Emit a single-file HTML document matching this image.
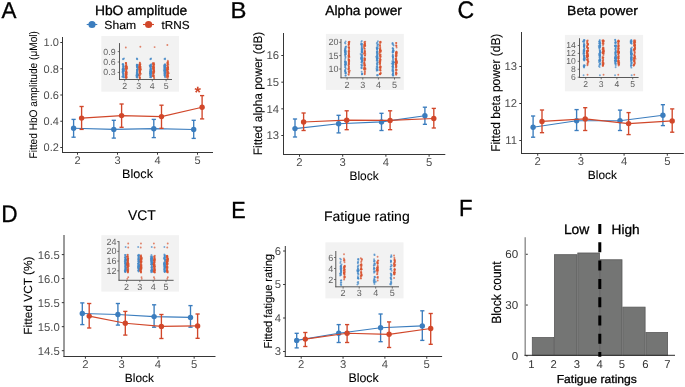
<!DOCTYPE html>
<html><head><meta charset="utf-8"><style>
html,body{margin:0;padding:0;background:#fff;}
svg{display:block;will-change:transform;text-rendering:geometricPrecision;font-family:"Liberation Sans", sans-serif;}
</style></head><body>
<svg width="685" height="387" viewBox="0 0 685 387">
<rect width="685" height="387" fill="#fff"/>
<line x1="86.70" y1="24.50" x2="97.30" y2="24.50" stroke="#3B7DBE" stroke-width="1.1"/>
<circle cx="92.00" cy="24.50" r="3.6" fill="#3B7DBE"/>
<line x1="143.00" y1="24.50" x2="154.00" y2="24.50" stroke="#D1472A" stroke-width="1.1"/>
<circle cx="148.60" cy="24.50" r="3.6" fill="#D1472A"/>
<line x1="62.50" y1="37.00" x2="62.50" y2="153.00" stroke="#363636" stroke-width="1.0"/>
<line x1="62.00" y1="152.50" x2="213.00" y2="152.50" stroke="#363636" stroke-width="1.0"/>
<line x1="60.30" y1="147.50" x2="62.50" y2="147.50" stroke="#363636" stroke-width="1.0"/>
<text x="58.90" y="151.29" font-size="11.00" text-anchor="end" fill="#4D4D4D">0.2</text>
<line x1="60.30" y1="121.25" x2="62.50" y2="121.25" stroke="#363636" stroke-width="1.0"/>
<text x="58.90" y="125.05" font-size="11.00" text-anchor="end" fill="#4D4D4D">0.4</text>
<line x1="60.30" y1="95.00" x2="62.50" y2="95.00" stroke="#363636" stroke-width="1.0"/>
<text x="58.90" y="98.80" font-size="11.00" text-anchor="end" fill="#4D4D4D">0.6</text>
<line x1="60.30" y1="68.75" x2="62.50" y2="68.75" stroke="#363636" stroke-width="1.0"/>
<text x="58.90" y="72.55" font-size="11.00" text-anchor="end" fill="#4D4D4D">0.8</text>
<line x1="60.30" y1="42.50" x2="62.50" y2="42.50" stroke="#363636" stroke-width="1.0"/>
<text x="58.90" y="46.30" font-size="11.00" text-anchor="end" fill="#4D4D4D">1.0</text>
<line x1="77.50" y1="152.50" x2="77.50" y2="154.70" stroke="#363636" stroke-width="1.0"/>
<text x="77.50" y="164.09" font-size="11.00" text-anchor="middle" fill="#4D4D4D">2</text>
<line x1="117.50" y1="152.50" x2="117.50" y2="154.70" stroke="#363636" stroke-width="1.0"/>
<text x="117.50" y="164.09" font-size="11.00" text-anchor="middle" fill="#4D4D4D">3</text>
<line x1="157.50" y1="152.50" x2="157.50" y2="154.70" stroke="#363636" stroke-width="1.0"/>
<text x="157.50" y="164.09" font-size="11.00" text-anchor="middle" fill="#4D4D4D">4</text>
<line x1="197.50" y1="152.50" x2="197.50" y2="154.70" stroke="#363636" stroke-width="1.0"/>
<text x="197.50" y="164.09" font-size="11.00" text-anchor="middle" fill="#4D4D4D">5</text>
<path d="M73.60,128.20 L113.80,129.40 L153.80,128.70 L193.70,129.50" fill="none" stroke="#3B7DBE" stroke-width="1.15"/>
<line x1="73.60" y1="119.40" x2="73.60" y2="137.20" stroke="#3B7DBE" stroke-width="1.35"/>
<line x1="71.50" y1="119.40" x2="75.70" y2="119.40" stroke="#3B7DBE" stroke-width="1.35"/>
<line x1="71.50" y1="137.20" x2="75.70" y2="137.20" stroke="#3B7DBE" stroke-width="1.35"/>
<circle cx="73.60" cy="128.20" r="2.7" fill="#3B7DBE"/>
<line x1="113.80" y1="120.30" x2="113.80" y2="138.10" stroke="#3B7DBE" stroke-width="1.35"/>
<line x1="111.70" y1="120.30" x2="115.90" y2="120.30" stroke="#3B7DBE" stroke-width="1.35"/>
<line x1="111.70" y1="138.10" x2="115.90" y2="138.10" stroke="#3B7DBE" stroke-width="1.35"/>
<circle cx="113.80" cy="129.40" r="2.7" fill="#3B7DBE"/>
<line x1="153.80" y1="119.40" x2="153.80" y2="137.60" stroke="#3B7DBE" stroke-width="1.35"/>
<line x1="151.70" y1="119.40" x2="155.90" y2="119.40" stroke="#3B7DBE" stroke-width="1.35"/>
<line x1="151.70" y1="137.60" x2="155.90" y2="137.60" stroke="#3B7DBE" stroke-width="1.35"/>
<circle cx="153.80" cy="128.70" r="2.7" fill="#3B7DBE"/>
<line x1="193.70" y1="120.30" x2="193.70" y2="138.40" stroke="#3B7DBE" stroke-width="1.35"/>
<line x1="191.60" y1="120.30" x2="195.80" y2="120.30" stroke="#3B7DBE" stroke-width="1.35"/>
<line x1="191.60" y1="138.40" x2="195.80" y2="138.40" stroke="#3B7DBE" stroke-width="1.35"/>
<circle cx="193.70" cy="129.50" r="2.7" fill="#3B7DBE"/>
<path d="M81.60,118.10 L121.60,115.60 L161.50,116.60 L202.10,107.30" fill="none" stroke="#D1472A" stroke-width="1.15"/>
<line x1="81.60" y1="106.50" x2="81.60" y2="129.40" stroke="#D1472A" stroke-width="1.35"/>
<line x1="79.50" y1="106.50" x2="83.70" y2="106.50" stroke="#D1472A" stroke-width="1.35"/>
<line x1="79.50" y1="129.40" x2="83.70" y2="129.40" stroke="#D1472A" stroke-width="1.35"/>
<circle cx="81.60" cy="118.10" r="2.7" fill="#D1472A"/>
<line x1="121.60" y1="104.00" x2="121.60" y2="127.30" stroke="#D1472A" stroke-width="1.35"/>
<line x1="119.50" y1="104.00" x2="123.70" y2="104.00" stroke="#D1472A" stroke-width="1.35"/>
<line x1="119.50" y1="127.30" x2="123.70" y2="127.30" stroke="#D1472A" stroke-width="1.35"/>
<circle cx="121.60" cy="115.60" r="2.7" fill="#D1472A"/>
<line x1="161.50" y1="105.20" x2="161.50" y2="128.30" stroke="#D1472A" stroke-width="1.35"/>
<line x1="159.40" y1="105.20" x2="163.60" y2="105.20" stroke="#D1472A" stroke-width="1.35"/>
<line x1="159.40" y1="128.30" x2="163.60" y2="128.30" stroke="#D1472A" stroke-width="1.35"/>
<circle cx="161.50" cy="116.60" r="2.7" fill="#D1472A"/>
<line x1="202.10" y1="95.60" x2="202.10" y2="118.90" stroke="#D1472A" stroke-width="1.35"/>
<line x1="200.00" y1="95.60" x2="204.20" y2="95.60" stroke="#D1472A" stroke-width="1.35"/>
<line x1="200.00" y1="118.90" x2="204.20" y2="118.90" stroke="#D1472A" stroke-width="1.35"/>
<circle cx="202.10" cy="107.30" r="2.7" fill="#D1472A"/>
<text x="197.60" y="97.60" font-size="16.50" text-anchor="middle" fill="#D1472A" font-weight="bold">*</text>
<rect x="101.30" y="36.00" width="77.70" height="55.70" fill="#F2F2F2"/>
<circle cx="122.80" cy="71.48" r="0.95" fill="#4589C8" fill-opacity="0.7"/>
<circle cx="123.65" cy="70.03" r="0.95" fill="#4589C8" fill-opacity="0.7"/>
<circle cx="123.57" cy="65.10" r="0.95" fill="#4589C8" fill-opacity="0.7"/>
<circle cx="123.33" cy="71.30" r="0.95" fill="#4589C8" fill-opacity="0.7"/>
<circle cx="122.94" cy="70.73" r="0.95" fill="#4589C8" fill-opacity="0.7"/>
<circle cx="122.50" cy="69.66" r="0.95" fill="#4589C8" fill-opacity="0.7"/>
<circle cx="123.49" cy="75.10" r="0.95" fill="#4589C8" fill-opacity="0.7"/>
<circle cx="123.26" cy="70.68" r="0.95" fill="#4589C8" fill-opacity="0.7"/>
<circle cx="122.63" cy="69.08" r="0.95" fill="#4589C8" fill-opacity="0.7"/>
<circle cx="123.28" cy="66.88" r="0.95" fill="#4589C8" fill-opacity="0.7"/>
<circle cx="122.69" cy="76.33" r="0.95" fill="#4589C8" fill-opacity="0.7"/>
<circle cx="123.29" cy="73.50" r="0.95" fill="#4589C8" fill-opacity="0.7"/>
<circle cx="123.36" cy="76.37" r="0.95" fill="#4589C8" fill-opacity="0.7"/>
<circle cx="123.44" cy="66.65" r="0.95" fill="#4589C8" fill-opacity="0.7"/>
<circle cx="123.39" cy="68.22" r="0.95" fill="#4589C8" fill-opacity="0.7"/>
<circle cx="123.37" cy="77.03" r="0.95" fill="#4589C8" fill-opacity="0.7"/>
<circle cx="122.84" cy="64.32" r="0.95" fill="#4589C8" fill-opacity="0.7"/>
<circle cx="123.15" cy="64.56" r="0.95" fill="#4589C8" fill-opacity="0.7"/>
<circle cx="123.10" cy="68.76" r="0.95" fill="#4589C8" fill-opacity="0.7"/>
<circle cx="123.21" cy="69.28" r="0.95" fill="#4589C8" fill-opacity="0.7"/>
<circle cx="123.41" cy="75.47" r="0.95" fill="#4589C8" fill-opacity="0.7"/>
<circle cx="123.55" cy="77.40" r="0.95" fill="#4589C8" fill-opacity="0.7"/>
<circle cx="123.95" cy="70.46" r="0.95" fill="#4589C8" fill-opacity="0.7"/>
<circle cx="122.27" cy="76.79" r="0.95" fill="#4589C8" fill-opacity="0.7"/>
<circle cx="123.46" cy="75.03" r="0.95" fill="#4589C8" fill-opacity="0.7"/>
<circle cx="123.22" cy="74.33" r="0.95" fill="#4589C8" fill-opacity="0.7"/>
<circle cx="124.21" cy="77.19" r="0.95" fill="#4589C8" fill-opacity="0.7"/>
<circle cx="123.67" cy="71.33" r="0.95" fill="#4589C8" fill-opacity="0.7"/>
<circle cx="122.64" cy="71.64" r="0.95" fill="#4589C8" fill-opacity="0.7"/>
<circle cx="123.46" cy="66.21" r="0.95" fill="#4589C8" fill-opacity="0.7"/>
<circle cx="123.09" cy="70.58" r="0.95" fill="#4589C8" fill-opacity="0.7"/>
<circle cx="123.70" cy="68.94" r="0.95" fill="#4589C8" fill-opacity="0.7"/>
<circle cx="122.88" cy="70.84" r="0.95" fill="#4589C8" fill-opacity="0.7"/>
<circle cx="123.26" cy="68.64" r="0.95" fill="#4589C8" fill-opacity="0.7"/>
<circle cx="123.25" cy="71.42" r="0.95" fill="#4589C8" fill-opacity="0.7"/>
<circle cx="123.26" cy="73.84" r="0.95" fill="#4589C8" fill-opacity="0.7"/>
<circle cx="123.07" cy="64.11" r="0.95" fill="#4589C8" fill-opacity="0.7"/>
<circle cx="122.56" cy="64.14" r="0.95" fill="#4589C8" fill-opacity="0.7"/>
<circle cx="123.48" cy="66.24" r="0.95" fill="#4589C8" fill-opacity="0.7"/>
<circle cx="123.70" cy="68.03" r="0.95" fill="#4589C8" fill-opacity="0.7"/>
<circle cx="123.27" cy="71.62" r="0.95" fill="#4589C8" fill-opacity="0.7"/>
<circle cx="122.89" cy="69.05" r="0.95" fill="#4589C8" fill-opacity="0.7"/>
<circle cx="123.38" cy="71.09" r="0.95" fill="#4589C8" fill-opacity="0.7"/>
<circle cx="123.53" cy="69.84" r="0.95" fill="#4589C8" fill-opacity="0.7"/>
<circle cx="123.23" cy="70.56" r="0.95" fill="#4589C8" fill-opacity="0.7"/>
<circle cx="123.29" cy="73.56" r="0.95" fill="#4589C8" fill-opacity="0.7"/>
<circle cx="123.86" cy="69.32" r="0.95" fill="#4589C8" fill-opacity="0.7"/>
<circle cx="122.85" cy="73.04" r="0.95" fill="#4589C8" fill-opacity="0.7"/>
<circle cx="123.08" cy="65.78" r="0.95" fill="#4589C8" fill-opacity="0.7"/>
<circle cx="122.54" cy="72.21" r="0.95" fill="#4589C8" fill-opacity="0.7"/>
<circle cx="123.02" cy="68.98" r="0.95" fill="#4589C8" fill-opacity="0.7"/>
<circle cx="123.00" cy="70.83" r="0.95" fill="#4589C8" fill-opacity="0.7"/>
<circle cx="122.92" cy="68.26" r="0.95" fill="#4589C8" fill-opacity="0.7"/>
<circle cx="123.02" cy="59.23" r="0.95" fill="#4589C8" fill-opacity="0.7"/>
<circle cx="124.02" cy="58.53" r="0.95" fill="#4589C8" fill-opacity="0.7"/>
<circle cx="123.22" cy="58.88" r="0.95" fill="#4589C8" fill-opacity="0.7"/>
<circle cx="126.15" cy="63.01" r="0.95" fill="#D9532F" fill-opacity="0.7"/>
<circle cx="127.08" cy="72.51" r="0.95" fill="#D9532F" fill-opacity="0.7"/>
<circle cx="126.18" cy="77.80" r="0.95" fill="#D9532F" fill-opacity="0.7"/>
<circle cx="125.51" cy="68.73" r="0.95" fill="#D9532F" fill-opacity="0.7"/>
<circle cx="126.36" cy="66.30" r="0.95" fill="#D9532F" fill-opacity="0.7"/>
<circle cx="125.83" cy="74.59" r="0.95" fill="#D9532F" fill-opacity="0.7"/>
<circle cx="126.86" cy="77.57" r="0.95" fill="#D9532F" fill-opacity="0.7"/>
<circle cx="125.70" cy="73.57" r="0.95" fill="#D9532F" fill-opacity="0.7"/>
<circle cx="125.97" cy="63.28" r="0.95" fill="#D9532F" fill-opacity="0.7"/>
<circle cx="125.56" cy="66.64" r="0.95" fill="#D9532F" fill-opacity="0.7"/>
<circle cx="126.24" cy="77.06" r="0.95" fill="#D9532F" fill-opacity="0.7"/>
<circle cx="125.79" cy="74.97" r="0.95" fill="#D9532F" fill-opacity="0.7"/>
<circle cx="126.17" cy="77.34" r="0.95" fill="#D9532F" fill-opacity="0.7"/>
<circle cx="126.05" cy="78.01" r="0.95" fill="#D9532F" fill-opacity="0.7"/>
<circle cx="125.95" cy="66.00" r="0.95" fill="#D9532F" fill-opacity="0.7"/>
<circle cx="126.58" cy="76.09" r="0.95" fill="#D9532F" fill-opacity="0.7"/>
<circle cx="126.57" cy="69.87" r="0.95" fill="#D9532F" fill-opacity="0.7"/>
<circle cx="126.22" cy="71.70" r="0.95" fill="#D9532F" fill-opacity="0.7"/>
<circle cx="125.84" cy="75.88" r="0.95" fill="#D9532F" fill-opacity="0.7"/>
<circle cx="125.77" cy="67.06" r="0.95" fill="#D9532F" fill-opacity="0.7"/>
<circle cx="126.31" cy="76.85" r="0.95" fill="#D9532F" fill-opacity="0.7"/>
<circle cx="127.16" cy="68.50" r="0.95" fill="#D9532F" fill-opacity="0.7"/>
<circle cx="126.02" cy="77.09" r="0.95" fill="#D9532F" fill-opacity="0.7"/>
<circle cx="125.89" cy="72.13" r="0.95" fill="#D9532F" fill-opacity="0.7"/>
<circle cx="125.92" cy="75.52" r="0.95" fill="#D9532F" fill-opacity="0.7"/>
<circle cx="125.76" cy="74.59" r="0.95" fill="#D9532F" fill-opacity="0.7"/>
<circle cx="125.81" cy="63.17" r="0.95" fill="#D9532F" fill-opacity="0.7"/>
<circle cx="126.12" cy="65.90" r="0.95" fill="#D9532F" fill-opacity="0.7"/>
<circle cx="126.77" cy="74.03" r="0.95" fill="#D9532F" fill-opacity="0.7"/>
<circle cx="126.20" cy="64.57" r="0.95" fill="#D9532F" fill-opacity="0.7"/>
<circle cx="126.00" cy="75.55" r="0.95" fill="#D9532F" fill-opacity="0.7"/>
<circle cx="125.55" cy="72.56" r="0.95" fill="#D9532F" fill-opacity="0.7"/>
<circle cx="126.29" cy="65.07" r="0.95" fill="#D9532F" fill-opacity="0.7"/>
<circle cx="126.19" cy="68.53" r="0.95" fill="#D9532F" fill-opacity="0.7"/>
<circle cx="125.71" cy="77.35" r="0.95" fill="#D9532F" fill-opacity="0.7"/>
<circle cx="125.77" cy="62.87" r="0.95" fill="#D9532F" fill-opacity="0.7"/>
<circle cx="126.18" cy="75.51" r="0.95" fill="#D9532F" fill-opacity="0.7"/>
<circle cx="126.60" cy="74.78" r="0.95" fill="#D9532F" fill-opacity="0.7"/>
<circle cx="126.45" cy="66.40" r="0.95" fill="#D9532F" fill-opacity="0.7"/>
<circle cx="126.28" cy="73.63" r="0.95" fill="#D9532F" fill-opacity="0.7"/>
<circle cx="126.07" cy="72.80" r="0.95" fill="#D9532F" fill-opacity="0.7"/>
<circle cx="126.33" cy="71.21" r="0.95" fill="#D9532F" fill-opacity="0.7"/>
<circle cx="126.20" cy="69.62" r="0.95" fill="#D9532F" fill-opacity="0.7"/>
<circle cx="127.07" cy="67.20" r="0.95" fill="#D9532F" fill-opacity="0.7"/>
<circle cx="125.75" cy="68.53" r="0.95" fill="#D9532F" fill-opacity="0.7"/>
<circle cx="126.05" cy="70.65" r="0.95" fill="#D9532F" fill-opacity="0.7"/>
<circle cx="126.71" cy="66.43" r="0.95" fill="#D9532F" fill-opacity="0.7"/>
<circle cx="126.09" cy="73.32" r="0.95" fill="#D9532F" fill-opacity="0.7"/>
<circle cx="126.77" cy="68.26" r="0.95" fill="#D9532F" fill-opacity="0.7"/>
<circle cx="126.18" cy="67.22" r="0.95" fill="#D9532F" fill-opacity="0.7"/>
<circle cx="126.26" cy="71.79" r="0.95" fill="#D9532F" fill-opacity="0.7"/>
<circle cx="126.05" cy="76.68" r="0.95" fill="#D9532F" fill-opacity="0.7"/>
<circle cx="125.65" cy="73.79" r="0.95" fill="#D9532F" fill-opacity="0.7"/>
<circle cx="125.81" cy="47.44" r="0.95" fill="#D9532F" fill-opacity="0.7"/>
<circle cx="138.09" cy="75.13" r="0.95" fill="#4589C8" fill-opacity="0.7"/>
<circle cx="137.46" cy="75.52" r="0.95" fill="#4589C8" fill-opacity="0.7"/>
<circle cx="137.44" cy="65.32" r="0.95" fill="#4589C8" fill-opacity="0.7"/>
<circle cx="137.58" cy="66.54" r="0.95" fill="#4589C8" fill-opacity="0.7"/>
<circle cx="137.43" cy="74.23" r="0.95" fill="#4589C8" fill-opacity="0.7"/>
<circle cx="137.61" cy="75.03" r="0.95" fill="#4589C8" fill-opacity="0.7"/>
<circle cx="137.09" cy="67.60" r="0.95" fill="#4589C8" fill-opacity="0.7"/>
<circle cx="137.11" cy="64.89" r="0.95" fill="#4589C8" fill-opacity="0.7"/>
<circle cx="137.59" cy="74.94" r="0.95" fill="#4589C8" fill-opacity="0.7"/>
<circle cx="137.06" cy="64.75" r="0.95" fill="#4589C8" fill-opacity="0.7"/>
<circle cx="136.67" cy="65.67" r="0.95" fill="#4589C8" fill-opacity="0.7"/>
<circle cx="137.11" cy="69.44" r="0.95" fill="#4589C8" fill-opacity="0.7"/>
<circle cx="136.98" cy="71.90" r="0.95" fill="#4589C8" fill-opacity="0.7"/>
<circle cx="137.45" cy="76.20" r="0.95" fill="#4589C8" fill-opacity="0.7"/>
<circle cx="136.91" cy="77.08" r="0.95" fill="#4589C8" fill-opacity="0.7"/>
<circle cx="136.78" cy="64.58" r="0.95" fill="#4589C8" fill-opacity="0.7"/>
<circle cx="137.07" cy="74.38" r="0.95" fill="#4589C8" fill-opacity="0.7"/>
<circle cx="137.82" cy="68.07" r="0.95" fill="#4589C8" fill-opacity="0.7"/>
<circle cx="137.18" cy="74.13" r="0.95" fill="#4589C8" fill-opacity="0.7"/>
<circle cx="137.26" cy="66.46" r="0.95" fill="#4589C8" fill-opacity="0.7"/>
<circle cx="137.20" cy="69.54" r="0.95" fill="#4589C8" fill-opacity="0.7"/>
<circle cx="137.32" cy="73.63" r="0.95" fill="#4589C8" fill-opacity="0.7"/>
<circle cx="137.57" cy="75.23" r="0.95" fill="#4589C8" fill-opacity="0.7"/>
<circle cx="137.76" cy="67.86" r="0.95" fill="#4589C8" fill-opacity="0.7"/>
<circle cx="136.54" cy="76.67" r="0.95" fill="#4589C8" fill-opacity="0.7"/>
<circle cx="137.74" cy="74.51" r="0.95" fill="#4589C8" fill-opacity="0.7"/>
<circle cx="137.20" cy="70.04" r="0.95" fill="#4589C8" fill-opacity="0.7"/>
<circle cx="137.07" cy="66.08" r="0.95" fill="#4589C8" fill-opacity="0.7"/>
<circle cx="138.16" cy="69.29" r="0.95" fill="#4589C8" fill-opacity="0.7"/>
<circle cx="137.13" cy="73.81" r="0.95" fill="#4589C8" fill-opacity="0.7"/>
<circle cx="137.98" cy="65.20" r="0.95" fill="#4589C8" fill-opacity="0.7"/>
<circle cx="137.59" cy="74.84" r="0.95" fill="#4589C8" fill-opacity="0.7"/>
<circle cx="136.79" cy="77.38" r="0.95" fill="#4589C8" fill-opacity="0.7"/>
<circle cx="137.40" cy="73.96" r="0.95" fill="#4589C8" fill-opacity="0.7"/>
<circle cx="137.49" cy="71.57" r="0.95" fill="#4589C8" fill-opacity="0.7"/>
<circle cx="137.15" cy="76.78" r="0.95" fill="#4589C8" fill-opacity="0.7"/>
<circle cx="136.27" cy="75.22" r="0.95" fill="#4589C8" fill-opacity="0.7"/>
<circle cx="137.06" cy="72.61" r="0.95" fill="#4589C8" fill-opacity="0.7"/>
<circle cx="137.12" cy="69.86" r="0.95" fill="#4589C8" fill-opacity="0.7"/>
<circle cx="136.76" cy="75.82" r="0.95" fill="#4589C8" fill-opacity="0.7"/>
<circle cx="137.93" cy="74.53" r="0.95" fill="#4589C8" fill-opacity="0.7"/>
<circle cx="137.10" cy="66.50" r="0.95" fill="#4589C8" fill-opacity="0.7"/>
<circle cx="137.04" cy="66.91" r="0.95" fill="#4589C8" fill-opacity="0.7"/>
<circle cx="137.08" cy="71.32" r="0.95" fill="#4589C8" fill-opacity="0.7"/>
<circle cx="136.89" cy="72.13" r="0.95" fill="#4589C8" fill-opacity="0.7"/>
<circle cx="136.89" cy="74.18" r="0.95" fill="#4589C8" fill-opacity="0.7"/>
<circle cx="137.24" cy="70.38" r="0.95" fill="#4589C8" fill-opacity="0.7"/>
<circle cx="137.33" cy="70.28" r="0.95" fill="#4589C8" fill-opacity="0.7"/>
<circle cx="137.00" cy="64.94" r="0.95" fill="#4589C8" fill-opacity="0.7"/>
<circle cx="137.16" cy="70.17" r="0.95" fill="#4589C8" fill-opacity="0.7"/>
<circle cx="136.64" cy="72.94" r="0.95" fill="#4589C8" fill-opacity="0.7"/>
<circle cx="137.41" cy="77.45" r="0.95" fill="#4589C8" fill-opacity="0.7"/>
<circle cx="136.90" cy="67.03" r="0.95" fill="#4589C8" fill-opacity="0.7"/>
<circle cx="137.29" cy="59.23" r="0.95" fill="#4589C8" fill-opacity="0.7"/>
<circle cx="136.84" cy="58.53" r="0.95" fill="#4589C8" fill-opacity="0.7"/>
<circle cx="136.99" cy="58.88" r="0.95" fill="#4589C8" fill-opacity="0.7"/>
<circle cx="139.99" cy="71.13" r="0.95" fill="#D9532F" fill-opacity="0.7"/>
<circle cx="139.42" cy="67.08" r="0.95" fill="#D9532F" fill-opacity="0.7"/>
<circle cx="140.89" cy="73.79" r="0.95" fill="#D9532F" fill-opacity="0.7"/>
<circle cx="139.89" cy="62.70" r="0.95" fill="#D9532F" fill-opacity="0.7"/>
<circle cx="139.87" cy="77.76" r="0.95" fill="#D9532F" fill-opacity="0.7"/>
<circle cx="139.61" cy="70.09" r="0.95" fill="#D9532F" fill-opacity="0.7"/>
<circle cx="140.54" cy="66.98" r="0.95" fill="#D9532F" fill-opacity="0.7"/>
<circle cx="140.45" cy="64.32" r="0.95" fill="#D9532F" fill-opacity="0.7"/>
<circle cx="140.02" cy="66.98" r="0.95" fill="#D9532F" fill-opacity="0.7"/>
<circle cx="139.35" cy="67.52" r="0.95" fill="#D9532F" fill-opacity="0.7"/>
<circle cx="139.70" cy="66.06" r="0.95" fill="#D9532F" fill-opacity="0.7"/>
<circle cx="140.15" cy="64.08" r="0.95" fill="#D9532F" fill-opacity="0.7"/>
<circle cx="139.70" cy="73.25" r="0.95" fill="#D9532F" fill-opacity="0.7"/>
<circle cx="139.43" cy="67.82" r="0.95" fill="#D9532F" fill-opacity="0.7"/>
<circle cx="139.42" cy="64.31" r="0.95" fill="#D9532F" fill-opacity="0.7"/>
<circle cx="139.59" cy="64.79" r="0.95" fill="#D9532F" fill-opacity="0.7"/>
<circle cx="139.91" cy="72.19" r="0.95" fill="#D9532F" fill-opacity="0.7"/>
<circle cx="139.64" cy="66.11" r="0.95" fill="#D9532F" fill-opacity="0.7"/>
<circle cx="139.91" cy="64.92" r="0.95" fill="#D9532F" fill-opacity="0.7"/>
<circle cx="141.02" cy="69.65" r="0.95" fill="#D9532F" fill-opacity="0.7"/>
<circle cx="140.61" cy="68.80" r="0.95" fill="#D9532F" fill-opacity="0.7"/>
<circle cx="139.48" cy="72.76" r="0.95" fill="#D9532F" fill-opacity="0.7"/>
<circle cx="140.04" cy="69.49" r="0.95" fill="#D9532F" fill-opacity="0.7"/>
<circle cx="139.93" cy="69.07" r="0.95" fill="#D9532F" fill-opacity="0.7"/>
<circle cx="139.84" cy="77.68" r="0.95" fill="#D9532F" fill-opacity="0.7"/>
<circle cx="140.32" cy="68.57" r="0.95" fill="#D9532F" fill-opacity="0.7"/>
<circle cx="139.77" cy="62.80" r="0.95" fill="#D9532F" fill-opacity="0.7"/>
<circle cx="139.77" cy="64.65" r="0.95" fill="#D9532F" fill-opacity="0.7"/>
<circle cx="139.75" cy="67.12" r="0.95" fill="#D9532F" fill-opacity="0.7"/>
<circle cx="139.86" cy="72.66" r="0.95" fill="#D9532F" fill-opacity="0.7"/>
<circle cx="140.41" cy="67.01" r="0.95" fill="#D9532F" fill-opacity="0.7"/>
<circle cx="140.21" cy="69.52" r="0.95" fill="#D9532F" fill-opacity="0.7"/>
<circle cx="139.36" cy="71.81" r="0.95" fill="#D9532F" fill-opacity="0.7"/>
<circle cx="139.72" cy="65.33" r="0.95" fill="#D9532F" fill-opacity="0.7"/>
<circle cx="139.58" cy="77.62" r="0.95" fill="#D9532F" fill-opacity="0.7"/>
<circle cx="140.23" cy="66.76" r="0.95" fill="#D9532F" fill-opacity="0.7"/>
<circle cx="139.99" cy="78.50" r="0.95" fill="#D9532F" fill-opacity="0.7"/>
<circle cx="140.26" cy="69.19" r="0.95" fill="#D9532F" fill-opacity="0.7"/>
<circle cx="139.88" cy="71.15" r="0.95" fill="#D9532F" fill-opacity="0.7"/>
<circle cx="139.14" cy="75.24" r="0.95" fill="#D9532F" fill-opacity="0.7"/>
<circle cx="140.08" cy="70.22" r="0.95" fill="#D9532F" fill-opacity="0.7"/>
<circle cx="139.99" cy="72.06" r="0.95" fill="#D9532F" fill-opacity="0.7"/>
<circle cx="140.10" cy="74.46" r="0.95" fill="#D9532F" fill-opacity="0.7"/>
<circle cx="139.38" cy="76.36" r="0.95" fill="#D9532F" fill-opacity="0.7"/>
<circle cx="139.93" cy="75.67" r="0.95" fill="#D9532F" fill-opacity="0.7"/>
<circle cx="139.62" cy="70.86" r="0.95" fill="#D9532F" fill-opacity="0.7"/>
<circle cx="139.63" cy="70.35" r="0.95" fill="#D9532F" fill-opacity="0.7"/>
<circle cx="140.04" cy="72.39" r="0.95" fill="#D9532F" fill-opacity="0.7"/>
<circle cx="140.04" cy="66.18" r="0.95" fill="#D9532F" fill-opacity="0.7"/>
<circle cx="139.54" cy="70.26" r="0.95" fill="#D9532F" fill-opacity="0.7"/>
<circle cx="139.22" cy="68.94" r="0.95" fill="#D9532F" fill-opacity="0.7"/>
<circle cx="138.91" cy="66.87" r="0.95" fill="#D9532F" fill-opacity="0.7"/>
<circle cx="139.67" cy="73.51" r="0.95" fill="#D9532F" fill-opacity="0.7"/>
<circle cx="140.35" cy="46.75" r="0.95" fill="#D9532F" fill-opacity="0.7"/>
<circle cx="150.58" cy="71.63" r="0.95" fill="#4589C8" fill-opacity="0.7"/>
<circle cx="149.70" cy="65.54" r="0.95" fill="#4589C8" fill-opacity="0.7"/>
<circle cx="150.25" cy="73.18" r="0.95" fill="#4589C8" fill-opacity="0.7"/>
<circle cx="150.77" cy="68.60" r="0.95" fill="#4589C8" fill-opacity="0.7"/>
<circle cx="151.27" cy="74.92" r="0.95" fill="#4589C8" fill-opacity="0.7"/>
<circle cx="151.07" cy="71.77" r="0.95" fill="#4589C8" fill-opacity="0.7"/>
<circle cx="150.75" cy="66.70" r="0.95" fill="#4589C8" fill-opacity="0.7"/>
<circle cx="150.68" cy="65.24" r="0.95" fill="#4589C8" fill-opacity="0.7"/>
<circle cx="150.18" cy="65.70" r="0.95" fill="#4589C8" fill-opacity="0.7"/>
<circle cx="150.42" cy="72.40" r="0.95" fill="#4589C8" fill-opacity="0.7"/>
<circle cx="150.47" cy="69.72" r="0.95" fill="#4589C8" fill-opacity="0.7"/>
<circle cx="150.29" cy="73.32" r="0.95" fill="#4589C8" fill-opacity="0.7"/>
<circle cx="150.63" cy="75.76" r="0.95" fill="#4589C8" fill-opacity="0.7"/>
<circle cx="150.44" cy="70.89" r="0.95" fill="#4589C8" fill-opacity="0.7"/>
<circle cx="150.73" cy="66.28" r="0.95" fill="#4589C8" fill-opacity="0.7"/>
<circle cx="151.17" cy="66.13" r="0.95" fill="#4589C8" fill-opacity="0.7"/>
<circle cx="150.90" cy="67.98" r="0.95" fill="#4589C8" fill-opacity="0.7"/>
<circle cx="150.77" cy="64.76" r="0.95" fill="#4589C8" fill-opacity="0.7"/>
<circle cx="150.50" cy="73.86" r="0.95" fill="#4589C8" fill-opacity="0.7"/>
<circle cx="149.99" cy="75.31" r="0.95" fill="#4589C8" fill-opacity="0.7"/>
<circle cx="150.55" cy="71.51" r="0.95" fill="#4589C8" fill-opacity="0.7"/>
<circle cx="150.82" cy="73.88" r="0.95" fill="#4589C8" fill-opacity="0.7"/>
<circle cx="150.20" cy="74.71" r="0.95" fill="#4589C8" fill-opacity="0.7"/>
<circle cx="151.10" cy="72.00" r="0.95" fill="#4589C8" fill-opacity="0.7"/>
<circle cx="150.47" cy="69.14" r="0.95" fill="#4589C8" fill-opacity="0.7"/>
<circle cx="150.75" cy="70.92" r="0.95" fill="#4589C8" fill-opacity="0.7"/>
<circle cx="150.47" cy="73.34" r="0.95" fill="#4589C8" fill-opacity="0.7"/>
<circle cx="150.10" cy="66.26" r="0.95" fill="#4589C8" fill-opacity="0.7"/>
<circle cx="151.43" cy="64.32" r="0.95" fill="#4589C8" fill-opacity="0.7"/>
<circle cx="150.14" cy="71.48" r="0.95" fill="#4589C8" fill-opacity="0.7"/>
<circle cx="150.97" cy="76.59" r="0.95" fill="#4589C8" fill-opacity="0.7"/>
<circle cx="150.38" cy="77.17" r="0.95" fill="#4589C8" fill-opacity="0.7"/>
<circle cx="150.71" cy="65.80" r="0.95" fill="#4589C8" fill-opacity="0.7"/>
<circle cx="150.28" cy="77.04" r="0.95" fill="#4589C8" fill-opacity="0.7"/>
<circle cx="150.43" cy="68.02" r="0.95" fill="#4589C8" fill-opacity="0.7"/>
<circle cx="150.97" cy="69.89" r="0.95" fill="#4589C8" fill-opacity="0.7"/>
<circle cx="151.38" cy="73.42" r="0.95" fill="#4589C8" fill-opacity="0.7"/>
<circle cx="150.26" cy="66.90" r="0.95" fill="#4589C8" fill-opacity="0.7"/>
<circle cx="150.60" cy="77.34" r="0.95" fill="#4589C8" fill-opacity="0.7"/>
<circle cx="150.98" cy="75.76" r="0.95" fill="#4589C8" fill-opacity="0.7"/>
<circle cx="150.35" cy="71.42" r="0.95" fill="#4589C8" fill-opacity="0.7"/>
<circle cx="150.88" cy="70.67" r="0.95" fill="#4589C8" fill-opacity="0.7"/>
<circle cx="150.29" cy="69.88" r="0.95" fill="#4589C8" fill-opacity="0.7"/>
<circle cx="150.84" cy="72.59" r="0.95" fill="#4589C8" fill-opacity="0.7"/>
<circle cx="150.77" cy="70.31" r="0.95" fill="#4589C8" fill-opacity="0.7"/>
<circle cx="151.08" cy="70.19" r="0.95" fill="#4589C8" fill-opacity="0.7"/>
<circle cx="150.75" cy="72.86" r="0.95" fill="#4589C8" fill-opacity="0.7"/>
<circle cx="150.12" cy="72.97" r="0.95" fill="#4589C8" fill-opacity="0.7"/>
<circle cx="150.87" cy="73.54" r="0.95" fill="#4589C8" fill-opacity="0.7"/>
<circle cx="150.16" cy="73.72" r="0.95" fill="#4589C8" fill-opacity="0.7"/>
<circle cx="150.90" cy="68.43" r="0.95" fill="#4589C8" fill-opacity="0.7"/>
<circle cx="151.20" cy="77.22" r="0.95" fill="#4589C8" fill-opacity="0.7"/>
<circle cx="150.84" cy="71.56" r="0.95" fill="#4589C8" fill-opacity="0.7"/>
<circle cx="150.38" cy="59.23" r="0.95" fill="#4589C8" fill-opacity="0.7"/>
<circle cx="151.08" cy="58.53" r="0.95" fill="#4589C8" fill-opacity="0.7"/>
<circle cx="150.67" cy="58.88" r="0.95" fill="#4589C8" fill-opacity="0.7"/>
<circle cx="153.10" cy="71.25" r="0.95" fill="#D9532F" fill-opacity="0.7"/>
<circle cx="153.46" cy="76.08" r="0.95" fill="#D9532F" fill-opacity="0.7"/>
<circle cx="154.17" cy="78.81" r="0.95" fill="#D9532F" fill-opacity="0.7"/>
<circle cx="153.48" cy="71.29" r="0.95" fill="#D9532F" fill-opacity="0.7"/>
<circle cx="153.65" cy="67.35" r="0.95" fill="#D9532F" fill-opacity="0.7"/>
<circle cx="153.46" cy="76.07" r="0.95" fill="#D9532F" fill-opacity="0.7"/>
<circle cx="152.93" cy="74.55" r="0.95" fill="#D9532F" fill-opacity="0.7"/>
<circle cx="153.40" cy="73.35" r="0.95" fill="#D9532F" fill-opacity="0.7"/>
<circle cx="153.74" cy="67.63" r="0.95" fill="#D9532F" fill-opacity="0.7"/>
<circle cx="153.68" cy="70.51" r="0.95" fill="#D9532F" fill-opacity="0.7"/>
<circle cx="153.53" cy="68.98" r="0.95" fill="#D9532F" fill-opacity="0.7"/>
<circle cx="152.75" cy="66.67" r="0.95" fill="#D9532F" fill-opacity="0.7"/>
<circle cx="154.09" cy="72.57" r="0.95" fill="#D9532F" fill-opacity="0.7"/>
<circle cx="153.89" cy="66.08" r="0.95" fill="#D9532F" fill-opacity="0.7"/>
<circle cx="154.01" cy="64.22" r="0.95" fill="#D9532F" fill-opacity="0.7"/>
<circle cx="154.12" cy="77.57" r="0.95" fill="#D9532F" fill-opacity="0.7"/>
<circle cx="153.42" cy="63.79" r="0.95" fill="#D9532F" fill-opacity="0.7"/>
<circle cx="153.36" cy="67.22" r="0.95" fill="#D9532F" fill-opacity="0.7"/>
<circle cx="153.73" cy="76.87" r="0.95" fill="#D9532F" fill-opacity="0.7"/>
<circle cx="154.27" cy="71.60" r="0.95" fill="#D9532F" fill-opacity="0.7"/>
<circle cx="152.93" cy="68.79" r="0.95" fill="#D9532F" fill-opacity="0.7"/>
<circle cx="153.51" cy="64.16" r="0.95" fill="#D9532F" fill-opacity="0.7"/>
<circle cx="153.31" cy="72.85" r="0.95" fill="#D9532F" fill-opacity="0.7"/>
<circle cx="153.82" cy="69.72" r="0.95" fill="#D9532F" fill-opacity="0.7"/>
<circle cx="154.19" cy="64.66" r="0.95" fill="#D9532F" fill-opacity="0.7"/>
<circle cx="153.48" cy="66.00" r="0.95" fill="#D9532F" fill-opacity="0.7"/>
<circle cx="153.10" cy="63.60" r="0.95" fill="#D9532F" fill-opacity="0.7"/>
<circle cx="153.62" cy="71.43" r="0.95" fill="#D9532F" fill-opacity="0.7"/>
<circle cx="153.49" cy="68.37" r="0.95" fill="#D9532F" fill-opacity="0.7"/>
<circle cx="152.98" cy="75.65" r="0.95" fill="#D9532F" fill-opacity="0.7"/>
<circle cx="153.95" cy="67.22" r="0.95" fill="#D9532F" fill-opacity="0.7"/>
<circle cx="153.39" cy="65.65" r="0.95" fill="#D9532F" fill-opacity="0.7"/>
<circle cx="153.87" cy="68.53" r="0.95" fill="#D9532F" fill-opacity="0.7"/>
<circle cx="153.07" cy="67.29" r="0.95" fill="#D9532F" fill-opacity="0.7"/>
<circle cx="154.04" cy="75.51" r="0.95" fill="#D9532F" fill-opacity="0.7"/>
<circle cx="153.02" cy="64.32" r="0.95" fill="#D9532F" fill-opacity="0.7"/>
<circle cx="154.02" cy="63.01" r="0.95" fill="#D9532F" fill-opacity="0.7"/>
<circle cx="152.88" cy="63.06" r="0.95" fill="#D9532F" fill-opacity="0.7"/>
<circle cx="154.15" cy="70.24" r="0.95" fill="#D9532F" fill-opacity="0.7"/>
<circle cx="153.45" cy="66.10" r="0.95" fill="#D9532F" fill-opacity="0.7"/>
<circle cx="152.98" cy="72.83" r="0.95" fill="#D9532F" fill-opacity="0.7"/>
<circle cx="153.51" cy="73.90" r="0.95" fill="#D9532F" fill-opacity="0.7"/>
<circle cx="153.73" cy="64.38" r="0.95" fill="#D9532F" fill-opacity="0.7"/>
<circle cx="153.20" cy="68.98" r="0.95" fill="#D9532F" fill-opacity="0.7"/>
<circle cx="153.40" cy="73.21" r="0.95" fill="#D9532F" fill-opacity="0.7"/>
<circle cx="153.71" cy="67.79" r="0.95" fill="#D9532F" fill-opacity="0.7"/>
<circle cx="153.53" cy="69.09" r="0.95" fill="#D9532F" fill-opacity="0.7"/>
<circle cx="152.37" cy="76.14" r="0.95" fill="#D9532F" fill-opacity="0.7"/>
<circle cx="153.43" cy="72.57" r="0.95" fill="#D9532F" fill-opacity="0.7"/>
<circle cx="153.77" cy="71.62" r="0.95" fill="#D9532F" fill-opacity="0.7"/>
<circle cx="153.72" cy="70.78" r="0.95" fill="#D9532F" fill-opacity="0.7"/>
<circle cx="154.00" cy="70.41" r="0.95" fill="#D9532F" fill-opacity="0.7"/>
<circle cx="153.32" cy="71.94" r="0.95" fill="#D9532F" fill-opacity="0.7"/>
<circle cx="154.62" cy="47.09" r="0.95" fill="#D9532F" fill-opacity="0.7"/>
<circle cx="165.12" cy="66.79" r="0.95" fill="#4589C8" fill-opacity="0.7"/>
<circle cx="164.92" cy="75.26" r="0.95" fill="#4589C8" fill-opacity="0.7"/>
<circle cx="165.23" cy="73.07" r="0.95" fill="#4589C8" fill-opacity="0.7"/>
<circle cx="165.18" cy="66.95" r="0.95" fill="#4589C8" fill-opacity="0.7"/>
<circle cx="164.84" cy="75.70" r="0.95" fill="#4589C8" fill-opacity="0.7"/>
<circle cx="164.55" cy="75.59" r="0.95" fill="#4589C8" fill-opacity="0.7"/>
<circle cx="165.21" cy="70.62" r="0.95" fill="#4589C8" fill-opacity="0.7"/>
<circle cx="164.97" cy="67.82" r="0.95" fill="#4589C8" fill-opacity="0.7"/>
<circle cx="164.04" cy="66.24" r="0.95" fill="#4589C8" fill-opacity="0.7"/>
<circle cx="164.36" cy="68.28" r="0.95" fill="#4589C8" fill-opacity="0.7"/>
<circle cx="164.99" cy="64.81" r="0.95" fill="#4589C8" fill-opacity="0.7"/>
<circle cx="164.84" cy="70.94" r="0.95" fill="#4589C8" fill-opacity="0.7"/>
<circle cx="164.91" cy="64.77" r="0.95" fill="#4589C8" fill-opacity="0.7"/>
<circle cx="165.06" cy="76.44" r="0.95" fill="#4589C8" fill-opacity="0.7"/>
<circle cx="164.86" cy="74.61" r="0.95" fill="#4589C8" fill-opacity="0.7"/>
<circle cx="165.43" cy="70.48" r="0.95" fill="#4589C8" fill-opacity="0.7"/>
<circle cx="164.56" cy="73.68" r="0.95" fill="#4589C8" fill-opacity="0.7"/>
<circle cx="164.64" cy="67.75" r="0.95" fill="#4589C8" fill-opacity="0.7"/>
<circle cx="164.93" cy="68.96" r="0.95" fill="#4589C8" fill-opacity="0.7"/>
<circle cx="165.10" cy="70.53" r="0.95" fill="#4589C8" fill-opacity="0.7"/>
<circle cx="165.12" cy="66.19" r="0.95" fill="#4589C8" fill-opacity="0.7"/>
<circle cx="165.40" cy="70.03" r="0.95" fill="#4589C8" fill-opacity="0.7"/>
<circle cx="164.61" cy="73.39" r="0.95" fill="#4589C8" fill-opacity="0.7"/>
<circle cx="165.27" cy="72.45" r="0.95" fill="#4589C8" fill-opacity="0.7"/>
<circle cx="164.99" cy="66.17" r="0.95" fill="#4589C8" fill-opacity="0.7"/>
<circle cx="164.38" cy="65.42" r="0.95" fill="#4589C8" fill-opacity="0.7"/>
<circle cx="164.75" cy="74.78" r="0.95" fill="#4589C8" fill-opacity="0.7"/>
<circle cx="165.63" cy="66.10" r="0.95" fill="#4589C8" fill-opacity="0.7"/>
<circle cx="165.11" cy="64.51" r="0.95" fill="#4589C8" fill-opacity="0.7"/>
<circle cx="164.61" cy="70.51" r="0.95" fill="#4589C8" fill-opacity="0.7"/>
<circle cx="163.84" cy="69.85" r="0.95" fill="#4589C8" fill-opacity="0.7"/>
<circle cx="164.51" cy="74.88" r="0.95" fill="#4589C8" fill-opacity="0.7"/>
<circle cx="164.52" cy="70.35" r="0.95" fill="#4589C8" fill-opacity="0.7"/>
<circle cx="164.83" cy="70.80" r="0.95" fill="#4589C8" fill-opacity="0.7"/>
<circle cx="165.72" cy="69.42" r="0.95" fill="#4589C8" fill-opacity="0.7"/>
<circle cx="165.10" cy="77.22" r="0.95" fill="#4589C8" fill-opacity="0.7"/>
<circle cx="164.93" cy="64.49" r="0.95" fill="#4589C8" fill-opacity="0.7"/>
<circle cx="164.43" cy="70.62" r="0.95" fill="#4589C8" fill-opacity="0.7"/>
<circle cx="164.33" cy="72.18" r="0.95" fill="#4589C8" fill-opacity="0.7"/>
<circle cx="164.72" cy="66.77" r="0.95" fill="#4589C8" fill-opacity="0.7"/>
<circle cx="164.61" cy="73.74" r="0.95" fill="#4589C8" fill-opacity="0.7"/>
<circle cx="166.00" cy="72.05" r="0.95" fill="#4589C8" fill-opacity="0.7"/>
<circle cx="164.64" cy="71.20" r="0.95" fill="#4589C8" fill-opacity="0.7"/>
<circle cx="164.55" cy="71.77" r="0.95" fill="#4589C8" fill-opacity="0.7"/>
<circle cx="165.25" cy="73.55" r="0.95" fill="#4589C8" fill-opacity="0.7"/>
<circle cx="164.83" cy="71.51" r="0.95" fill="#4589C8" fill-opacity="0.7"/>
<circle cx="164.31" cy="64.93" r="0.95" fill="#4589C8" fill-opacity="0.7"/>
<circle cx="165.32" cy="72.48" r="0.95" fill="#4589C8" fill-opacity="0.7"/>
<circle cx="164.68" cy="71.21" r="0.95" fill="#4589C8" fill-opacity="0.7"/>
<circle cx="164.27" cy="67.80" r="0.95" fill="#4589C8" fill-opacity="0.7"/>
<circle cx="164.93" cy="68.83" r="0.95" fill="#4589C8" fill-opacity="0.7"/>
<circle cx="165.00" cy="68.78" r="0.95" fill="#4589C8" fill-opacity="0.7"/>
<circle cx="164.66" cy="68.51" r="0.95" fill="#4589C8" fill-opacity="0.7"/>
<circle cx="165.08" cy="59.23" r="0.95" fill="#4589C8" fill-opacity="0.7"/>
<circle cx="165.13" cy="58.53" r="0.95" fill="#4589C8" fill-opacity="0.7"/>
<circle cx="164.45" cy="58.88" r="0.95" fill="#4589C8" fill-opacity="0.7"/>
<circle cx="166.78" cy="70.23" r="0.95" fill="#D9532F" fill-opacity="0.7"/>
<circle cx="166.64" cy="73.16" r="0.95" fill="#D9532F" fill-opacity="0.7"/>
<circle cx="167.55" cy="75.47" r="0.95" fill="#D9532F" fill-opacity="0.7"/>
<circle cx="168.09" cy="67.63" r="0.95" fill="#D9532F" fill-opacity="0.7"/>
<circle cx="168.00" cy="61.99" r="0.95" fill="#D9532F" fill-opacity="0.7"/>
<circle cx="168.16" cy="76.61" r="0.95" fill="#D9532F" fill-opacity="0.7"/>
<circle cx="168.34" cy="64.67" r="0.95" fill="#D9532F" fill-opacity="0.7"/>
<circle cx="167.61" cy="78.57" r="0.95" fill="#D9532F" fill-opacity="0.7"/>
<circle cx="168.02" cy="75.42" r="0.95" fill="#D9532F" fill-opacity="0.7"/>
<circle cx="166.99" cy="74.81" r="0.95" fill="#D9532F" fill-opacity="0.7"/>
<circle cx="167.88" cy="66.36" r="0.95" fill="#D9532F" fill-opacity="0.7"/>
<circle cx="167.76" cy="73.07" r="0.95" fill="#D9532F" fill-opacity="0.7"/>
<circle cx="167.56" cy="72.46" r="0.95" fill="#D9532F" fill-opacity="0.7"/>
<circle cx="167.42" cy="67.60" r="0.95" fill="#D9532F" fill-opacity="0.7"/>
<circle cx="167.15" cy="77.06" r="0.95" fill="#D9532F" fill-opacity="0.7"/>
<circle cx="167.66" cy="65.56" r="0.95" fill="#D9532F" fill-opacity="0.7"/>
<circle cx="168.11" cy="76.73" r="0.95" fill="#D9532F" fill-opacity="0.7"/>
<circle cx="167.45" cy="69.61" r="0.95" fill="#D9532F" fill-opacity="0.7"/>
<circle cx="167.81" cy="74.38" r="0.95" fill="#D9532F" fill-opacity="0.7"/>
<circle cx="167.33" cy="75.35" r="0.95" fill="#D9532F" fill-opacity="0.7"/>
<circle cx="167.70" cy="69.24" r="0.95" fill="#D9532F" fill-opacity="0.7"/>
<circle cx="167.20" cy="70.96" r="0.95" fill="#D9532F" fill-opacity="0.7"/>
<circle cx="167.75" cy="72.08" r="0.95" fill="#D9532F" fill-opacity="0.7"/>
<circle cx="167.51" cy="71.39" r="0.95" fill="#D9532F" fill-opacity="0.7"/>
<circle cx="167.73" cy="69.26" r="0.95" fill="#D9532F" fill-opacity="0.7"/>
<circle cx="167.36" cy="76.05" r="0.95" fill="#D9532F" fill-opacity="0.7"/>
<circle cx="167.13" cy="75.23" r="0.95" fill="#D9532F" fill-opacity="0.7"/>
<circle cx="167.47" cy="67.39" r="0.95" fill="#D9532F" fill-opacity="0.7"/>
<circle cx="168.01" cy="67.26" r="0.95" fill="#D9532F" fill-opacity="0.7"/>
<circle cx="168.23" cy="69.26" r="0.95" fill="#D9532F" fill-opacity="0.7"/>
<circle cx="167.47" cy="63.35" r="0.95" fill="#D9532F" fill-opacity="0.7"/>
<circle cx="167.92" cy="67.75" r="0.95" fill="#D9532F" fill-opacity="0.7"/>
<circle cx="167.90" cy="63.25" r="0.95" fill="#D9532F" fill-opacity="0.7"/>
<circle cx="167.76" cy="74.71" r="0.95" fill="#D9532F" fill-opacity="0.7"/>
<circle cx="166.98" cy="65.38" r="0.95" fill="#D9532F" fill-opacity="0.7"/>
<circle cx="167.73" cy="64.09" r="0.95" fill="#D9532F" fill-opacity="0.7"/>
<circle cx="167.21" cy="62.40" r="0.95" fill="#D9532F" fill-opacity="0.7"/>
<circle cx="168.07" cy="73.18" r="0.95" fill="#D9532F" fill-opacity="0.7"/>
<circle cx="167.92" cy="73.20" r="0.95" fill="#D9532F" fill-opacity="0.7"/>
<circle cx="167.85" cy="62.03" r="0.95" fill="#D9532F" fill-opacity="0.7"/>
<circle cx="166.59" cy="77.03" r="0.95" fill="#D9532F" fill-opacity="0.7"/>
<circle cx="167.85" cy="67.18" r="0.95" fill="#D9532F" fill-opacity="0.7"/>
<circle cx="167.88" cy="60.61" r="0.95" fill="#D9532F" fill-opacity="0.7"/>
<circle cx="167.09" cy="68.30" r="0.95" fill="#D9532F" fill-opacity="0.7"/>
<circle cx="167.99" cy="71.08" r="0.95" fill="#D9532F" fill-opacity="0.7"/>
<circle cx="167.63" cy="69.40" r="0.95" fill="#D9532F" fill-opacity="0.7"/>
<circle cx="167.53" cy="63.90" r="0.95" fill="#D9532F" fill-opacity="0.7"/>
<circle cx="167.31" cy="69.90" r="0.95" fill="#D9532F" fill-opacity="0.7"/>
<circle cx="167.19" cy="68.14" r="0.95" fill="#D9532F" fill-opacity="0.7"/>
<circle cx="167.43" cy="67.90" r="0.95" fill="#D9532F" fill-opacity="0.7"/>
<circle cx="168.83" cy="73.14" r="0.95" fill="#D9532F" fill-opacity="0.7"/>
<circle cx="167.68" cy="69.33" r="0.95" fill="#D9532F" fill-opacity="0.7"/>
<circle cx="167.68" cy="71.65" r="0.95" fill="#D9532F" fill-opacity="0.7"/>
<circle cx="167.34" cy="45.01" r="0.95" fill="#D9532F" fill-opacity="0.7"/>
<line x1="119.50" y1="43.10" x2="119.50" y2="79.90" stroke="#505050" stroke-width="0.95"/>
<line x1="119.10" y1="79.50" x2="172.00" y2="79.50" stroke="#505050" stroke-width="0.95"/>
<line x1="117.70" y1="72.40" x2="119.50" y2="72.40" stroke="#505050" stroke-width="0.8"/>
<text x="115.60" y="75.44" font-size="8.80" text-anchor="end" fill="#606060">0.3</text>
<line x1="117.70" y1="62.00" x2="119.50" y2="62.00" stroke="#505050" stroke-width="0.8"/>
<text x="115.60" y="65.04" font-size="8.80" text-anchor="end" fill="#606060">0.6</text>
<line x1="117.70" y1="51.60" x2="119.50" y2="51.60" stroke="#505050" stroke-width="0.8"/>
<text x="115.60" y="54.64" font-size="8.80" text-anchor="end" fill="#606060">0.9</text>
<line x1="124.70" y1="79.50" x2="124.70" y2="81.30" stroke="#505050" stroke-width="0.8"/>
<text x="124.70" y="89.07" font-size="8.80" text-anchor="middle" fill="#606060">2</text>
<line x1="138.60" y1="79.50" x2="138.60" y2="81.30" stroke="#505050" stroke-width="0.8"/>
<text x="138.60" y="89.07" font-size="8.80" text-anchor="middle" fill="#606060">3</text>
<line x1="152.30" y1="79.50" x2="152.30" y2="81.30" stroke="#505050" stroke-width="0.8"/>
<text x="152.30" y="89.07" font-size="8.80" text-anchor="middle" fill="#606060">4</text>
<line x1="166.10" y1="79.50" x2="166.10" y2="81.30" stroke="#505050" stroke-width="0.8"/>
<text x="166.10" y="89.07" font-size="8.80" text-anchor="middle" fill="#606060">5</text>
<line x1="283.50" y1="33.00" x2="283.50" y2="155.00" stroke="#363636" stroke-width="1.0"/>
<line x1="283.00" y1="154.50" x2="445.30" y2="154.50" stroke="#363636" stroke-width="1.0"/>
<line x1="281.30" y1="135.50" x2="283.50" y2="135.50" stroke="#363636" stroke-width="1.0"/>
<text x="279.00" y="139.40" font-size="11.30" text-anchor="end" fill="#4D4D4D">13</text>
<line x1="281.30" y1="108.83" x2="283.50" y2="108.83" stroke="#363636" stroke-width="1.0"/>
<text x="279.00" y="112.73" font-size="11.30" text-anchor="end" fill="#4D4D4D">14</text>
<line x1="281.30" y1="82.17" x2="283.50" y2="82.17" stroke="#363636" stroke-width="1.0"/>
<text x="279.00" y="86.07" font-size="11.30" text-anchor="end" fill="#4D4D4D">15</text>
<line x1="281.30" y1="55.50" x2="283.50" y2="55.50" stroke="#363636" stroke-width="1.0"/>
<text x="279.00" y="59.40" font-size="11.30" text-anchor="end" fill="#4D4D4D">16</text>
<line x1="299.50" y1="154.50" x2="299.50" y2="156.70" stroke="#363636" stroke-width="1.0"/>
<text x="299.50" y="165.80" font-size="11.30" text-anchor="middle" fill="#4D4D4D">2</text>
<line x1="342.70" y1="154.50" x2="342.70" y2="156.70" stroke="#363636" stroke-width="1.0"/>
<text x="342.70" y="165.80" font-size="11.30" text-anchor="middle" fill="#4D4D4D">3</text>
<line x1="385.90" y1="154.50" x2="385.90" y2="156.70" stroke="#363636" stroke-width="1.0"/>
<text x="385.90" y="165.80" font-size="11.30" text-anchor="middle" fill="#4D4D4D">4</text>
<line x1="429.10" y1="154.50" x2="429.10" y2="156.70" stroke="#363636" stroke-width="1.0"/>
<text x="429.10" y="165.80" font-size="11.30" text-anchor="middle" fill="#4D4D4D">5</text>
<path d="M295.00,128.60 L338.60,123.80 L381.50,121.90 L424.90,115.80" fill="none" stroke="#3B7DBE" stroke-width="1.15"/>
<line x1="295.00" y1="119.00" x2="295.00" y2="137.00" stroke="#3B7DBE" stroke-width="1.35"/>
<line x1="292.90" y1="119.00" x2="297.10" y2="119.00" stroke="#3B7DBE" stroke-width="1.35"/>
<line x1="292.90" y1="137.00" x2="297.10" y2="137.00" stroke="#3B7DBE" stroke-width="1.35"/>
<circle cx="295.00" cy="128.60" r="2.7" fill="#3B7DBE"/>
<line x1="338.60" y1="115.30" x2="338.60" y2="132.90" stroke="#3B7DBE" stroke-width="1.35"/>
<line x1="336.50" y1="115.30" x2="340.70" y2="115.30" stroke="#3B7DBE" stroke-width="1.35"/>
<line x1="336.50" y1="132.90" x2="340.70" y2="132.90" stroke="#3B7DBE" stroke-width="1.35"/>
<circle cx="338.60" cy="123.80" r="2.7" fill="#3B7DBE"/>
<line x1="381.50" y1="113.30" x2="381.50" y2="130.50" stroke="#3B7DBE" stroke-width="1.35"/>
<line x1="379.40" y1="113.30" x2="383.60" y2="113.30" stroke="#3B7DBE" stroke-width="1.35"/>
<line x1="379.40" y1="130.50" x2="383.60" y2="130.50" stroke="#3B7DBE" stroke-width="1.35"/>
<circle cx="381.50" cy="121.90" r="2.7" fill="#3B7DBE"/>
<line x1="424.90" y1="107.20" x2="424.90" y2="124.30" stroke="#3B7DBE" stroke-width="1.35"/>
<line x1="422.80" y1="107.20" x2="427.00" y2="107.20" stroke="#3B7DBE" stroke-width="1.35"/>
<line x1="422.80" y1="124.30" x2="427.00" y2="124.30" stroke="#3B7DBE" stroke-width="1.35"/>
<circle cx="424.90" cy="115.80" r="2.7" fill="#3B7DBE"/>
<path d="M303.60,122.00 L346.70,120.20 L390.10,120.40 L433.80,118.50" fill="none" stroke="#D1472A" stroke-width="1.15"/>
<line x1="303.60" y1="113.00" x2="303.60" y2="130.50" stroke="#D1472A" stroke-width="1.35"/>
<line x1="301.50" y1="113.00" x2="305.70" y2="113.00" stroke="#D1472A" stroke-width="1.35"/>
<line x1="301.50" y1="130.50" x2="305.70" y2="130.50" stroke="#D1472A" stroke-width="1.35"/>
<circle cx="303.60" cy="122.00" r="2.7" fill="#D1472A"/>
<line x1="346.70" y1="110.80" x2="346.70" y2="129.70" stroke="#D1472A" stroke-width="1.35"/>
<line x1="344.60" y1="110.80" x2="348.80" y2="110.80" stroke="#D1472A" stroke-width="1.35"/>
<line x1="344.60" y1="129.70" x2="348.80" y2="129.70" stroke="#D1472A" stroke-width="1.35"/>
<circle cx="346.70" cy="120.20" r="2.7" fill="#D1472A"/>
<line x1="390.10" y1="110.80" x2="390.10" y2="129.70" stroke="#D1472A" stroke-width="1.35"/>
<line x1="388.00" y1="110.80" x2="392.20" y2="110.80" stroke="#D1472A" stroke-width="1.35"/>
<line x1="388.00" y1="129.70" x2="392.20" y2="129.70" stroke="#D1472A" stroke-width="1.35"/>
<circle cx="390.10" cy="120.40" r="2.7" fill="#D1472A"/>
<line x1="433.80" y1="108.40" x2="433.80" y2="128.00" stroke="#D1472A" stroke-width="1.35"/>
<line x1="431.70" y1="108.40" x2="435.90" y2="108.40" stroke="#D1472A" stroke-width="1.35"/>
<line x1="431.70" y1="128.00" x2="435.90" y2="128.00" stroke="#D1472A" stroke-width="1.35"/>
<circle cx="433.80" cy="118.50" r="2.7" fill="#D1472A"/>
<rect x="325.90" y="33.90" width="77.90" height="56.00" fill="#F2F2F2"/>
<circle cx="345.60" cy="54.33" r="0.95" fill="#4589C8" fill-opacity="0.7"/>
<circle cx="345.37" cy="65.90" r="0.95" fill="#4589C8" fill-opacity="0.7"/>
<circle cx="345.49" cy="62.86" r="0.95" fill="#4589C8" fill-opacity="0.7"/>
<circle cx="345.64" cy="57.04" r="0.95" fill="#4589C8" fill-opacity="0.7"/>
<circle cx="345.29" cy="65.62" r="0.95" fill="#4589C8" fill-opacity="0.7"/>
<circle cx="345.17" cy="64.23" r="0.95" fill="#4589C8" fill-opacity="0.7"/>
<circle cx="345.84" cy="62.28" r="0.95" fill="#4589C8" fill-opacity="0.7"/>
<circle cx="345.40" cy="52.53" r="0.95" fill="#4589C8" fill-opacity="0.7"/>
<circle cx="345.20" cy="67.10" r="0.95" fill="#4589C8" fill-opacity="0.7"/>
<circle cx="345.56" cy="69.11" r="0.95" fill="#4589C8" fill-opacity="0.7"/>
<circle cx="344.89" cy="50.23" r="0.95" fill="#4589C8" fill-opacity="0.7"/>
<circle cx="345.42" cy="64.51" r="0.95" fill="#4589C8" fill-opacity="0.7"/>
<circle cx="344.93" cy="42.65" r="0.95" fill="#4589C8" fill-opacity="0.7"/>
<circle cx="345.25" cy="56.22" r="0.95" fill="#4589C8" fill-opacity="0.7"/>
<circle cx="344.79" cy="50.51" r="0.95" fill="#4589C8" fill-opacity="0.7"/>
<circle cx="345.15" cy="64.43" r="0.95" fill="#4589C8" fill-opacity="0.7"/>
<circle cx="345.71" cy="46.85" r="0.95" fill="#4589C8" fill-opacity="0.7"/>
<circle cx="345.34" cy="72.93" r="0.95" fill="#4589C8" fill-opacity="0.7"/>
<circle cx="344.98" cy="71.21" r="0.95" fill="#4589C8" fill-opacity="0.7"/>
<circle cx="346.00" cy="72.86" r="0.95" fill="#4589C8" fill-opacity="0.7"/>
<circle cx="345.18" cy="52.14" r="0.95" fill="#4589C8" fill-opacity="0.7"/>
<circle cx="345.91" cy="51.06" r="0.95" fill="#4589C8" fill-opacity="0.7"/>
<circle cx="345.22" cy="69.82" r="0.95" fill="#4589C8" fill-opacity="0.7"/>
<circle cx="344.90" cy="61.92" r="0.95" fill="#4589C8" fill-opacity="0.7"/>
<circle cx="346.04" cy="46.49" r="0.95" fill="#4589C8" fill-opacity="0.7"/>
<circle cx="345.25" cy="55.16" r="0.95" fill="#4589C8" fill-opacity="0.7"/>
<circle cx="345.66" cy="73.01" r="0.95" fill="#4589C8" fill-opacity="0.7"/>
<circle cx="345.81" cy="68.16" r="0.95" fill="#4589C8" fill-opacity="0.7"/>
<circle cx="344.95" cy="70.63" r="0.95" fill="#4589C8" fill-opacity="0.7"/>
<circle cx="345.43" cy="71.80" r="0.95" fill="#4589C8" fill-opacity="0.7"/>
<circle cx="345.20" cy="61.76" r="0.95" fill="#4589C8" fill-opacity="0.7"/>
<circle cx="345.61" cy="73.63" r="0.95" fill="#4589C8" fill-opacity="0.7"/>
<circle cx="345.40" cy="43.52" r="0.95" fill="#4589C8" fill-opacity="0.7"/>
<circle cx="344.97" cy="61.05" r="0.95" fill="#4589C8" fill-opacity="0.7"/>
<circle cx="345.42" cy="58.04" r="0.95" fill="#4589C8" fill-opacity="0.7"/>
<circle cx="345.66" cy="53.22" r="0.95" fill="#4589C8" fill-opacity="0.7"/>
<circle cx="345.30" cy="48.98" r="0.95" fill="#4589C8" fill-opacity="0.7"/>
<circle cx="345.60" cy="47.05" r="0.95" fill="#4589C8" fill-opacity="0.7"/>
<circle cx="345.22" cy="62.50" r="0.95" fill="#4589C8" fill-opacity="0.7"/>
<circle cx="345.38" cy="64.44" r="0.95" fill="#4589C8" fill-opacity="0.7"/>
<circle cx="345.52" cy="61.57" r="0.95" fill="#4589C8" fill-opacity="0.7"/>
<circle cx="345.45" cy="75.66" r="0.95" fill="#4589C8" fill-opacity="0.7"/>
<circle cx="345.84" cy="61.98" r="0.95" fill="#4589C8" fill-opacity="0.7"/>
<circle cx="345.73" cy="51.36" r="0.95" fill="#4589C8" fill-opacity="0.7"/>
<circle cx="345.69" cy="41.34" r="0.95" fill="#4589C8" fill-opacity="0.7"/>
<circle cx="345.65" cy="48.17" r="0.95" fill="#4589C8" fill-opacity="0.7"/>
<circle cx="345.46" cy="52.76" r="0.95" fill="#4589C8" fill-opacity="0.7"/>
<circle cx="345.00" cy="54.60" r="0.95" fill="#4589C8" fill-opacity="0.7"/>
<circle cx="345.77" cy="75.55" r="0.95" fill="#4589C8" fill-opacity="0.7"/>
<circle cx="346.00" cy="64.45" r="0.95" fill="#4589C8" fill-opacity="0.7"/>
<circle cx="345.48" cy="64.09" r="0.95" fill="#4589C8" fill-opacity="0.7"/>
<circle cx="345.32" cy="49.83" r="0.95" fill="#4589C8" fill-opacity="0.7"/>
<circle cx="345.39" cy="53.02" r="0.95" fill="#4589C8" fill-opacity="0.7"/>
<circle cx="345.82" cy="54.17" r="0.95" fill="#4589C8" fill-opacity="0.7"/>
<circle cx="345.50" cy="70.95" r="0.95" fill="#4589C8" fill-opacity="0.7"/>
<circle cx="345.07" cy="59.19" r="0.95" fill="#4589C8" fill-opacity="0.7"/>
<circle cx="345.34" cy="54.01" r="0.95" fill="#4589C8" fill-opacity="0.7"/>
<circle cx="345.14" cy="67.15" r="0.95" fill="#4589C8" fill-opacity="0.7"/>
<circle cx="345.33" cy="51.86" r="0.95" fill="#4589C8" fill-opacity="0.7"/>
<circle cx="345.10" cy="48.29" r="0.95" fill="#4589C8" fill-opacity="0.7"/>
<circle cx="345.10" cy="51.11" r="0.95" fill="#4589C8" fill-opacity="0.7"/>
<circle cx="345.91" cy="63.58" r="0.95" fill="#4589C8" fill-opacity="0.7"/>
<circle cx="345.76" cy="63.48" r="0.95" fill="#4589C8" fill-opacity="0.7"/>
<circle cx="344.85" cy="51.76" r="0.95" fill="#4589C8" fill-opacity="0.7"/>
<circle cx="345.07" cy="51.39" r="0.95" fill="#4589C8" fill-opacity="0.7"/>
<circle cx="345.25" cy="49.72" r="0.95" fill="#4589C8" fill-opacity="0.7"/>
<circle cx="348.77" cy="41.95" r="0.95" fill="#D9532F" fill-opacity="0.7"/>
<circle cx="348.43" cy="57.91" r="0.95" fill="#D9532F" fill-opacity="0.7"/>
<circle cx="349.21" cy="51.15" r="0.95" fill="#D9532F" fill-opacity="0.7"/>
<circle cx="348.35" cy="47.08" r="0.95" fill="#D9532F" fill-opacity="0.7"/>
<circle cx="349.14" cy="68.72" r="0.95" fill="#D9532F" fill-opacity="0.7"/>
<circle cx="349.14" cy="43.37" r="0.95" fill="#D9532F" fill-opacity="0.7"/>
<circle cx="348.78" cy="54.14" r="0.95" fill="#D9532F" fill-opacity="0.7"/>
<circle cx="348.68" cy="68.70" r="0.95" fill="#D9532F" fill-opacity="0.7"/>
<circle cx="348.92" cy="72.59" r="0.95" fill="#D9532F" fill-opacity="0.7"/>
<circle cx="348.95" cy="67.11" r="0.95" fill="#D9532F" fill-opacity="0.7"/>
<circle cx="348.18" cy="55.86" r="0.95" fill="#D9532F" fill-opacity="0.7"/>
<circle cx="348.47" cy="51.77" r="0.95" fill="#D9532F" fill-opacity="0.7"/>
<circle cx="349.08" cy="64.25" r="0.95" fill="#D9532F" fill-opacity="0.7"/>
<circle cx="348.87" cy="43.90" r="0.95" fill="#D9532F" fill-opacity="0.7"/>
<circle cx="348.76" cy="63.16" r="0.95" fill="#D9532F" fill-opacity="0.7"/>
<circle cx="348.56" cy="59.71" r="0.95" fill="#D9532F" fill-opacity="0.7"/>
<circle cx="348.66" cy="71.20" r="0.95" fill="#D9532F" fill-opacity="0.7"/>
<circle cx="348.64" cy="42.39" r="0.95" fill="#D9532F" fill-opacity="0.7"/>
<circle cx="349.86" cy="70.81" r="0.95" fill="#D9532F" fill-opacity="0.7"/>
<circle cx="348.47" cy="44.75" r="0.95" fill="#D9532F" fill-opacity="0.7"/>
<circle cx="349.43" cy="56.98" r="0.95" fill="#D9532F" fill-opacity="0.7"/>
<circle cx="349.07" cy="56.39" r="0.95" fill="#D9532F" fill-opacity="0.7"/>
<circle cx="348.98" cy="56.41" r="0.95" fill="#D9532F" fill-opacity="0.7"/>
<circle cx="348.97" cy="66.44" r="0.95" fill="#D9532F" fill-opacity="0.7"/>
<circle cx="348.77" cy="44.57" r="0.95" fill="#D9532F" fill-opacity="0.7"/>
<circle cx="349.45" cy="41.77" r="0.95" fill="#D9532F" fill-opacity="0.7"/>
<circle cx="349.08" cy="47.69" r="0.95" fill="#D9532F" fill-opacity="0.7"/>
<circle cx="348.89" cy="55.01" r="0.95" fill="#D9532F" fill-opacity="0.7"/>
<circle cx="348.86" cy="71.25" r="0.95" fill="#D9532F" fill-opacity="0.7"/>
<circle cx="348.97" cy="47.44" r="0.95" fill="#D9532F" fill-opacity="0.7"/>
<circle cx="348.51" cy="65.62" r="0.95" fill="#D9532F" fill-opacity="0.7"/>
<circle cx="348.79" cy="44.99" r="0.95" fill="#D9532F" fill-opacity="0.7"/>
<circle cx="348.69" cy="67.24" r="0.95" fill="#D9532F" fill-opacity="0.7"/>
<circle cx="349.11" cy="55.96" r="0.95" fill="#D9532F" fill-opacity="0.7"/>
<circle cx="349.11" cy="47.24" r="0.95" fill="#D9532F" fill-opacity="0.7"/>
<circle cx="348.26" cy="69.12" r="0.95" fill="#D9532F" fill-opacity="0.7"/>
<circle cx="348.83" cy="56.83" r="0.95" fill="#D9532F" fill-opacity="0.7"/>
<circle cx="349.24" cy="72.82" r="0.95" fill="#D9532F" fill-opacity="0.7"/>
<circle cx="348.46" cy="74.32" r="0.95" fill="#D9532F" fill-opacity="0.7"/>
<circle cx="348.50" cy="69.30" r="0.95" fill="#D9532F" fill-opacity="0.7"/>
<circle cx="349.25" cy="41.94" r="0.95" fill="#D9532F" fill-opacity="0.7"/>
<circle cx="348.86" cy="43.55" r="0.95" fill="#D9532F" fill-opacity="0.7"/>
<circle cx="348.75" cy="53.08" r="0.95" fill="#D9532F" fill-opacity="0.7"/>
<circle cx="348.49" cy="64.98" r="0.95" fill="#D9532F" fill-opacity="0.7"/>
<circle cx="348.96" cy="52.65" r="0.95" fill="#D9532F" fill-opacity="0.7"/>
<circle cx="348.71" cy="50.39" r="0.95" fill="#D9532F" fill-opacity="0.7"/>
<circle cx="348.98" cy="62.47" r="0.95" fill="#D9532F" fill-opacity="0.7"/>
<circle cx="349.05" cy="55.34" r="0.95" fill="#D9532F" fill-opacity="0.7"/>
<circle cx="349.14" cy="48.15" r="0.95" fill="#D9532F" fill-opacity="0.7"/>
<circle cx="348.79" cy="74.85" r="0.95" fill="#D9532F" fill-opacity="0.7"/>
<circle cx="348.72" cy="56.08" r="0.95" fill="#D9532F" fill-opacity="0.7"/>
<circle cx="348.91" cy="51.21" r="0.95" fill="#D9532F" fill-opacity="0.7"/>
<circle cx="348.87" cy="54.28" r="0.95" fill="#D9532F" fill-opacity="0.7"/>
<circle cx="348.96" cy="53.21" r="0.95" fill="#D9532F" fill-opacity="0.7"/>
<circle cx="348.72" cy="62.25" r="0.95" fill="#D9532F" fill-opacity="0.7"/>
<circle cx="348.82" cy="60.23" r="0.95" fill="#D9532F" fill-opacity="0.7"/>
<circle cx="348.70" cy="63.72" r="0.95" fill="#D9532F" fill-opacity="0.7"/>
<circle cx="348.70" cy="59.11" r="0.95" fill="#D9532F" fill-opacity="0.7"/>
<circle cx="348.96" cy="64.00" r="0.95" fill="#D9532F" fill-opacity="0.7"/>
<circle cx="349.30" cy="60.98" r="0.95" fill="#D9532F" fill-opacity="0.7"/>
<circle cx="348.72" cy="59.64" r="0.95" fill="#D9532F" fill-opacity="0.7"/>
<circle cx="349.10" cy="59.92" r="0.95" fill="#D9532F" fill-opacity="0.7"/>
<circle cx="349.02" cy="60.26" r="0.95" fill="#D9532F" fill-opacity="0.7"/>
<circle cx="348.94" cy="61.79" r="0.95" fill="#D9532F" fill-opacity="0.7"/>
<circle cx="349.14" cy="49.57" r="0.95" fill="#D9532F" fill-opacity="0.7"/>
<circle cx="348.71" cy="60.77" r="0.95" fill="#D9532F" fill-opacity="0.7"/>
<circle cx="362.00" cy="59.52" r="0.95" fill="#4589C8" fill-opacity="0.7"/>
<circle cx="361.91" cy="61.60" r="0.95" fill="#4589C8" fill-opacity="0.7"/>
<circle cx="360.61" cy="54.06" r="0.95" fill="#4589C8" fill-opacity="0.7"/>
<circle cx="361.92" cy="51.73" r="0.95" fill="#4589C8" fill-opacity="0.7"/>
<circle cx="362.01" cy="49.29" r="0.95" fill="#4589C8" fill-opacity="0.7"/>
<circle cx="362.47" cy="49.51" r="0.95" fill="#4589C8" fill-opacity="0.7"/>
<circle cx="361.44" cy="58.96" r="0.95" fill="#4589C8" fill-opacity="0.7"/>
<circle cx="361.84" cy="40.89" r="0.95" fill="#4589C8" fill-opacity="0.7"/>
<circle cx="361.92" cy="46.44" r="0.95" fill="#4589C8" fill-opacity="0.7"/>
<circle cx="361.47" cy="45.85" r="0.95" fill="#4589C8" fill-opacity="0.7"/>
<circle cx="362.21" cy="61.68" r="0.95" fill="#4589C8" fill-opacity="0.7"/>
<circle cx="361.96" cy="60.80" r="0.95" fill="#4589C8" fill-opacity="0.7"/>
<circle cx="361.53" cy="56.11" r="0.95" fill="#4589C8" fill-opacity="0.7"/>
<circle cx="361.39" cy="44.06" r="0.95" fill="#4589C8" fill-opacity="0.7"/>
<circle cx="361.66" cy="57.53" r="0.95" fill="#4589C8" fill-opacity="0.7"/>
<circle cx="362.62" cy="57.57" r="0.95" fill="#4589C8" fill-opacity="0.7"/>
<circle cx="362.54" cy="60.86" r="0.95" fill="#4589C8" fill-opacity="0.7"/>
<circle cx="360.95" cy="44.10" r="0.95" fill="#4589C8" fill-opacity="0.7"/>
<circle cx="361.18" cy="64.82" r="0.95" fill="#4589C8" fill-opacity="0.7"/>
<circle cx="362.03" cy="74.27" r="0.95" fill="#4589C8" fill-opacity="0.7"/>
<circle cx="361.77" cy="50.44" r="0.95" fill="#4589C8" fill-opacity="0.7"/>
<circle cx="361.59" cy="44.24" r="0.95" fill="#4589C8" fill-opacity="0.7"/>
<circle cx="362.01" cy="50.21" r="0.95" fill="#4589C8" fill-opacity="0.7"/>
<circle cx="361.84" cy="54.99" r="0.95" fill="#4589C8" fill-opacity="0.7"/>
<circle cx="361.90" cy="49.51" r="0.95" fill="#4589C8" fill-opacity="0.7"/>
<circle cx="361.89" cy="65.39" r="0.95" fill="#4589C8" fill-opacity="0.7"/>
<circle cx="361.43" cy="55.14" r="0.95" fill="#4589C8" fill-opacity="0.7"/>
<circle cx="362.25" cy="73.73" r="0.95" fill="#4589C8" fill-opacity="0.7"/>
<circle cx="361.65" cy="71.79" r="0.95" fill="#4589C8" fill-opacity="0.7"/>
<circle cx="362.19" cy="60.34" r="0.95" fill="#4589C8" fill-opacity="0.7"/>
<circle cx="362.04" cy="58.36" r="0.95" fill="#4589C8" fill-opacity="0.7"/>
<circle cx="361.82" cy="62.12" r="0.95" fill="#4589C8" fill-opacity="0.7"/>
<circle cx="361.85" cy="74.36" r="0.95" fill="#4589C8" fill-opacity="0.7"/>
<circle cx="361.79" cy="51.53" r="0.95" fill="#4589C8" fill-opacity="0.7"/>
<circle cx="361.17" cy="57.52" r="0.95" fill="#4589C8" fill-opacity="0.7"/>
<circle cx="361.69" cy="67.72" r="0.95" fill="#4589C8" fill-opacity="0.7"/>
<circle cx="361.95" cy="65.33" r="0.95" fill="#4589C8" fill-opacity="0.7"/>
<circle cx="361.25" cy="62.16" r="0.95" fill="#4589C8" fill-opacity="0.7"/>
<circle cx="361.29" cy="67.83" r="0.95" fill="#4589C8" fill-opacity="0.7"/>
<circle cx="362.17" cy="73.78" r="0.95" fill="#4589C8" fill-opacity="0.7"/>
<circle cx="362.08" cy="43.85" r="0.95" fill="#4589C8" fill-opacity="0.7"/>
<circle cx="361.27" cy="41.89" r="0.95" fill="#4589C8" fill-opacity="0.7"/>
<circle cx="361.96" cy="52.57" r="0.95" fill="#4589C8" fill-opacity="0.7"/>
<circle cx="361.79" cy="45.44" r="0.95" fill="#4589C8" fill-opacity="0.7"/>
<circle cx="362.14" cy="61.24" r="0.95" fill="#4589C8" fill-opacity="0.7"/>
<circle cx="361.69" cy="47.61" r="0.95" fill="#4589C8" fill-opacity="0.7"/>
<circle cx="361.73" cy="68.33" r="0.95" fill="#4589C8" fill-opacity="0.7"/>
<circle cx="361.54" cy="49.70" r="0.95" fill="#4589C8" fill-opacity="0.7"/>
<circle cx="361.86" cy="56.08" r="0.95" fill="#4589C8" fill-opacity="0.7"/>
<circle cx="361.76" cy="44.13" r="0.95" fill="#4589C8" fill-opacity="0.7"/>
<circle cx="361.58" cy="48.20" r="0.95" fill="#4589C8" fill-opacity="0.7"/>
<circle cx="361.68" cy="51.14" r="0.95" fill="#4589C8" fill-opacity="0.7"/>
<circle cx="361.54" cy="52.17" r="0.95" fill="#4589C8" fill-opacity="0.7"/>
<circle cx="362.02" cy="52.26" r="0.95" fill="#4589C8" fill-opacity="0.7"/>
<circle cx="361.45" cy="58.22" r="0.95" fill="#4589C8" fill-opacity="0.7"/>
<circle cx="361.27" cy="58.53" r="0.95" fill="#4589C8" fill-opacity="0.7"/>
<circle cx="361.47" cy="58.23" r="0.95" fill="#4589C8" fill-opacity="0.7"/>
<circle cx="362.17" cy="52.47" r="0.95" fill="#4589C8" fill-opacity="0.7"/>
<circle cx="361.63" cy="59.61" r="0.95" fill="#4589C8" fill-opacity="0.7"/>
<circle cx="362.02" cy="56.18" r="0.95" fill="#4589C8" fill-opacity="0.7"/>
<circle cx="362.06" cy="48.13" r="0.95" fill="#4589C8" fill-opacity="0.7"/>
<circle cx="361.63" cy="66.45" r="0.95" fill="#4589C8" fill-opacity="0.7"/>
<circle cx="362.06" cy="63.78" r="0.95" fill="#4589C8" fill-opacity="0.7"/>
<circle cx="361.98" cy="54.44" r="0.95" fill="#4589C8" fill-opacity="0.7"/>
<circle cx="361.79" cy="60.32" r="0.95" fill="#4589C8" fill-opacity="0.7"/>
<circle cx="361.56" cy="59.57" r="0.95" fill="#4589C8" fill-opacity="0.7"/>
<circle cx="364.68" cy="74.35" r="0.95" fill="#D9532F" fill-opacity="0.7"/>
<circle cx="364.26" cy="44.94" r="0.95" fill="#D9532F" fill-opacity="0.7"/>
<circle cx="364.61" cy="64.97" r="0.95" fill="#D9532F" fill-opacity="0.7"/>
<circle cx="364.50" cy="58.51" r="0.95" fill="#D9532F" fill-opacity="0.7"/>
<circle cx="364.85" cy="43.74" r="0.95" fill="#D9532F" fill-opacity="0.7"/>
<circle cx="364.82" cy="42.27" r="0.95" fill="#D9532F" fill-opacity="0.7"/>
<circle cx="364.48" cy="59.38" r="0.95" fill="#D9532F" fill-opacity="0.7"/>
<circle cx="365.00" cy="68.41" r="0.95" fill="#D9532F" fill-opacity="0.7"/>
<circle cx="365.11" cy="65.39" r="0.95" fill="#D9532F" fill-opacity="0.7"/>
<circle cx="364.72" cy="44.12" r="0.95" fill="#D9532F" fill-opacity="0.7"/>
<circle cx="364.45" cy="45.00" r="0.95" fill="#D9532F" fill-opacity="0.7"/>
<circle cx="364.88" cy="68.78" r="0.95" fill="#D9532F" fill-opacity="0.7"/>
<circle cx="363.86" cy="47.00" r="0.95" fill="#D9532F" fill-opacity="0.7"/>
<circle cx="364.50" cy="63.40" r="0.95" fill="#D9532F" fill-opacity="0.7"/>
<circle cx="364.90" cy="59.39" r="0.95" fill="#D9532F" fill-opacity="0.7"/>
<circle cx="365.39" cy="69.58" r="0.95" fill="#D9532F" fill-opacity="0.7"/>
<circle cx="364.45" cy="45.58" r="0.95" fill="#D9532F" fill-opacity="0.7"/>
<circle cx="365.23" cy="41.65" r="0.95" fill="#D9532F" fill-opacity="0.7"/>
<circle cx="365.51" cy="68.56" r="0.95" fill="#D9532F" fill-opacity="0.7"/>
<circle cx="365.35" cy="53.96" r="0.95" fill="#D9532F" fill-opacity="0.7"/>
<circle cx="363.89" cy="68.91" r="0.95" fill="#D9532F" fill-opacity="0.7"/>
<circle cx="365.08" cy="45.56" r="0.95" fill="#D9532F" fill-opacity="0.7"/>
<circle cx="364.77" cy="73.71" r="0.95" fill="#D9532F" fill-opacity="0.7"/>
<circle cx="365.05" cy="71.81" r="0.95" fill="#D9532F" fill-opacity="0.7"/>
<circle cx="364.64" cy="50.80" r="0.95" fill="#D9532F" fill-opacity="0.7"/>
<circle cx="364.49" cy="64.79" r="0.95" fill="#D9532F" fill-opacity="0.7"/>
<circle cx="364.62" cy="44.88" r="0.95" fill="#D9532F" fill-opacity="0.7"/>
<circle cx="365.22" cy="45.92" r="0.95" fill="#D9532F" fill-opacity="0.7"/>
<circle cx="364.99" cy="51.23" r="0.95" fill="#D9532F" fill-opacity="0.7"/>
<circle cx="364.60" cy="70.83" r="0.95" fill="#D9532F" fill-opacity="0.7"/>
<circle cx="364.83" cy="51.81" r="0.95" fill="#D9532F" fill-opacity="0.7"/>
<circle cx="365.00" cy="43.61" r="0.95" fill="#D9532F" fill-opacity="0.7"/>
<circle cx="364.90" cy="60.31" r="0.95" fill="#D9532F" fill-opacity="0.7"/>
<circle cx="364.69" cy="72.73" r="0.95" fill="#D9532F" fill-opacity="0.7"/>
<circle cx="364.47" cy="67.84" r="0.95" fill="#D9532F" fill-opacity="0.7"/>
<circle cx="364.44" cy="64.99" r="0.95" fill="#D9532F" fill-opacity="0.7"/>
<circle cx="364.55" cy="51.31" r="0.95" fill="#D9532F" fill-opacity="0.7"/>
<circle cx="364.51" cy="68.75" r="0.95" fill="#D9532F" fill-opacity="0.7"/>
<circle cx="364.15" cy="69.27" r="0.95" fill="#D9532F" fill-opacity="0.7"/>
<circle cx="364.21" cy="67.42" r="0.95" fill="#D9532F" fill-opacity="0.7"/>
<circle cx="365.01" cy="52.87" r="0.95" fill="#D9532F" fill-opacity="0.7"/>
<circle cx="364.31" cy="48.60" r="0.95" fill="#D9532F" fill-opacity="0.7"/>
<circle cx="364.25" cy="62.78" r="0.95" fill="#D9532F" fill-opacity="0.7"/>
<circle cx="364.69" cy="52.96" r="0.95" fill="#D9532F" fill-opacity="0.7"/>
<circle cx="365.20" cy="45.42" r="0.95" fill="#D9532F" fill-opacity="0.7"/>
<circle cx="365.14" cy="55.41" r="0.95" fill="#D9532F" fill-opacity="0.7"/>
<circle cx="364.56" cy="67.64" r="0.95" fill="#D9532F" fill-opacity="0.7"/>
<circle cx="364.34" cy="65.20" r="0.95" fill="#D9532F" fill-opacity="0.7"/>
<circle cx="364.52" cy="43.98" r="0.95" fill="#D9532F" fill-opacity="0.7"/>
<circle cx="364.39" cy="52.79" r="0.95" fill="#D9532F" fill-opacity="0.7"/>
<circle cx="364.51" cy="60.08" r="0.95" fill="#D9532F" fill-opacity="0.7"/>
<circle cx="364.87" cy="48.90" r="0.95" fill="#D9532F" fill-opacity="0.7"/>
<circle cx="364.33" cy="42.10" r="0.95" fill="#D9532F" fill-opacity="0.7"/>
<circle cx="364.43" cy="48.08" r="0.95" fill="#D9532F" fill-opacity="0.7"/>
<circle cx="364.61" cy="66.19" r="0.95" fill="#D9532F" fill-opacity="0.7"/>
<circle cx="364.69" cy="55.41" r="0.95" fill="#D9532F" fill-opacity="0.7"/>
<circle cx="364.43" cy="60.48" r="0.95" fill="#D9532F" fill-opacity="0.7"/>
<circle cx="364.43" cy="58.85" r="0.95" fill="#D9532F" fill-opacity="0.7"/>
<circle cx="364.31" cy="62.95" r="0.95" fill="#D9532F" fill-opacity="0.7"/>
<circle cx="364.44" cy="61.71" r="0.95" fill="#D9532F" fill-opacity="0.7"/>
<circle cx="364.88" cy="58.52" r="0.95" fill="#D9532F" fill-opacity="0.7"/>
<circle cx="364.62" cy="46.23" r="0.95" fill="#D9532F" fill-opacity="0.7"/>
<circle cx="363.62" cy="53.71" r="0.95" fill="#D9532F" fill-opacity="0.7"/>
<circle cx="364.92" cy="55.56" r="0.95" fill="#D9532F" fill-opacity="0.7"/>
<circle cx="364.68" cy="58.27" r="0.95" fill="#D9532F" fill-opacity="0.7"/>
<circle cx="364.40" cy="63.55" r="0.95" fill="#D9532F" fill-opacity="0.7"/>
<circle cx="377.11" cy="66.30" r="0.95" fill="#4589C8" fill-opacity="0.7"/>
<circle cx="376.15" cy="56.75" r="0.95" fill="#4589C8" fill-opacity="0.7"/>
<circle cx="376.63" cy="69.59" r="0.95" fill="#4589C8" fill-opacity="0.7"/>
<circle cx="377.61" cy="44.35" r="0.95" fill="#4589C8" fill-opacity="0.7"/>
<circle cx="377.94" cy="41.13" r="0.95" fill="#4589C8" fill-opacity="0.7"/>
<circle cx="377.96" cy="75.02" r="0.95" fill="#4589C8" fill-opacity="0.7"/>
<circle cx="376.94" cy="59.82" r="0.95" fill="#4589C8" fill-opacity="0.7"/>
<circle cx="377.21" cy="49.55" r="0.95" fill="#4589C8" fill-opacity="0.7"/>
<circle cx="377.47" cy="62.55" r="0.95" fill="#4589C8" fill-opacity="0.7"/>
<circle cx="376.77" cy="43.21" r="0.95" fill="#4589C8" fill-opacity="0.7"/>
<circle cx="377.81" cy="58.46" r="0.95" fill="#4589C8" fill-opacity="0.7"/>
<circle cx="376.95" cy="69.82" r="0.95" fill="#4589C8" fill-opacity="0.7"/>
<circle cx="377.32" cy="56.46" r="0.95" fill="#4589C8" fill-opacity="0.7"/>
<circle cx="376.80" cy="53.31" r="0.95" fill="#4589C8" fill-opacity="0.7"/>
<circle cx="377.33" cy="63.44" r="0.95" fill="#4589C8" fill-opacity="0.7"/>
<circle cx="377.19" cy="52.83" r="0.95" fill="#4589C8" fill-opacity="0.7"/>
<circle cx="377.58" cy="48.40" r="0.95" fill="#4589C8" fill-opacity="0.7"/>
<circle cx="376.80" cy="57.86" r="0.95" fill="#4589C8" fill-opacity="0.7"/>
<circle cx="377.20" cy="58.25" r="0.95" fill="#4589C8" fill-opacity="0.7"/>
<circle cx="377.84" cy="46.19" r="0.95" fill="#4589C8" fill-opacity="0.7"/>
<circle cx="376.78" cy="51.91" r="0.95" fill="#4589C8" fill-opacity="0.7"/>
<circle cx="377.32" cy="57.72" r="0.95" fill="#4589C8" fill-opacity="0.7"/>
<circle cx="377.35" cy="42.42" r="0.95" fill="#4589C8" fill-opacity="0.7"/>
<circle cx="377.03" cy="70.03" r="0.95" fill="#4589C8" fill-opacity="0.7"/>
<circle cx="377.11" cy="48.52" r="0.95" fill="#4589C8" fill-opacity="0.7"/>
<circle cx="377.69" cy="70.34" r="0.95" fill="#4589C8" fill-opacity="0.7"/>
<circle cx="377.60" cy="54.62" r="0.95" fill="#4589C8" fill-opacity="0.7"/>
<circle cx="377.40" cy="67.85" r="0.95" fill="#4589C8" fill-opacity="0.7"/>
<circle cx="377.29" cy="60.57" r="0.95" fill="#4589C8" fill-opacity="0.7"/>
<circle cx="376.80" cy="48.76" r="0.95" fill="#4589C8" fill-opacity="0.7"/>
<circle cx="377.23" cy="48.28" r="0.95" fill="#4589C8" fill-opacity="0.7"/>
<circle cx="377.83" cy="48.12" r="0.95" fill="#4589C8" fill-opacity="0.7"/>
<circle cx="377.57" cy="67.83" r="0.95" fill="#4589C8" fill-opacity="0.7"/>
<circle cx="376.73" cy="58.84" r="0.95" fill="#4589C8" fill-opacity="0.7"/>
<circle cx="376.48" cy="68.35" r="0.95" fill="#4589C8" fill-opacity="0.7"/>
<circle cx="376.97" cy="55.61" r="0.95" fill="#4589C8" fill-opacity="0.7"/>
<circle cx="377.26" cy="58.49" r="0.95" fill="#4589C8" fill-opacity="0.7"/>
<circle cx="377.01" cy="74.95" r="0.95" fill="#4589C8" fill-opacity="0.7"/>
<circle cx="377.09" cy="55.02" r="0.95" fill="#4589C8" fill-opacity="0.7"/>
<circle cx="377.32" cy="50.83" r="0.95" fill="#4589C8" fill-opacity="0.7"/>
<circle cx="377.51" cy="55.87" r="0.95" fill="#4589C8" fill-opacity="0.7"/>
<circle cx="377.27" cy="45.21" r="0.95" fill="#4589C8" fill-opacity="0.7"/>
<circle cx="377.64" cy="69.82" r="0.95" fill="#4589C8" fill-opacity="0.7"/>
<circle cx="376.70" cy="70.82" r="0.95" fill="#4589C8" fill-opacity="0.7"/>
<circle cx="377.36" cy="75.58" r="0.95" fill="#4589C8" fill-opacity="0.7"/>
<circle cx="377.35" cy="58.59" r="0.95" fill="#4589C8" fill-opacity="0.7"/>
<circle cx="376.68" cy="60.77" r="0.95" fill="#4589C8" fill-opacity="0.7"/>
<circle cx="377.64" cy="60.52" r="0.95" fill="#4589C8" fill-opacity="0.7"/>
<circle cx="376.64" cy="66.87" r="0.95" fill="#4589C8" fill-opacity="0.7"/>
<circle cx="376.69" cy="47.85" r="0.95" fill="#4589C8" fill-opacity="0.7"/>
<circle cx="378.14" cy="44.54" r="0.95" fill="#4589C8" fill-opacity="0.7"/>
<circle cx="377.65" cy="51.64" r="0.95" fill="#4589C8" fill-opacity="0.7"/>
<circle cx="377.33" cy="66.52" r="0.95" fill="#4589C8" fill-opacity="0.7"/>
<circle cx="377.67" cy="62.18" r="0.95" fill="#4589C8" fill-opacity="0.7"/>
<circle cx="377.60" cy="57.10" r="0.95" fill="#4589C8" fill-opacity="0.7"/>
<circle cx="376.80" cy="63.51" r="0.95" fill="#4589C8" fill-opacity="0.7"/>
<circle cx="377.37" cy="54.73" r="0.95" fill="#4589C8" fill-opacity="0.7"/>
<circle cx="377.69" cy="53.58" r="0.95" fill="#4589C8" fill-opacity="0.7"/>
<circle cx="377.14" cy="52.50" r="0.95" fill="#4589C8" fill-opacity="0.7"/>
<circle cx="377.23" cy="56.83" r="0.95" fill="#4589C8" fill-opacity="0.7"/>
<circle cx="377.04" cy="64.73" r="0.95" fill="#4589C8" fill-opacity="0.7"/>
<circle cx="377.46" cy="64.44" r="0.95" fill="#4589C8" fill-opacity="0.7"/>
<circle cx="377.01" cy="59.33" r="0.95" fill="#4589C8" fill-opacity="0.7"/>
<circle cx="376.99" cy="49.03" r="0.95" fill="#4589C8" fill-opacity="0.7"/>
<circle cx="376.77" cy="47.27" r="0.95" fill="#4589C8" fill-opacity="0.7"/>
<circle cx="376.87" cy="51.51" r="0.95" fill="#4589C8" fill-opacity="0.7"/>
<circle cx="380.28" cy="69.59" r="0.95" fill="#D9532F" fill-opacity="0.7"/>
<circle cx="380.37" cy="66.77" r="0.95" fill="#D9532F" fill-opacity="0.7"/>
<circle cx="380.06" cy="69.99" r="0.95" fill="#D9532F" fill-opacity="0.7"/>
<circle cx="379.83" cy="51.99" r="0.95" fill="#D9532F" fill-opacity="0.7"/>
<circle cx="380.32" cy="47.23" r="0.95" fill="#D9532F" fill-opacity="0.7"/>
<circle cx="380.33" cy="48.73" r="0.95" fill="#D9532F" fill-opacity="0.7"/>
<circle cx="380.65" cy="73.33" r="0.95" fill="#D9532F" fill-opacity="0.7"/>
<circle cx="380.03" cy="61.48" r="0.95" fill="#D9532F" fill-opacity="0.7"/>
<circle cx="380.06" cy="63.05" r="0.95" fill="#D9532F" fill-opacity="0.7"/>
<circle cx="380.38" cy="68.07" r="0.95" fill="#D9532F" fill-opacity="0.7"/>
<circle cx="380.74" cy="42.50" r="0.95" fill="#D9532F" fill-opacity="0.7"/>
<circle cx="380.18" cy="73.98" r="0.95" fill="#D9532F" fill-opacity="0.7"/>
<circle cx="380.17" cy="58.81" r="0.95" fill="#D9532F" fill-opacity="0.7"/>
<circle cx="379.87" cy="49.59" r="0.95" fill="#D9532F" fill-opacity="0.7"/>
<circle cx="380.07" cy="41.97" r="0.95" fill="#D9532F" fill-opacity="0.7"/>
<circle cx="380.53" cy="70.51" r="0.95" fill="#D9532F" fill-opacity="0.7"/>
<circle cx="380.50" cy="59.97" r="0.95" fill="#D9532F" fill-opacity="0.7"/>
<circle cx="380.59" cy="50.15" r="0.95" fill="#D9532F" fill-opacity="0.7"/>
<circle cx="379.62" cy="74.08" r="0.95" fill="#D9532F" fill-opacity="0.7"/>
<circle cx="380.50" cy="67.25" r="0.95" fill="#D9532F" fill-opacity="0.7"/>
<circle cx="379.87" cy="45.23" r="0.95" fill="#D9532F" fill-opacity="0.7"/>
<circle cx="380.41" cy="70.61" r="0.95" fill="#D9532F" fill-opacity="0.7"/>
<circle cx="379.37" cy="62.08" r="0.95" fill="#D9532F" fill-opacity="0.7"/>
<circle cx="380.17" cy="65.30" r="0.95" fill="#D9532F" fill-opacity="0.7"/>
<circle cx="379.89" cy="61.02" r="0.95" fill="#D9532F" fill-opacity="0.7"/>
<circle cx="380.65" cy="72.81" r="0.95" fill="#D9532F" fill-opacity="0.7"/>
<circle cx="380.24" cy="74.25" r="0.95" fill="#D9532F" fill-opacity="0.7"/>
<circle cx="380.66" cy="41.63" r="0.95" fill="#D9532F" fill-opacity="0.7"/>
<circle cx="380.05" cy="49.53" r="0.95" fill="#D9532F" fill-opacity="0.7"/>
<circle cx="380.89" cy="50.52" r="0.95" fill="#D9532F" fill-opacity="0.7"/>
<circle cx="380.04" cy="67.61" r="0.95" fill="#D9532F" fill-opacity="0.7"/>
<circle cx="380.87" cy="66.82" r="0.95" fill="#D9532F" fill-opacity="0.7"/>
<circle cx="380.03" cy="56.69" r="0.95" fill="#D9532F" fill-opacity="0.7"/>
<circle cx="379.85" cy="67.21" r="0.95" fill="#D9532F" fill-opacity="0.7"/>
<circle cx="380.52" cy="59.76" r="0.95" fill="#D9532F" fill-opacity="0.7"/>
<circle cx="380.06" cy="43.79" r="0.95" fill="#D9532F" fill-opacity="0.7"/>
<circle cx="380.18" cy="63.07" r="0.95" fill="#D9532F" fill-opacity="0.7"/>
<circle cx="379.73" cy="63.98" r="0.95" fill="#D9532F" fill-opacity="0.7"/>
<circle cx="380.08" cy="42.13" r="0.95" fill="#D9532F" fill-opacity="0.7"/>
<circle cx="380.24" cy="54.69" r="0.95" fill="#D9532F" fill-opacity="0.7"/>
<circle cx="379.95" cy="74.06" r="0.95" fill="#D9532F" fill-opacity="0.7"/>
<circle cx="380.34" cy="61.74" r="0.95" fill="#D9532F" fill-opacity="0.7"/>
<circle cx="379.39" cy="53.37" r="0.95" fill="#D9532F" fill-opacity="0.7"/>
<circle cx="380.52" cy="73.42" r="0.95" fill="#D9532F" fill-opacity="0.7"/>
<circle cx="380.06" cy="63.77" r="0.95" fill="#D9532F" fill-opacity="0.7"/>
<circle cx="380.72" cy="51.85" r="0.95" fill="#D9532F" fill-opacity="0.7"/>
<circle cx="380.08" cy="46.10" r="0.95" fill="#D9532F" fill-opacity="0.7"/>
<circle cx="379.97" cy="55.38" r="0.95" fill="#D9532F" fill-opacity="0.7"/>
<circle cx="380.04" cy="45.35" r="0.95" fill="#D9532F" fill-opacity="0.7"/>
<circle cx="380.30" cy="59.72" r="0.95" fill="#D9532F" fill-opacity="0.7"/>
<circle cx="380.41" cy="68.66" r="0.95" fill="#D9532F" fill-opacity="0.7"/>
<circle cx="380.04" cy="50.32" r="0.95" fill="#D9532F" fill-opacity="0.7"/>
<circle cx="379.92" cy="67.13" r="0.95" fill="#D9532F" fill-opacity="0.7"/>
<circle cx="380.35" cy="50.42" r="0.95" fill="#D9532F" fill-opacity="0.7"/>
<circle cx="380.49" cy="57.10" r="0.95" fill="#D9532F" fill-opacity="0.7"/>
<circle cx="379.58" cy="52.34" r="0.95" fill="#D9532F" fill-opacity="0.7"/>
<circle cx="379.83" cy="54.98" r="0.95" fill="#D9532F" fill-opacity="0.7"/>
<circle cx="379.96" cy="50.62" r="0.95" fill="#D9532F" fill-opacity="0.7"/>
<circle cx="380.80" cy="56.10" r="0.95" fill="#D9532F" fill-opacity="0.7"/>
<circle cx="380.64" cy="54.53" r="0.95" fill="#D9532F" fill-opacity="0.7"/>
<circle cx="380.48" cy="56.77" r="0.95" fill="#D9532F" fill-opacity="0.7"/>
<circle cx="380.38" cy="51.03" r="0.95" fill="#D9532F" fill-opacity="0.7"/>
<circle cx="379.80" cy="61.11" r="0.95" fill="#D9532F" fill-opacity="0.7"/>
<circle cx="380.60" cy="51.56" r="0.95" fill="#D9532F" fill-opacity="0.7"/>
<circle cx="380.04" cy="48.24" r="0.95" fill="#D9532F" fill-opacity="0.7"/>
<circle cx="379.92" cy="58.88" r="0.95" fill="#D9532F" fill-opacity="0.7"/>
<circle cx="393.59" cy="45.57" r="0.95" fill="#4589C8" fill-opacity="0.7"/>
<circle cx="392.39" cy="68.94" r="0.95" fill="#4589C8" fill-opacity="0.7"/>
<circle cx="393.39" cy="62.61" r="0.95" fill="#4589C8" fill-opacity="0.7"/>
<circle cx="392.97" cy="73.62" r="0.95" fill="#4589C8" fill-opacity="0.7"/>
<circle cx="392.57" cy="51.66" r="0.95" fill="#4589C8" fill-opacity="0.7"/>
<circle cx="392.96" cy="63.32" r="0.95" fill="#4589C8" fill-opacity="0.7"/>
<circle cx="392.60" cy="66.46" r="0.95" fill="#4589C8" fill-opacity="0.7"/>
<circle cx="392.97" cy="75.55" r="0.95" fill="#4589C8" fill-opacity="0.7"/>
<circle cx="392.67" cy="69.74" r="0.95" fill="#4589C8" fill-opacity="0.7"/>
<circle cx="392.48" cy="66.89" r="0.95" fill="#4589C8" fill-opacity="0.7"/>
<circle cx="393.84" cy="62.25" r="0.95" fill="#4589C8" fill-opacity="0.7"/>
<circle cx="392.72" cy="43.41" r="0.95" fill="#4589C8" fill-opacity="0.7"/>
<circle cx="393.25" cy="50.81" r="0.95" fill="#4589C8" fill-opacity="0.7"/>
<circle cx="392.88" cy="66.67" r="0.95" fill="#4589C8" fill-opacity="0.7"/>
<circle cx="393.14" cy="63.39" r="0.95" fill="#4589C8" fill-opacity="0.7"/>
<circle cx="392.45" cy="70.76" r="0.95" fill="#4589C8" fill-opacity="0.7"/>
<circle cx="392.53" cy="42.95" r="0.95" fill="#4589C8" fill-opacity="0.7"/>
<circle cx="391.74" cy="63.43" r="0.95" fill="#4589C8" fill-opacity="0.7"/>
<circle cx="393.26" cy="49.02" r="0.95" fill="#4589C8" fill-opacity="0.7"/>
<circle cx="393.06" cy="50.52" r="0.95" fill="#4589C8" fill-opacity="0.7"/>
<circle cx="392.48" cy="44.00" r="0.95" fill="#4589C8" fill-opacity="0.7"/>
<circle cx="393.20" cy="75.48" r="0.95" fill="#4589C8" fill-opacity="0.7"/>
<circle cx="393.11" cy="64.77" r="0.95" fill="#4589C8" fill-opacity="0.7"/>
<circle cx="393.94" cy="62.56" r="0.95" fill="#4589C8" fill-opacity="0.7"/>
<circle cx="392.98" cy="73.26" r="0.95" fill="#4589C8" fill-opacity="0.7"/>
<circle cx="393.23" cy="44.87" r="0.95" fill="#4589C8" fill-opacity="0.7"/>
<circle cx="393.12" cy="64.66" r="0.95" fill="#4589C8" fill-opacity="0.7"/>
<circle cx="393.17" cy="48.84" r="0.95" fill="#4589C8" fill-opacity="0.7"/>
<circle cx="392.89" cy="57.77" r="0.95" fill="#4589C8" fill-opacity="0.7"/>
<circle cx="392.75" cy="74.26" r="0.95" fill="#4589C8" fill-opacity="0.7"/>
<circle cx="393.15" cy="62.22" r="0.95" fill="#4589C8" fill-opacity="0.7"/>
<circle cx="393.34" cy="67.75" r="0.95" fill="#4589C8" fill-opacity="0.7"/>
<circle cx="392.49" cy="74.76" r="0.95" fill="#4589C8" fill-opacity="0.7"/>
<circle cx="392.50" cy="70.85" r="0.95" fill="#4589C8" fill-opacity="0.7"/>
<circle cx="392.89" cy="55.07" r="0.95" fill="#4589C8" fill-opacity="0.7"/>
<circle cx="393.54" cy="75.08" r="0.95" fill="#4589C8" fill-opacity="0.7"/>
<circle cx="392.83" cy="65.12" r="0.95" fill="#4589C8" fill-opacity="0.7"/>
<circle cx="392.30" cy="61.15" r="0.95" fill="#4589C8" fill-opacity="0.7"/>
<circle cx="393.19" cy="56.89" r="0.95" fill="#4589C8" fill-opacity="0.7"/>
<circle cx="393.17" cy="71.38" r="0.95" fill="#4589C8" fill-opacity="0.7"/>
<circle cx="393.59" cy="51.12" r="0.95" fill="#4589C8" fill-opacity="0.7"/>
<circle cx="392.97" cy="66.96" r="0.95" fill="#4589C8" fill-opacity="0.7"/>
<circle cx="393.60" cy="50.45" r="0.95" fill="#4589C8" fill-opacity="0.7"/>
<circle cx="392.65" cy="52.55" r="0.95" fill="#4589C8" fill-opacity="0.7"/>
<circle cx="393.22" cy="70.98" r="0.95" fill="#4589C8" fill-opacity="0.7"/>
<circle cx="392.95" cy="68.94" r="0.95" fill="#4589C8" fill-opacity="0.7"/>
<circle cx="392.48" cy="66.25" r="0.95" fill="#4589C8" fill-opacity="0.7"/>
<circle cx="392.80" cy="50.90" r="0.95" fill="#4589C8" fill-opacity="0.7"/>
<circle cx="393.37" cy="61.82" r="0.95" fill="#4589C8" fill-opacity="0.7"/>
<circle cx="393.30" cy="62.48" r="0.95" fill="#4589C8" fill-opacity="0.7"/>
<circle cx="392.77" cy="55.07" r="0.95" fill="#4589C8" fill-opacity="0.7"/>
<circle cx="393.29" cy="62.25" r="0.95" fill="#4589C8" fill-opacity="0.7"/>
<circle cx="393.22" cy="60.16" r="0.95" fill="#4589C8" fill-opacity="0.7"/>
<circle cx="393.22" cy="52.15" r="0.95" fill="#4589C8" fill-opacity="0.7"/>
<circle cx="393.00" cy="58.02" r="0.95" fill="#4589C8" fill-opacity="0.7"/>
<circle cx="393.01" cy="56.45" r="0.95" fill="#4589C8" fill-opacity="0.7"/>
<circle cx="392.61" cy="48.55" r="0.95" fill="#4589C8" fill-opacity="0.7"/>
<circle cx="392.88" cy="56.92" r="0.95" fill="#4589C8" fill-opacity="0.7"/>
<circle cx="392.95" cy="70.28" r="0.95" fill="#4589C8" fill-opacity="0.7"/>
<circle cx="392.64" cy="63.65" r="0.95" fill="#4589C8" fill-opacity="0.7"/>
<circle cx="392.80" cy="52.55" r="0.95" fill="#4589C8" fill-opacity="0.7"/>
<circle cx="392.96" cy="59.37" r="0.95" fill="#4589C8" fill-opacity="0.7"/>
<circle cx="392.98" cy="66.08" r="0.95" fill="#4589C8" fill-opacity="0.7"/>
<circle cx="393.28" cy="72.43" r="0.95" fill="#4589C8" fill-opacity="0.7"/>
<circle cx="392.54" cy="56.17" r="0.95" fill="#4589C8" fill-opacity="0.7"/>
<circle cx="392.76" cy="47.84" r="0.95" fill="#4589C8" fill-opacity="0.7"/>
<circle cx="396.30" cy="52.80" r="0.95" fill="#D9532F" fill-opacity="0.7"/>
<circle cx="396.07" cy="43.02" r="0.95" fill="#D9532F" fill-opacity="0.7"/>
<circle cx="396.32" cy="45.96" r="0.95" fill="#D9532F" fill-opacity="0.7"/>
<circle cx="396.04" cy="67.45" r="0.95" fill="#D9532F" fill-opacity="0.7"/>
<circle cx="396.62" cy="53.96" r="0.95" fill="#D9532F" fill-opacity="0.7"/>
<circle cx="396.12" cy="72.36" r="0.95" fill="#D9532F" fill-opacity="0.7"/>
<circle cx="395.80" cy="60.90" r="0.95" fill="#D9532F" fill-opacity="0.7"/>
<circle cx="396.47" cy="62.10" r="0.95" fill="#D9532F" fill-opacity="0.7"/>
<circle cx="396.79" cy="73.37" r="0.95" fill="#D9532F" fill-opacity="0.7"/>
<circle cx="395.52" cy="62.41" r="0.95" fill="#D9532F" fill-opacity="0.7"/>
<circle cx="396.16" cy="64.28" r="0.95" fill="#D9532F" fill-opacity="0.7"/>
<circle cx="396.23" cy="58.55" r="0.95" fill="#D9532F" fill-opacity="0.7"/>
<circle cx="396.57" cy="65.92" r="0.95" fill="#D9532F" fill-opacity="0.7"/>
<circle cx="396.73" cy="70.03" r="0.95" fill="#D9532F" fill-opacity="0.7"/>
<circle cx="396.15" cy="61.76" r="0.95" fill="#D9532F" fill-opacity="0.7"/>
<circle cx="395.65" cy="59.29" r="0.95" fill="#D9532F" fill-opacity="0.7"/>
<circle cx="396.44" cy="69.75" r="0.95" fill="#D9532F" fill-opacity="0.7"/>
<circle cx="396.56" cy="52.85" r="0.95" fill="#D9532F" fill-opacity="0.7"/>
<circle cx="396.37" cy="67.28" r="0.95" fill="#D9532F" fill-opacity="0.7"/>
<circle cx="396.23" cy="72.25" r="0.95" fill="#D9532F" fill-opacity="0.7"/>
<circle cx="395.91" cy="63.82" r="0.95" fill="#D9532F" fill-opacity="0.7"/>
<circle cx="397.07" cy="61.09" r="0.95" fill="#D9532F" fill-opacity="0.7"/>
<circle cx="395.78" cy="70.29" r="0.95" fill="#D9532F" fill-opacity="0.7"/>
<circle cx="395.67" cy="55.65" r="0.95" fill="#D9532F" fill-opacity="0.7"/>
<circle cx="396.55" cy="51.63" r="0.95" fill="#D9532F" fill-opacity="0.7"/>
<circle cx="396.30" cy="56.65" r="0.95" fill="#D9532F" fill-opacity="0.7"/>
<circle cx="396.44" cy="51.67" r="0.95" fill="#D9532F" fill-opacity="0.7"/>
<circle cx="396.33" cy="74.63" r="0.95" fill="#D9532F" fill-opacity="0.7"/>
<circle cx="396.80" cy="62.14" r="0.95" fill="#D9532F" fill-opacity="0.7"/>
<circle cx="396.71" cy="63.06" r="0.95" fill="#D9532F" fill-opacity="0.7"/>
<circle cx="396.01" cy="73.27" r="0.95" fill="#D9532F" fill-opacity="0.7"/>
<circle cx="396.56" cy="61.70" r="0.95" fill="#D9532F" fill-opacity="0.7"/>
<circle cx="395.79" cy="73.56" r="0.95" fill="#D9532F" fill-opacity="0.7"/>
<circle cx="395.60" cy="58.60" r="0.95" fill="#D9532F" fill-opacity="0.7"/>
<circle cx="396.63" cy="55.54" r="0.95" fill="#D9532F" fill-opacity="0.7"/>
<circle cx="396.05" cy="59.51" r="0.95" fill="#D9532F" fill-opacity="0.7"/>
<circle cx="395.44" cy="64.37" r="0.95" fill="#D9532F" fill-opacity="0.7"/>
<circle cx="396.20" cy="66.82" r="0.95" fill="#D9532F" fill-opacity="0.7"/>
<circle cx="395.97" cy="74.61" r="0.95" fill="#D9532F" fill-opacity="0.7"/>
<circle cx="396.38" cy="63.64" r="0.95" fill="#D9532F" fill-opacity="0.7"/>
<circle cx="396.18" cy="45.17" r="0.95" fill="#D9532F" fill-opacity="0.7"/>
<circle cx="395.93" cy="56.23" r="0.95" fill="#D9532F" fill-opacity="0.7"/>
<circle cx="395.95" cy="66.53" r="0.95" fill="#D9532F" fill-opacity="0.7"/>
<circle cx="396.47" cy="52.75" r="0.95" fill="#D9532F" fill-opacity="0.7"/>
<circle cx="395.87" cy="69.10" r="0.95" fill="#D9532F" fill-opacity="0.7"/>
<circle cx="396.25" cy="59.50" r="0.95" fill="#D9532F" fill-opacity="0.7"/>
<circle cx="395.85" cy="54.55" r="0.95" fill="#D9532F" fill-opacity="0.7"/>
<circle cx="396.36" cy="43.04" r="0.95" fill="#D9532F" fill-opacity="0.7"/>
<circle cx="396.83" cy="63.11" r="0.95" fill="#D9532F" fill-opacity="0.7"/>
<circle cx="396.40" cy="55.87" r="0.95" fill="#D9532F" fill-opacity="0.7"/>
<circle cx="396.60" cy="47.56" r="0.95" fill="#D9532F" fill-opacity="0.7"/>
<circle cx="396.36" cy="62.58" r="0.95" fill="#D9532F" fill-opacity="0.7"/>
<circle cx="395.86" cy="65.03" r="0.95" fill="#D9532F" fill-opacity="0.7"/>
<circle cx="396.10" cy="65.23" r="0.95" fill="#D9532F" fill-opacity="0.7"/>
<circle cx="396.23" cy="64.41" r="0.95" fill="#D9532F" fill-opacity="0.7"/>
<circle cx="396.36" cy="54.72" r="0.95" fill="#D9532F" fill-opacity="0.7"/>
<circle cx="395.99" cy="60.54" r="0.95" fill="#D9532F" fill-opacity="0.7"/>
<circle cx="396.42" cy="45.87" r="0.95" fill="#D9532F" fill-opacity="0.7"/>
<circle cx="395.95" cy="53.61" r="0.95" fill="#D9532F" fill-opacity="0.7"/>
<circle cx="396.23" cy="63.02" r="0.95" fill="#D9532F" fill-opacity="0.7"/>
<circle cx="396.20" cy="56.86" r="0.95" fill="#D9532F" fill-opacity="0.7"/>
<circle cx="395.80" cy="59.47" r="0.95" fill="#D9532F" fill-opacity="0.7"/>
<circle cx="396.56" cy="53.15" r="0.95" fill="#D9532F" fill-opacity="0.7"/>
<circle cx="396.22" cy="52.37" r="0.95" fill="#D9532F" fill-opacity="0.7"/>
<circle cx="396.24" cy="60.76" r="0.95" fill="#D9532F" fill-opacity="0.7"/>
<circle cx="396.19" cy="52.47" r="0.95" fill="#D9532F" fill-opacity="0.7"/>
<line x1="341.00" y1="39.00" x2="341.00" y2="78.20" stroke="#505050" stroke-width="0.95"/>
<line x1="340.60" y1="77.80" x2="400.40" y2="77.80" stroke="#505050" stroke-width="0.95"/>
<line x1="339.20" y1="69.00" x2="341.00" y2="69.00" stroke="#505050" stroke-width="0.8"/>
<text x="338.40" y="72.11" font-size="9.00" text-anchor="end" fill="#606060">10</text>
<line x1="339.20" y1="55.65" x2="341.00" y2="55.65" stroke="#505050" stroke-width="0.8"/>
<text x="338.40" y="58.75" font-size="9.00" text-anchor="end" fill="#606060">15</text>
<line x1="339.20" y1="42.30" x2="341.00" y2="42.30" stroke="#505050" stroke-width="0.8"/>
<text x="338.40" y="45.40" font-size="9.00" text-anchor="end" fill="#606060">20</text>
<line x1="347.10" y1="77.80" x2="347.10" y2="79.60" stroke="#505050" stroke-width="0.8"/>
<text x="347.10" y="87.51" font-size="9.00" text-anchor="middle" fill="#606060">2</text>
<line x1="362.80" y1="77.80" x2="362.80" y2="79.60" stroke="#505050" stroke-width="0.8"/>
<text x="362.80" y="87.51" font-size="9.00" text-anchor="middle" fill="#606060">3</text>
<line x1="378.40" y1="77.80" x2="378.40" y2="79.60" stroke="#505050" stroke-width="0.8"/>
<text x="378.40" y="87.51" font-size="9.00" text-anchor="middle" fill="#606060">4</text>
<line x1="394.50" y1="77.80" x2="394.50" y2="79.60" stroke="#505050" stroke-width="0.8"/>
<text x="394.50" y="87.51" font-size="9.00" text-anchor="middle" fill="#606060">5</text>
<line x1="521.50" y1="32.00" x2="521.50" y2="154.00" stroke="#363636" stroke-width="1.0"/>
<line x1="521.00" y1="153.50" x2="683.80" y2="153.50" stroke="#363636" stroke-width="1.0"/>
<line x1="519.30" y1="140.50" x2="521.50" y2="140.50" stroke="#363636" stroke-width="1.0"/>
<text x="517.00" y="144.40" font-size="11.30" text-anchor="end" fill="#4D4D4D">11</text>
<line x1="519.30" y1="103.50" x2="521.50" y2="103.50" stroke="#363636" stroke-width="1.0"/>
<text x="517.00" y="107.40" font-size="11.30" text-anchor="end" fill="#4D4D4D">12</text>
<line x1="519.30" y1="66.50" x2="521.50" y2="66.50" stroke="#363636" stroke-width="1.0"/>
<text x="517.00" y="70.40" font-size="11.30" text-anchor="end" fill="#4D4D4D">13</text>
<line x1="537.70" y1="153.50" x2="537.70" y2="155.70" stroke="#363636" stroke-width="1.0"/>
<text x="537.70" y="164.80" font-size="11.30" text-anchor="middle" fill="#4D4D4D">2</text>
<line x1="580.90" y1="153.50" x2="580.90" y2="155.70" stroke="#363636" stroke-width="1.0"/>
<text x="580.90" y="164.80" font-size="11.30" text-anchor="middle" fill="#4D4D4D">3</text>
<line x1="624.10" y1="153.50" x2="624.10" y2="155.70" stroke="#363636" stroke-width="1.0"/>
<text x="624.10" y="164.80" font-size="11.30" text-anchor="middle" fill="#4D4D4D">4</text>
<line x1="667.30" y1="153.50" x2="667.30" y2="155.70" stroke="#363636" stroke-width="1.0"/>
<text x="667.30" y="164.80" font-size="11.30" text-anchor="middle" fill="#4D4D4D">5</text>
<path d="M533.10,127.30 L576.60,120.70 L620.00,120.70 L662.90,115.30" fill="none" stroke="#3B7DBE" stroke-width="1.15"/>
<line x1="533.10" y1="116.00" x2="533.10" y2="137.20" stroke="#3B7DBE" stroke-width="1.35"/>
<line x1="531.00" y1="116.00" x2="535.20" y2="116.00" stroke="#3B7DBE" stroke-width="1.35"/>
<line x1="531.00" y1="137.20" x2="535.20" y2="137.20" stroke="#3B7DBE" stroke-width="1.35"/>
<circle cx="533.10" cy="127.30" r="2.7" fill="#3B7DBE"/>
<line x1="576.60" y1="109.60" x2="576.60" y2="130.50" stroke="#3B7DBE" stroke-width="1.35"/>
<line x1="574.50" y1="109.60" x2="578.70" y2="109.60" stroke="#3B7DBE" stroke-width="1.35"/>
<line x1="574.50" y1="130.50" x2="578.70" y2="130.50" stroke="#3B7DBE" stroke-width="1.35"/>
<circle cx="576.60" cy="120.70" r="2.7" fill="#3B7DBE"/>
<line x1="620.00" y1="110.10" x2="620.00" y2="130.50" stroke="#3B7DBE" stroke-width="1.35"/>
<line x1="617.90" y1="110.10" x2="622.10" y2="110.10" stroke="#3B7DBE" stroke-width="1.35"/>
<line x1="617.90" y1="130.50" x2="622.10" y2="130.50" stroke="#3B7DBE" stroke-width="1.35"/>
<circle cx="620.00" cy="120.70" r="2.7" fill="#3B7DBE"/>
<line x1="662.90" y1="104.70" x2="662.90" y2="125.60" stroke="#3B7DBE" stroke-width="1.35"/>
<line x1="660.80" y1="104.70" x2="665.00" y2="104.70" stroke="#3B7DBE" stroke-width="1.35"/>
<line x1="660.80" y1="125.60" x2="665.00" y2="125.60" stroke="#3B7DBE" stroke-width="1.35"/>
<circle cx="662.90" cy="115.30" r="2.7" fill="#3B7DBE"/>
<path d="M542.00,121.40 L585.20,118.90 L628.60,123.60 L672.20,120.90" fill="none" stroke="#D1472A" stroke-width="1.15"/>
<line x1="542.00" y1="110.00" x2="542.00" y2="132.70" stroke="#D1472A" stroke-width="1.35"/>
<line x1="539.90" y1="110.00" x2="544.10" y2="110.00" stroke="#D1472A" stroke-width="1.35"/>
<line x1="539.90" y1="132.70" x2="544.10" y2="132.70" stroke="#D1472A" stroke-width="1.35"/>
<circle cx="542.00" cy="121.40" r="2.7" fill="#D1472A"/>
<line x1="585.20" y1="107.70" x2="585.20" y2="130.50" stroke="#D1472A" stroke-width="1.35"/>
<line x1="583.10" y1="107.70" x2="587.30" y2="107.70" stroke="#D1472A" stroke-width="1.35"/>
<line x1="583.10" y1="130.50" x2="587.30" y2="130.50" stroke="#D1472A" stroke-width="1.35"/>
<circle cx="585.20" cy="118.90" r="2.7" fill="#D1472A"/>
<line x1="628.60" y1="112.60" x2="628.60" y2="134.60" stroke="#D1472A" stroke-width="1.35"/>
<line x1="626.50" y1="112.60" x2="630.70" y2="112.60" stroke="#D1472A" stroke-width="1.35"/>
<line x1="626.50" y1="134.60" x2="630.70" y2="134.60" stroke="#D1472A" stroke-width="1.35"/>
<circle cx="628.60" cy="123.60" r="2.7" fill="#D1472A"/>
<line x1="672.20" y1="108.90" x2="672.20" y2="132.20" stroke="#D1472A" stroke-width="1.35"/>
<line x1="670.10" y1="108.90" x2="674.30" y2="108.90" stroke="#D1472A" stroke-width="1.35"/>
<line x1="670.10" y1="132.20" x2="674.30" y2="132.20" stroke="#D1472A" stroke-width="1.35"/>
<circle cx="672.20" cy="120.90" r="2.7" fill="#D1472A"/>
<rect x="564.90" y="34.90" width="78.20" height="56.40" fill="#F2F2F2"/>
<circle cx="584.56" cy="51.00" r="0.95" fill="#4589C8" fill-opacity="0.7"/>
<circle cx="583.96" cy="40.66" r="0.95" fill="#4589C8" fill-opacity="0.7"/>
<circle cx="584.69" cy="57.40" r="0.95" fill="#4589C8" fill-opacity="0.7"/>
<circle cx="583.96" cy="50.86" r="0.95" fill="#4589C8" fill-opacity="0.7"/>
<circle cx="583.96" cy="57.31" r="0.95" fill="#4589C8" fill-opacity="0.7"/>
<circle cx="584.35" cy="59.22" r="0.95" fill="#4589C8" fill-opacity="0.7"/>
<circle cx="583.70" cy="50.55" r="0.95" fill="#4589C8" fill-opacity="0.7"/>
<circle cx="584.04" cy="51.11" r="0.95" fill="#4589C8" fill-opacity="0.7"/>
<circle cx="584.78" cy="58.82" r="0.95" fill="#4589C8" fill-opacity="0.7"/>
<circle cx="584.25" cy="53.69" r="0.95" fill="#4589C8" fill-opacity="0.7"/>
<circle cx="583.71" cy="53.17" r="0.95" fill="#4589C8" fill-opacity="0.7"/>
<circle cx="584.01" cy="46.48" r="0.95" fill="#4589C8" fill-opacity="0.7"/>
<circle cx="584.09" cy="66.20" r="0.95" fill="#4589C8" fill-opacity="0.7"/>
<circle cx="583.83" cy="65.08" r="0.95" fill="#4589C8" fill-opacity="0.7"/>
<circle cx="584.24" cy="60.60" r="0.95" fill="#4589C8" fill-opacity="0.7"/>
<circle cx="584.54" cy="60.09" r="0.95" fill="#4589C8" fill-opacity="0.7"/>
<circle cx="584.12" cy="45.31" r="0.95" fill="#4589C8" fill-opacity="0.7"/>
<circle cx="584.41" cy="55.72" r="0.95" fill="#4589C8" fill-opacity="0.7"/>
<circle cx="584.20" cy="43.49" r="0.95" fill="#4589C8" fill-opacity="0.7"/>
<circle cx="584.15" cy="56.37" r="0.95" fill="#4589C8" fill-opacity="0.7"/>
<circle cx="583.84" cy="59.65" r="0.95" fill="#4589C8" fill-opacity="0.7"/>
<circle cx="584.44" cy="48.56" r="0.95" fill="#4589C8" fill-opacity="0.7"/>
<circle cx="584.57" cy="65.29" r="0.95" fill="#4589C8" fill-opacity="0.7"/>
<circle cx="583.94" cy="40.00" r="0.95" fill="#4589C8" fill-opacity="0.7"/>
<circle cx="583.79" cy="44.30" r="0.95" fill="#4589C8" fill-opacity="0.7"/>
<circle cx="584.28" cy="58.46" r="0.95" fill="#4589C8" fill-opacity="0.7"/>
<circle cx="584.14" cy="58.76" r="0.95" fill="#4589C8" fill-opacity="0.7"/>
<circle cx="584.50" cy="44.64" r="0.95" fill="#4589C8" fill-opacity="0.7"/>
<circle cx="584.27" cy="45.51" r="0.95" fill="#4589C8" fill-opacity="0.7"/>
<circle cx="584.05" cy="49.62" r="0.95" fill="#4589C8" fill-opacity="0.7"/>
<circle cx="583.61" cy="66.09" r="0.95" fill="#4589C8" fill-opacity="0.7"/>
<circle cx="584.32" cy="46.21" r="0.95" fill="#4589C8" fill-opacity="0.7"/>
<circle cx="584.13" cy="66.34" r="0.95" fill="#4589C8" fill-opacity="0.7"/>
<circle cx="583.66" cy="50.11" r="0.95" fill="#4589C8" fill-opacity="0.7"/>
<circle cx="583.58" cy="52.16" r="0.95" fill="#4589C8" fill-opacity="0.7"/>
<circle cx="583.46" cy="41.60" r="0.95" fill="#4589C8" fill-opacity="0.7"/>
<circle cx="584.32" cy="49.72" r="0.95" fill="#4589C8" fill-opacity="0.7"/>
<circle cx="583.95" cy="67.06" r="0.95" fill="#4589C8" fill-opacity="0.7"/>
<circle cx="582.94" cy="41.40" r="0.95" fill="#4589C8" fill-opacity="0.7"/>
<circle cx="583.79" cy="46.51" r="0.95" fill="#4589C8" fill-opacity="0.7"/>
<circle cx="583.88" cy="51.38" r="0.95" fill="#4589C8" fill-opacity="0.7"/>
<circle cx="584.06" cy="67.53" r="0.95" fill="#4589C8" fill-opacity="0.7"/>
<circle cx="584.11" cy="46.96" r="0.95" fill="#4589C8" fill-opacity="0.7"/>
<circle cx="583.98" cy="55.92" r="0.95" fill="#4589C8" fill-opacity="0.7"/>
<circle cx="584.36" cy="48.57" r="0.95" fill="#4589C8" fill-opacity="0.7"/>
<circle cx="584.46" cy="40.02" r="0.95" fill="#4589C8" fill-opacity="0.7"/>
<circle cx="584.02" cy="41.90" r="0.95" fill="#4589C8" fill-opacity="0.7"/>
<circle cx="584.65" cy="65.58" r="0.95" fill="#4589C8" fill-opacity="0.7"/>
<circle cx="584.06" cy="45.71" r="0.95" fill="#4589C8" fill-opacity="0.7"/>
<circle cx="583.80" cy="55.30" r="0.95" fill="#4589C8" fill-opacity="0.7"/>
<circle cx="584.15" cy="53.57" r="0.95" fill="#4589C8" fill-opacity="0.7"/>
<circle cx="583.60" cy="59.10" r="0.95" fill="#4589C8" fill-opacity="0.7"/>
<circle cx="583.99" cy="59.33" r="0.95" fill="#4589C8" fill-opacity="0.7"/>
<circle cx="583.73" cy="51.68" r="0.95" fill="#4589C8" fill-opacity="0.7"/>
<circle cx="583.95" cy="49.98" r="0.95" fill="#4589C8" fill-opacity="0.7"/>
<circle cx="584.17" cy="50.29" r="0.95" fill="#4589C8" fill-opacity="0.7"/>
<circle cx="583.24" cy="53.83" r="0.95" fill="#4589C8" fill-opacity="0.7"/>
<circle cx="584.24" cy="55.78" r="0.95" fill="#4589C8" fill-opacity="0.7"/>
<circle cx="584.19" cy="45.66" r="0.95" fill="#4589C8" fill-opacity="0.7"/>
<circle cx="584.02" cy="46.53" r="0.95" fill="#4589C8" fill-opacity="0.7"/>
<circle cx="584.35" cy="57.19" r="0.95" fill="#4589C8" fill-opacity="0.7"/>
<circle cx="584.22" cy="59.76" r="0.95" fill="#4589C8" fill-opacity="0.7"/>
<circle cx="583.97" cy="51.48" r="0.95" fill="#4589C8" fill-opacity="0.7"/>
<circle cx="583.75" cy="51.78" r="0.95" fill="#4589C8" fill-opacity="0.7"/>
<circle cx="584.36" cy="58.77" r="0.95" fill="#4589C8" fill-opacity="0.7"/>
<circle cx="584.37" cy="40.65" r="0.95" fill="#4589C8" fill-opacity="0.7"/>
<circle cx="583.58" cy="75.22" r="0.95" fill="#4589C8" fill-opacity="0.7"/>
<circle cx="587.24" cy="51.45" r="0.95" fill="#D9532F" fill-opacity="0.7"/>
<circle cx="587.08" cy="41.99" r="0.95" fill="#D9532F" fill-opacity="0.7"/>
<circle cx="587.79" cy="60.58" r="0.95" fill="#D9532F" fill-opacity="0.7"/>
<circle cx="587.30" cy="55.26" r="0.95" fill="#D9532F" fill-opacity="0.7"/>
<circle cx="587.06" cy="52.08" r="0.95" fill="#D9532F" fill-opacity="0.7"/>
<circle cx="588.03" cy="44.16" r="0.95" fill="#D9532F" fill-opacity="0.7"/>
<circle cx="587.66" cy="62.88" r="0.95" fill="#D9532F" fill-opacity="0.7"/>
<circle cx="587.58" cy="43.26" r="0.95" fill="#D9532F" fill-opacity="0.7"/>
<circle cx="587.58" cy="53.75" r="0.95" fill="#D9532F" fill-opacity="0.7"/>
<circle cx="587.44" cy="65.28" r="0.95" fill="#D9532F" fill-opacity="0.7"/>
<circle cx="587.51" cy="54.81" r="0.95" fill="#D9532F" fill-opacity="0.7"/>
<circle cx="587.81" cy="56.23" r="0.95" fill="#D9532F" fill-opacity="0.7"/>
<circle cx="587.65" cy="48.47" r="0.95" fill="#D9532F" fill-opacity="0.7"/>
<circle cx="587.34" cy="41.83" r="0.95" fill="#D9532F" fill-opacity="0.7"/>
<circle cx="587.53" cy="53.20" r="0.95" fill="#D9532F" fill-opacity="0.7"/>
<circle cx="588.16" cy="48.07" r="0.95" fill="#D9532F" fill-opacity="0.7"/>
<circle cx="587.30" cy="55.96" r="0.95" fill="#D9532F" fill-opacity="0.7"/>
<circle cx="587.04" cy="45.74" r="0.95" fill="#D9532F" fill-opacity="0.7"/>
<circle cx="587.54" cy="63.35" r="0.95" fill="#D9532F" fill-opacity="0.7"/>
<circle cx="587.10" cy="46.69" r="0.95" fill="#D9532F" fill-opacity="0.7"/>
<circle cx="588.42" cy="61.75" r="0.95" fill="#D9532F" fill-opacity="0.7"/>
<circle cx="587.72" cy="50.78" r="0.95" fill="#D9532F" fill-opacity="0.7"/>
<circle cx="587.70" cy="60.82" r="0.95" fill="#D9532F" fill-opacity="0.7"/>
<circle cx="587.63" cy="57.05" r="0.95" fill="#D9532F" fill-opacity="0.7"/>
<circle cx="588.19" cy="61.82" r="0.95" fill="#D9532F" fill-opacity="0.7"/>
<circle cx="587.14" cy="56.96" r="0.95" fill="#D9532F" fill-opacity="0.7"/>
<circle cx="587.48" cy="50.64" r="0.95" fill="#D9532F" fill-opacity="0.7"/>
<circle cx="586.91" cy="52.51" r="0.95" fill="#D9532F" fill-opacity="0.7"/>
<circle cx="587.93" cy="55.94" r="0.95" fill="#D9532F" fill-opacity="0.7"/>
<circle cx="587.47" cy="51.09" r="0.95" fill="#D9532F" fill-opacity="0.7"/>
<circle cx="588.12" cy="44.08" r="0.95" fill="#D9532F" fill-opacity="0.7"/>
<circle cx="587.40" cy="56.74" r="0.95" fill="#D9532F" fill-opacity="0.7"/>
<circle cx="587.13" cy="50.84" r="0.95" fill="#D9532F" fill-opacity="0.7"/>
<circle cx="587.25" cy="53.54" r="0.95" fill="#D9532F" fill-opacity="0.7"/>
<circle cx="587.78" cy="40.46" r="0.95" fill="#D9532F" fill-opacity="0.7"/>
<circle cx="587.21" cy="57.53" r="0.95" fill="#D9532F" fill-opacity="0.7"/>
<circle cx="587.59" cy="47.87" r="0.95" fill="#D9532F" fill-opacity="0.7"/>
<circle cx="587.24" cy="60.00" r="0.95" fill="#D9532F" fill-opacity="0.7"/>
<circle cx="587.25" cy="59.27" r="0.95" fill="#D9532F" fill-opacity="0.7"/>
<circle cx="587.30" cy="47.00" r="0.95" fill="#D9532F" fill-opacity="0.7"/>
<circle cx="588.07" cy="51.07" r="0.95" fill="#D9532F" fill-opacity="0.7"/>
<circle cx="587.12" cy="59.38" r="0.95" fill="#D9532F" fill-opacity="0.7"/>
<circle cx="587.61" cy="64.43" r="0.95" fill="#D9532F" fill-opacity="0.7"/>
<circle cx="587.78" cy="44.53" r="0.95" fill="#D9532F" fill-opacity="0.7"/>
<circle cx="587.24" cy="56.23" r="0.95" fill="#D9532F" fill-opacity="0.7"/>
<circle cx="586.97" cy="47.37" r="0.95" fill="#D9532F" fill-opacity="0.7"/>
<circle cx="588.03" cy="54.79" r="0.95" fill="#D9532F" fill-opacity="0.7"/>
<circle cx="588.11" cy="49.95" r="0.95" fill="#D9532F" fill-opacity="0.7"/>
<circle cx="587.41" cy="51.47" r="0.95" fill="#D9532F" fill-opacity="0.7"/>
<circle cx="587.07" cy="40.59" r="0.95" fill="#D9532F" fill-opacity="0.7"/>
<circle cx="587.80" cy="48.16" r="0.95" fill="#D9532F" fill-opacity="0.7"/>
<circle cx="587.48" cy="56.13" r="0.95" fill="#D9532F" fill-opacity="0.7"/>
<circle cx="587.21" cy="56.81" r="0.95" fill="#D9532F" fill-opacity="0.7"/>
<circle cx="587.36" cy="52.71" r="0.95" fill="#D9532F" fill-opacity="0.7"/>
<circle cx="586.66" cy="52.98" r="0.95" fill="#D9532F" fill-opacity="0.7"/>
<circle cx="587.21" cy="55.46" r="0.95" fill="#D9532F" fill-opacity="0.7"/>
<circle cx="587.07" cy="56.56" r="0.95" fill="#D9532F" fill-opacity="0.7"/>
<circle cx="587.03" cy="43.52" r="0.95" fill="#D9532F" fill-opacity="0.7"/>
<circle cx="587.70" cy="45.13" r="0.95" fill="#D9532F" fill-opacity="0.7"/>
<circle cx="587.59" cy="51.26" r="0.95" fill="#D9532F" fill-opacity="0.7"/>
<circle cx="588.09" cy="59.06" r="0.95" fill="#D9532F" fill-opacity="0.7"/>
<circle cx="586.55" cy="55.78" r="0.95" fill="#D9532F" fill-opacity="0.7"/>
<circle cx="587.26" cy="54.52" r="0.95" fill="#D9532F" fill-opacity="0.7"/>
<circle cx="587.20" cy="50.43" r="0.95" fill="#D9532F" fill-opacity="0.7"/>
<circle cx="587.96" cy="44.55" r="0.95" fill="#D9532F" fill-opacity="0.7"/>
<circle cx="587.86" cy="55.73" r="0.95" fill="#D9532F" fill-opacity="0.7"/>
<circle cx="587.54" cy="74.82" r="0.95" fill="#D9532F" fill-opacity="0.7"/>
<circle cx="599.83" cy="45.02" r="0.95" fill="#4589C8" fill-opacity="0.7"/>
<circle cx="599.53" cy="64.94" r="0.95" fill="#4589C8" fill-opacity="0.7"/>
<circle cx="599.61" cy="45.63" r="0.95" fill="#4589C8" fill-opacity="0.7"/>
<circle cx="599.64" cy="61.54" r="0.95" fill="#4589C8" fill-opacity="0.7"/>
<circle cx="598.91" cy="62.08" r="0.95" fill="#4589C8" fill-opacity="0.7"/>
<circle cx="600.46" cy="52.64" r="0.95" fill="#4589C8" fill-opacity="0.7"/>
<circle cx="600.05" cy="50.53" r="0.95" fill="#4589C8" fill-opacity="0.7"/>
<circle cx="600.53" cy="64.29" r="0.95" fill="#4589C8" fill-opacity="0.7"/>
<circle cx="600.23" cy="46.17" r="0.95" fill="#4589C8" fill-opacity="0.7"/>
<circle cx="599.97" cy="51.30" r="0.95" fill="#4589C8" fill-opacity="0.7"/>
<circle cx="600.09" cy="42.39" r="0.95" fill="#4589C8" fill-opacity="0.7"/>
<circle cx="599.20" cy="41.70" r="0.95" fill="#4589C8" fill-opacity="0.7"/>
<circle cx="599.44" cy="48.30" r="0.95" fill="#4589C8" fill-opacity="0.7"/>
<circle cx="600.10" cy="57.45" r="0.95" fill="#4589C8" fill-opacity="0.7"/>
<circle cx="599.66" cy="40.93" r="0.95" fill="#4589C8" fill-opacity="0.7"/>
<circle cx="599.22" cy="47.47" r="0.95" fill="#4589C8" fill-opacity="0.7"/>
<circle cx="599.79" cy="59.51" r="0.95" fill="#4589C8" fill-opacity="0.7"/>
<circle cx="599.34" cy="43.56" r="0.95" fill="#4589C8" fill-opacity="0.7"/>
<circle cx="599.79" cy="47.24" r="0.95" fill="#4589C8" fill-opacity="0.7"/>
<circle cx="600.35" cy="60.24" r="0.95" fill="#4589C8" fill-opacity="0.7"/>
<circle cx="599.39" cy="60.68" r="0.95" fill="#4589C8" fill-opacity="0.7"/>
<circle cx="599.64" cy="67.12" r="0.95" fill="#4589C8" fill-opacity="0.7"/>
<circle cx="599.99" cy="52.58" r="0.95" fill="#4589C8" fill-opacity="0.7"/>
<circle cx="599.78" cy="60.56" r="0.95" fill="#4589C8" fill-opacity="0.7"/>
<circle cx="599.86" cy="59.45" r="0.95" fill="#4589C8" fill-opacity="0.7"/>
<circle cx="599.50" cy="60.58" r="0.95" fill="#4589C8" fill-opacity="0.7"/>
<circle cx="599.67" cy="63.99" r="0.95" fill="#4589C8" fill-opacity="0.7"/>
<circle cx="598.95" cy="54.05" r="0.95" fill="#4589C8" fill-opacity="0.7"/>
<circle cx="599.73" cy="60.02" r="0.95" fill="#4589C8" fill-opacity="0.7"/>
<circle cx="600.25" cy="59.67" r="0.95" fill="#4589C8" fill-opacity="0.7"/>
<circle cx="599.40" cy="59.88" r="0.95" fill="#4589C8" fill-opacity="0.7"/>
<circle cx="599.73" cy="53.36" r="0.95" fill="#4589C8" fill-opacity="0.7"/>
<circle cx="600.04" cy="43.11" r="0.95" fill="#4589C8" fill-opacity="0.7"/>
<circle cx="600.23" cy="63.19" r="0.95" fill="#4589C8" fill-opacity="0.7"/>
<circle cx="600.20" cy="43.51" r="0.95" fill="#4589C8" fill-opacity="0.7"/>
<circle cx="599.48" cy="43.64" r="0.95" fill="#4589C8" fill-opacity="0.7"/>
<circle cx="599.65" cy="50.55" r="0.95" fill="#4589C8" fill-opacity="0.7"/>
<circle cx="600.41" cy="52.39" r="0.95" fill="#4589C8" fill-opacity="0.7"/>
<circle cx="599.63" cy="47.04" r="0.95" fill="#4589C8" fill-opacity="0.7"/>
<circle cx="599.89" cy="52.65" r="0.95" fill="#4589C8" fill-opacity="0.7"/>
<circle cx="599.49" cy="49.12" r="0.95" fill="#4589C8" fill-opacity="0.7"/>
<circle cx="599.56" cy="41.83" r="0.95" fill="#4589C8" fill-opacity="0.7"/>
<circle cx="598.74" cy="45.88" r="0.95" fill="#4589C8" fill-opacity="0.7"/>
<circle cx="599.60" cy="60.38" r="0.95" fill="#4589C8" fill-opacity="0.7"/>
<circle cx="599.01" cy="66.16" r="0.95" fill="#4589C8" fill-opacity="0.7"/>
<circle cx="599.43" cy="41.34" r="0.95" fill="#4589C8" fill-opacity="0.7"/>
<circle cx="599.45" cy="57.49" r="0.95" fill="#4589C8" fill-opacity="0.7"/>
<circle cx="600.27" cy="45.54" r="0.95" fill="#4589C8" fill-opacity="0.7"/>
<circle cx="600.06" cy="61.12" r="0.95" fill="#4589C8" fill-opacity="0.7"/>
<circle cx="599.93" cy="54.95" r="0.95" fill="#4589C8" fill-opacity="0.7"/>
<circle cx="599.61" cy="59.87" r="0.95" fill="#4589C8" fill-opacity="0.7"/>
<circle cx="599.30" cy="47.01" r="0.95" fill="#4589C8" fill-opacity="0.7"/>
<circle cx="599.96" cy="47.36" r="0.95" fill="#4589C8" fill-opacity="0.7"/>
<circle cx="599.50" cy="55.94" r="0.95" fill="#4589C8" fill-opacity="0.7"/>
<circle cx="599.75" cy="58.39" r="0.95" fill="#4589C8" fill-opacity="0.7"/>
<circle cx="600.13" cy="55.72" r="0.95" fill="#4589C8" fill-opacity="0.7"/>
<circle cx="599.72" cy="52.09" r="0.95" fill="#4589C8" fill-opacity="0.7"/>
<circle cx="599.78" cy="39.94" r="0.95" fill="#4589C8" fill-opacity="0.7"/>
<circle cx="599.44" cy="43.34" r="0.95" fill="#4589C8" fill-opacity="0.7"/>
<circle cx="600.16" cy="45.09" r="0.95" fill="#4589C8" fill-opacity="0.7"/>
<circle cx="599.98" cy="54.82" r="0.95" fill="#4589C8" fill-opacity="0.7"/>
<circle cx="600.04" cy="55.44" r="0.95" fill="#4589C8" fill-opacity="0.7"/>
<circle cx="600.37" cy="51.49" r="0.95" fill="#4589C8" fill-opacity="0.7"/>
<circle cx="599.22" cy="55.13" r="0.95" fill="#4589C8" fill-opacity="0.7"/>
<circle cx="599.80" cy="56.23" r="0.95" fill="#4589C8" fill-opacity="0.7"/>
<circle cx="600.02" cy="54.76" r="0.95" fill="#4589C8" fill-opacity="0.7"/>
<circle cx="599.91" cy="75.22" r="0.95" fill="#4589C8" fill-opacity="0.7"/>
<circle cx="603.20" cy="40.24" r="0.95" fill="#D9532F" fill-opacity="0.7"/>
<circle cx="603.26" cy="58.02" r="0.95" fill="#D9532F" fill-opacity="0.7"/>
<circle cx="602.55" cy="43.30" r="0.95" fill="#D9532F" fill-opacity="0.7"/>
<circle cx="603.06" cy="64.50" r="0.95" fill="#D9532F" fill-opacity="0.7"/>
<circle cx="603.50" cy="48.68" r="0.95" fill="#D9532F" fill-opacity="0.7"/>
<circle cx="603.07" cy="64.33" r="0.95" fill="#D9532F" fill-opacity="0.7"/>
<circle cx="603.02" cy="65.33" r="0.95" fill="#D9532F" fill-opacity="0.7"/>
<circle cx="603.39" cy="51.17" r="0.95" fill="#D9532F" fill-opacity="0.7"/>
<circle cx="602.47" cy="40.40" r="0.95" fill="#D9532F" fill-opacity="0.7"/>
<circle cx="603.23" cy="48.19" r="0.95" fill="#D9532F" fill-opacity="0.7"/>
<circle cx="603.63" cy="43.74" r="0.95" fill="#D9532F" fill-opacity="0.7"/>
<circle cx="603.00" cy="45.58" r="0.95" fill="#D9532F" fill-opacity="0.7"/>
<circle cx="602.80" cy="52.47" r="0.95" fill="#D9532F" fill-opacity="0.7"/>
<circle cx="603.28" cy="64.09" r="0.95" fill="#D9532F" fill-opacity="0.7"/>
<circle cx="602.93" cy="52.32" r="0.95" fill="#D9532F" fill-opacity="0.7"/>
<circle cx="602.80" cy="61.28" r="0.95" fill="#D9532F" fill-opacity="0.7"/>
<circle cx="603.15" cy="52.33" r="0.95" fill="#D9532F" fill-opacity="0.7"/>
<circle cx="602.50" cy="56.84" r="0.95" fill="#D9532F" fill-opacity="0.7"/>
<circle cx="603.33" cy="53.06" r="0.95" fill="#D9532F" fill-opacity="0.7"/>
<circle cx="602.67" cy="60.94" r="0.95" fill="#D9532F" fill-opacity="0.7"/>
<circle cx="602.90" cy="47.67" r="0.95" fill="#D9532F" fill-opacity="0.7"/>
<circle cx="603.35" cy="55.19" r="0.95" fill="#D9532F" fill-opacity="0.7"/>
<circle cx="603.08" cy="53.40" r="0.95" fill="#D9532F" fill-opacity="0.7"/>
<circle cx="603.18" cy="64.05" r="0.95" fill="#D9532F" fill-opacity="0.7"/>
<circle cx="603.58" cy="53.37" r="0.95" fill="#D9532F" fill-opacity="0.7"/>
<circle cx="603.63" cy="51.52" r="0.95" fill="#D9532F" fill-opacity="0.7"/>
<circle cx="603.83" cy="40.67" r="0.95" fill="#D9532F" fill-opacity="0.7"/>
<circle cx="602.90" cy="51.42" r="0.95" fill="#D9532F" fill-opacity="0.7"/>
<circle cx="603.42" cy="62.58" r="0.95" fill="#D9532F" fill-opacity="0.7"/>
<circle cx="602.50" cy="58.25" r="0.95" fill="#D9532F" fill-opacity="0.7"/>
<circle cx="603.38" cy="57.33" r="0.95" fill="#D9532F" fill-opacity="0.7"/>
<circle cx="603.55" cy="47.74" r="0.95" fill="#D9532F" fill-opacity="0.7"/>
<circle cx="602.83" cy="41.55" r="0.95" fill="#D9532F" fill-opacity="0.7"/>
<circle cx="603.26" cy="40.58" r="0.95" fill="#D9532F" fill-opacity="0.7"/>
<circle cx="603.39" cy="41.26" r="0.95" fill="#D9532F" fill-opacity="0.7"/>
<circle cx="603.03" cy="41.91" r="0.95" fill="#D9532F" fill-opacity="0.7"/>
<circle cx="602.86" cy="43.65" r="0.95" fill="#D9532F" fill-opacity="0.7"/>
<circle cx="603.63" cy="41.65" r="0.95" fill="#D9532F" fill-opacity="0.7"/>
<circle cx="602.62" cy="65.58" r="0.95" fill="#D9532F" fill-opacity="0.7"/>
<circle cx="603.15" cy="53.30" r="0.95" fill="#D9532F" fill-opacity="0.7"/>
<circle cx="603.43" cy="50.66" r="0.95" fill="#D9532F" fill-opacity="0.7"/>
<circle cx="603.17" cy="48.17" r="0.95" fill="#D9532F" fill-opacity="0.7"/>
<circle cx="603.65" cy="50.08" r="0.95" fill="#D9532F" fill-opacity="0.7"/>
<circle cx="603.62" cy="50.07" r="0.95" fill="#D9532F" fill-opacity="0.7"/>
<circle cx="603.26" cy="41.70" r="0.95" fill="#D9532F" fill-opacity="0.7"/>
<circle cx="603.72" cy="63.85" r="0.95" fill="#D9532F" fill-opacity="0.7"/>
<circle cx="603.36" cy="52.53" r="0.95" fill="#D9532F" fill-opacity="0.7"/>
<circle cx="602.65" cy="41.01" r="0.95" fill="#D9532F" fill-opacity="0.7"/>
<circle cx="602.98" cy="65.27" r="0.95" fill="#D9532F" fill-opacity="0.7"/>
<circle cx="603.19" cy="63.18" r="0.95" fill="#D9532F" fill-opacity="0.7"/>
<circle cx="603.16" cy="44.10" r="0.95" fill="#D9532F" fill-opacity="0.7"/>
<circle cx="602.49" cy="62.65" r="0.95" fill="#D9532F" fill-opacity="0.7"/>
<circle cx="603.91" cy="51.71" r="0.95" fill="#D9532F" fill-opacity="0.7"/>
<circle cx="602.54" cy="52.83" r="0.95" fill="#D9532F" fill-opacity="0.7"/>
<circle cx="602.69" cy="49.19" r="0.95" fill="#D9532F" fill-opacity="0.7"/>
<circle cx="603.25" cy="60.04" r="0.95" fill="#D9532F" fill-opacity="0.7"/>
<circle cx="603.16" cy="59.87" r="0.95" fill="#D9532F" fill-opacity="0.7"/>
<circle cx="603.64" cy="53.88" r="0.95" fill="#D9532F" fill-opacity="0.7"/>
<circle cx="603.17" cy="52.59" r="0.95" fill="#D9532F" fill-opacity="0.7"/>
<circle cx="603.22" cy="62.52" r="0.95" fill="#D9532F" fill-opacity="0.7"/>
<circle cx="603.35" cy="51.07" r="0.95" fill="#D9532F" fill-opacity="0.7"/>
<circle cx="602.83" cy="53.02" r="0.95" fill="#D9532F" fill-opacity="0.7"/>
<circle cx="602.63" cy="49.13" r="0.95" fill="#D9532F" fill-opacity="0.7"/>
<circle cx="602.93" cy="66.11" r="0.95" fill="#D9532F" fill-opacity="0.7"/>
<circle cx="603.45" cy="50.35" r="0.95" fill="#D9532F" fill-opacity="0.7"/>
<circle cx="602.99" cy="57.66" r="0.95" fill="#D9532F" fill-opacity="0.7"/>
<circle cx="603.54" cy="74.82" r="0.95" fill="#D9532F" fill-opacity="0.7"/>
<circle cx="615.40" cy="58.25" r="0.95" fill="#4589C8" fill-opacity="0.7"/>
<circle cx="615.86" cy="57.93" r="0.95" fill="#4589C8" fill-opacity="0.7"/>
<circle cx="615.60" cy="67.27" r="0.95" fill="#4589C8" fill-opacity="0.7"/>
<circle cx="615.89" cy="46.02" r="0.95" fill="#4589C8" fill-opacity="0.7"/>
<circle cx="615.60" cy="60.31" r="0.95" fill="#4589C8" fill-opacity="0.7"/>
<circle cx="615.66" cy="51.21" r="0.95" fill="#4589C8" fill-opacity="0.7"/>
<circle cx="615.43" cy="52.89" r="0.95" fill="#4589C8" fill-opacity="0.7"/>
<circle cx="616.04" cy="58.25" r="0.95" fill="#4589C8" fill-opacity="0.7"/>
<circle cx="615.58" cy="48.70" r="0.95" fill="#4589C8" fill-opacity="0.7"/>
<circle cx="615.77" cy="54.89" r="0.95" fill="#4589C8" fill-opacity="0.7"/>
<circle cx="615.82" cy="61.10" r="0.95" fill="#4589C8" fill-opacity="0.7"/>
<circle cx="615.28" cy="42.88" r="0.95" fill="#4589C8" fill-opacity="0.7"/>
<circle cx="615.30" cy="62.75" r="0.95" fill="#4589C8" fill-opacity="0.7"/>
<circle cx="615.58" cy="63.47" r="0.95" fill="#4589C8" fill-opacity="0.7"/>
<circle cx="616.04" cy="60.56" r="0.95" fill="#4589C8" fill-opacity="0.7"/>
<circle cx="615.22" cy="54.21" r="0.95" fill="#4589C8" fill-opacity="0.7"/>
<circle cx="615.23" cy="45.64" r="0.95" fill="#4589C8" fill-opacity="0.7"/>
<circle cx="615.24" cy="58.32" r="0.95" fill="#4589C8" fill-opacity="0.7"/>
<circle cx="615.45" cy="60.99" r="0.95" fill="#4589C8" fill-opacity="0.7"/>
<circle cx="615.21" cy="49.28" r="0.95" fill="#4589C8" fill-opacity="0.7"/>
<circle cx="615.30" cy="60.37" r="0.95" fill="#4589C8" fill-opacity="0.7"/>
<circle cx="615.78" cy="52.98" r="0.95" fill="#4589C8" fill-opacity="0.7"/>
<circle cx="615.21" cy="60.52" r="0.95" fill="#4589C8" fill-opacity="0.7"/>
<circle cx="615.59" cy="43.02" r="0.95" fill="#4589C8" fill-opacity="0.7"/>
<circle cx="615.18" cy="62.50" r="0.95" fill="#4589C8" fill-opacity="0.7"/>
<circle cx="615.52" cy="61.16" r="0.95" fill="#4589C8" fill-opacity="0.7"/>
<circle cx="615.78" cy="59.21" r="0.95" fill="#4589C8" fill-opacity="0.7"/>
<circle cx="614.88" cy="58.42" r="0.95" fill="#4589C8" fill-opacity="0.7"/>
<circle cx="615.61" cy="47.25" r="0.95" fill="#4589C8" fill-opacity="0.7"/>
<circle cx="615.67" cy="48.72" r="0.95" fill="#4589C8" fill-opacity="0.7"/>
<circle cx="615.57" cy="45.46" r="0.95" fill="#4589C8" fill-opacity="0.7"/>
<circle cx="615.68" cy="52.50" r="0.95" fill="#4589C8" fill-opacity="0.7"/>
<circle cx="615.74" cy="65.48" r="0.95" fill="#4589C8" fill-opacity="0.7"/>
<circle cx="615.13" cy="46.21" r="0.95" fill="#4589C8" fill-opacity="0.7"/>
<circle cx="615.55" cy="60.81" r="0.95" fill="#4589C8" fill-opacity="0.7"/>
<circle cx="615.82" cy="61.56" r="0.95" fill="#4589C8" fill-opacity="0.7"/>
<circle cx="616.05" cy="56.03" r="0.95" fill="#4589C8" fill-opacity="0.7"/>
<circle cx="615.11" cy="39.84" r="0.95" fill="#4589C8" fill-opacity="0.7"/>
<circle cx="615.38" cy="57.26" r="0.95" fill="#4589C8" fill-opacity="0.7"/>
<circle cx="615.11" cy="57.66" r="0.95" fill="#4589C8" fill-opacity="0.7"/>
<circle cx="615.59" cy="42.06" r="0.95" fill="#4589C8" fill-opacity="0.7"/>
<circle cx="615.21" cy="39.82" r="0.95" fill="#4589C8" fill-opacity="0.7"/>
<circle cx="615.25" cy="56.80" r="0.95" fill="#4589C8" fill-opacity="0.7"/>
<circle cx="615.87" cy="63.88" r="0.95" fill="#4589C8" fill-opacity="0.7"/>
<circle cx="616.39" cy="45.48" r="0.95" fill="#4589C8" fill-opacity="0.7"/>
<circle cx="614.86" cy="45.68" r="0.95" fill="#4589C8" fill-opacity="0.7"/>
<circle cx="616.18" cy="58.18" r="0.95" fill="#4589C8" fill-opacity="0.7"/>
<circle cx="615.27" cy="45.45" r="0.95" fill="#4589C8" fill-opacity="0.7"/>
<circle cx="615.84" cy="57.01" r="0.95" fill="#4589C8" fill-opacity="0.7"/>
<circle cx="615.72" cy="59.61" r="0.95" fill="#4589C8" fill-opacity="0.7"/>
<circle cx="616.03" cy="61.33" r="0.95" fill="#4589C8" fill-opacity="0.7"/>
<circle cx="615.52" cy="58.74" r="0.95" fill="#4589C8" fill-opacity="0.7"/>
<circle cx="615.30" cy="63.90" r="0.95" fill="#4589C8" fill-opacity="0.7"/>
<circle cx="615.57" cy="52.05" r="0.95" fill="#4589C8" fill-opacity="0.7"/>
<circle cx="615.87" cy="47.03" r="0.95" fill="#4589C8" fill-opacity="0.7"/>
<circle cx="615.28" cy="53.05" r="0.95" fill="#4589C8" fill-opacity="0.7"/>
<circle cx="615.74" cy="55.13" r="0.95" fill="#4589C8" fill-opacity="0.7"/>
<circle cx="615.59" cy="52.21" r="0.95" fill="#4589C8" fill-opacity="0.7"/>
<circle cx="615.66" cy="50.93" r="0.95" fill="#4589C8" fill-opacity="0.7"/>
<circle cx="615.60" cy="55.23" r="0.95" fill="#4589C8" fill-opacity="0.7"/>
<circle cx="615.81" cy="50.44" r="0.95" fill="#4589C8" fill-opacity="0.7"/>
<circle cx="615.88" cy="42.53" r="0.95" fill="#4589C8" fill-opacity="0.7"/>
<circle cx="615.49" cy="40.99" r="0.95" fill="#4589C8" fill-opacity="0.7"/>
<circle cx="615.47" cy="56.82" r="0.95" fill="#4589C8" fill-opacity="0.7"/>
<circle cx="614.83" cy="60.72" r="0.95" fill="#4589C8" fill-opacity="0.7"/>
<circle cx="615.28" cy="42.73" r="0.95" fill="#4589C8" fill-opacity="0.7"/>
<circle cx="615.05" cy="75.22" r="0.95" fill="#4589C8" fill-opacity="0.7"/>
<circle cx="618.73" cy="62.40" r="0.95" fill="#D9532F" fill-opacity="0.7"/>
<circle cx="618.11" cy="47.42" r="0.95" fill="#D9532F" fill-opacity="0.7"/>
<circle cx="618.25" cy="41.38" r="0.95" fill="#D9532F" fill-opacity="0.7"/>
<circle cx="618.68" cy="61.07" r="0.95" fill="#D9532F" fill-opacity="0.7"/>
<circle cx="618.85" cy="62.56" r="0.95" fill="#D9532F" fill-opacity="0.7"/>
<circle cx="618.92" cy="48.37" r="0.95" fill="#D9532F" fill-opacity="0.7"/>
<circle cx="618.19" cy="43.02" r="0.95" fill="#D9532F" fill-opacity="0.7"/>
<circle cx="618.58" cy="47.11" r="0.95" fill="#D9532F" fill-opacity="0.7"/>
<circle cx="618.87" cy="41.28" r="0.95" fill="#D9532F" fill-opacity="0.7"/>
<circle cx="618.19" cy="54.24" r="0.95" fill="#D9532F" fill-opacity="0.7"/>
<circle cx="618.41" cy="56.37" r="0.95" fill="#D9532F" fill-opacity="0.7"/>
<circle cx="618.06" cy="62.96" r="0.95" fill="#D9532F" fill-opacity="0.7"/>
<circle cx="618.27" cy="58.97" r="0.95" fill="#D9532F" fill-opacity="0.7"/>
<circle cx="618.75" cy="41.55" r="0.95" fill="#D9532F" fill-opacity="0.7"/>
<circle cx="618.53" cy="64.23" r="0.95" fill="#D9532F" fill-opacity="0.7"/>
<circle cx="618.37" cy="61.27" r="0.95" fill="#D9532F" fill-opacity="0.7"/>
<circle cx="618.30" cy="57.02" r="0.95" fill="#D9532F" fill-opacity="0.7"/>
<circle cx="619.03" cy="64.82" r="0.95" fill="#D9532F" fill-opacity="0.7"/>
<circle cx="618.76" cy="58.08" r="0.95" fill="#D9532F" fill-opacity="0.7"/>
<circle cx="618.06" cy="61.32" r="0.95" fill="#D9532F" fill-opacity="0.7"/>
<circle cx="619.26" cy="62.89" r="0.95" fill="#D9532F" fill-opacity="0.7"/>
<circle cx="618.35" cy="52.33" r="0.95" fill="#D9532F" fill-opacity="0.7"/>
<circle cx="618.44" cy="51.97" r="0.95" fill="#D9532F" fill-opacity="0.7"/>
<circle cx="618.32" cy="51.26" r="0.95" fill="#D9532F" fill-opacity="0.7"/>
<circle cx="618.29" cy="46.17" r="0.95" fill="#D9532F" fill-opacity="0.7"/>
<circle cx="618.72" cy="52.33" r="0.95" fill="#D9532F" fill-opacity="0.7"/>
<circle cx="617.98" cy="41.34" r="0.95" fill="#D9532F" fill-opacity="0.7"/>
<circle cx="618.51" cy="63.97" r="0.95" fill="#D9532F" fill-opacity="0.7"/>
<circle cx="618.38" cy="60.27" r="0.95" fill="#D9532F" fill-opacity="0.7"/>
<circle cx="619.11" cy="64.10" r="0.95" fill="#D9532F" fill-opacity="0.7"/>
<circle cx="618.63" cy="58.01" r="0.95" fill="#D9532F" fill-opacity="0.7"/>
<circle cx="618.65" cy="46.21" r="0.95" fill="#D9532F" fill-opacity="0.7"/>
<circle cx="618.68" cy="41.94" r="0.95" fill="#D9532F" fill-opacity="0.7"/>
<circle cx="618.71" cy="52.93" r="0.95" fill="#D9532F" fill-opacity="0.7"/>
<circle cx="618.54" cy="61.91" r="0.95" fill="#D9532F" fill-opacity="0.7"/>
<circle cx="617.63" cy="57.46" r="0.95" fill="#D9532F" fill-opacity="0.7"/>
<circle cx="618.65" cy="51.24" r="0.95" fill="#D9532F" fill-opacity="0.7"/>
<circle cx="618.38" cy="58.40" r="0.95" fill="#D9532F" fill-opacity="0.7"/>
<circle cx="618.74" cy="45.37" r="0.95" fill="#D9532F" fill-opacity="0.7"/>
<circle cx="618.61" cy="40.67" r="0.95" fill="#D9532F" fill-opacity="0.7"/>
<circle cx="618.30" cy="54.08" r="0.95" fill="#D9532F" fill-opacity="0.7"/>
<circle cx="618.18" cy="50.33" r="0.95" fill="#D9532F" fill-opacity="0.7"/>
<circle cx="618.14" cy="43.98" r="0.95" fill="#D9532F" fill-opacity="0.7"/>
<circle cx="618.60" cy="53.94" r="0.95" fill="#D9532F" fill-opacity="0.7"/>
<circle cx="618.46" cy="61.12" r="0.95" fill="#D9532F" fill-opacity="0.7"/>
<circle cx="618.18" cy="41.42" r="0.95" fill="#D9532F" fill-opacity="0.7"/>
<circle cx="618.37" cy="40.53" r="0.95" fill="#D9532F" fill-opacity="0.7"/>
<circle cx="618.62" cy="65.47" r="0.95" fill="#D9532F" fill-opacity="0.7"/>
<circle cx="618.26" cy="46.16" r="0.95" fill="#D9532F" fill-opacity="0.7"/>
<circle cx="618.45" cy="55.63" r="0.95" fill="#D9532F" fill-opacity="0.7"/>
<circle cx="618.28" cy="50.07" r="0.95" fill="#D9532F" fill-opacity="0.7"/>
<circle cx="617.58" cy="52.03" r="0.95" fill="#D9532F" fill-opacity="0.7"/>
<circle cx="618.53" cy="49.06" r="0.95" fill="#D9532F" fill-opacity="0.7"/>
<circle cx="618.52" cy="45.47" r="0.95" fill="#D9532F" fill-opacity="0.7"/>
<circle cx="618.78" cy="52.78" r="0.95" fill="#D9532F" fill-opacity="0.7"/>
<circle cx="618.96" cy="52.02" r="0.95" fill="#D9532F" fill-opacity="0.7"/>
<circle cx="618.24" cy="51.26" r="0.95" fill="#D9532F" fill-opacity="0.7"/>
<circle cx="618.71" cy="43.83" r="0.95" fill="#D9532F" fill-opacity="0.7"/>
<circle cx="618.59" cy="60.64" r="0.95" fill="#D9532F" fill-opacity="0.7"/>
<circle cx="618.52" cy="52.99" r="0.95" fill="#D9532F" fill-opacity="0.7"/>
<circle cx="618.79" cy="56.27" r="0.95" fill="#D9532F" fill-opacity="0.7"/>
<circle cx="618.80" cy="52.31" r="0.95" fill="#D9532F" fill-opacity="0.7"/>
<circle cx="618.05" cy="48.59" r="0.95" fill="#D9532F" fill-opacity="0.7"/>
<circle cx="619.02" cy="52.60" r="0.95" fill="#D9532F" fill-opacity="0.7"/>
<circle cx="618.43" cy="49.10" r="0.95" fill="#D9532F" fill-opacity="0.7"/>
<circle cx="618.26" cy="51.98" r="0.95" fill="#D9532F" fill-opacity="0.7"/>
<circle cx="618.25" cy="74.82" r="0.95" fill="#D9532F" fill-opacity="0.7"/>
<circle cx="631.22" cy="50.28" r="0.95" fill="#4589C8" fill-opacity="0.7"/>
<circle cx="630.90" cy="57.30" r="0.95" fill="#4589C8" fill-opacity="0.7"/>
<circle cx="631.68" cy="54.38" r="0.95" fill="#4589C8" fill-opacity="0.7"/>
<circle cx="631.45" cy="50.14" r="0.95" fill="#4589C8" fill-opacity="0.7"/>
<circle cx="630.98" cy="58.77" r="0.95" fill="#4589C8" fill-opacity="0.7"/>
<circle cx="631.59" cy="57.66" r="0.95" fill="#4589C8" fill-opacity="0.7"/>
<circle cx="631.38" cy="42.82" r="0.95" fill="#4589C8" fill-opacity="0.7"/>
<circle cx="631.33" cy="51.35" r="0.95" fill="#4589C8" fill-opacity="0.7"/>
<circle cx="631.64" cy="55.96" r="0.95" fill="#4589C8" fill-opacity="0.7"/>
<circle cx="631.26" cy="52.49" r="0.95" fill="#4589C8" fill-opacity="0.7"/>
<circle cx="631.20" cy="54.74" r="0.95" fill="#4589C8" fill-opacity="0.7"/>
<circle cx="631.47" cy="58.34" r="0.95" fill="#4589C8" fill-opacity="0.7"/>
<circle cx="630.65" cy="41.98" r="0.95" fill="#4589C8" fill-opacity="0.7"/>
<circle cx="630.87" cy="61.13" r="0.95" fill="#4589C8" fill-opacity="0.7"/>
<circle cx="631.47" cy="41.36" r="0.95" fill="#4589C8" fill-opacity="0.7"/>
<circle cx="631.67" cy="43.69" r="0.95" fill="#4589C8" fill-opacity="0.7"/>
<circle cx="630.70" cy="42.88" r="0.95" fill="#4589C8" fill-opacity="0.7"/>
<circle cx="631.30" cy="63.11" r="0.95" fill="#4589C8" fill-opacity="0.7"/>
<circle cx="631.06" cy="53.37" r="0.95" fill="#4589C8" fill-opacity="0.7"/>
<circle cx="631.20" cy="39.99" r="0.95" fill="#4589C8" fill-opacity="0.7"/>
<circle cx="631.51" cy="59.57" r="0.95" fill="#4589C8" fill-opacity="0.7"/>
<circle cx="631.82" cy="62.88" r="0.95" fill="#4589C8" fill-opacity="0.7"/>
<circle cx="631.92" cy="47.34" r="0.95" fill="#4589C8" fill-opacity="0.7"/>
<circle cx="631.63" cy="61.08" r="0.95" fill="#4589C8" fill-opacity="0.7"/>
<circle cx="631.52" cy="51.27" r="0.95" fill="#4589C8" fill-opacity="0.7"/>
<circle cx="631.35" cy="63.26" r="0.95" fill="#4589C8" fill-opacity="0.7"/>
<circle cx="630.64" cy="41.03" r="0.95" fill="#4589C8" fill-opacity="0.7"/>
<circle cx="631.44" cy="59.70" r="0.95" fill="#4589C8" fill-opacity="0.7"/>
<circle cx="630.88" cy="64.96" r="0.95" fill="#4589C8" fill-opacity="0.7"/>
<circle cx="630.90" cy="48.35" r="0.95" fill="#4589C8" fill-opacity="0.7"/>
<circle cx="631.34" cy="57.92" r="0.95" fill="#4589C8" fill-opacity="0.7"/>
<circle cx="630.74" cy="51.95" r="0.95" fill="#4589C8" fill-opacity="0.7"/>
<circle cx="631.92" cy="53.70" r="0.95" fill="#4589C8" fill-opacity="0.7"/>
<circle cx="631.51" cy="41.73" r="0.95" fill="#4589C8" fill-opacity="0.7"/>
<circle cx="631.42" cy="53.22" r="0.95" fill="#4589C8" fill-opacity="0.7"/>
<circle cx="631.47" cy="57.03" r="0.95" fill="#4589C8" fill-opacity="0.7"/>
<circle cx="631.38" cy="67.64" r="0.95" fill="#4589C8" fill-opacity="0.7"/>
<circle cx="631.32" cy="53.72" r="0.95" fill="#4589C8" fill-opacity="0.7"/>
<circle cx="631.55" cy="60.12" r="0.95" fill="#4589C8" fill-opacity="0.7"/>
<circle cx="631.06" cy="51.54" r="0.95" fill="#4589C8" fill-opacity="0.7"/>
<circle cx="631.39" cy="49.91" r="0.95" fill="#4589C8" fill-opacity="0.7"/>
<circle cx="631.36" cy="54.69" r="0.95" fill="#4589C8" fill-opacity="0.7"/>
<circle cx="631.57" cy="65.16" r="0.95" fill="#4589C8" fill-opacity="0.7"/>
<circle cx="630.91" cy="53.69" r="0.95" fill="#4589C8" fill-opacity="0.7"/>
<circle cx="631.38" cy="54.14" r="0.95" fill="#4589C8" fill-opacity="0.7"/>
<circle cx="631.25" cy="49.65" r="0.95" fill="#4589C8" fill-opacity="0.7"/>
<circle cx="631.52" cy="40.40" r="0.95" fill="#4589C8" fill-opacity="0.7"/>
<circle cx="631.49" cy="59.81" r="0.95" fill="#4589C8" fill-opacity="0.7"/>
<circle cx="631.36" cy="55.23" r="0.95" fill="#4589C8" fill-opacity="0.7"/>
<circle cx="631.46" cy="65.31" r="0.95" fill="#4589C8" fill-opacity="0.7"/>
<circle cx="631.45" cy="52.35" r="0.95" fill="#4589C8" fill-opacity="0.7"/>
<circle cx="631.78" cy="57.54" r="0.95" fill="#4589C8" fill-opacity="0.7"/>
<circle cx="631.40" cy="48.83" r="0.95" fill="#4589C8" fill-opacity="0.7"/>
<circle cx="631.49" cy="62.47" r="0.95" fill="#4589C8" fill-opacity="0.7"/>
<circle cx="630.97" cy="53.98" r="0.95" fill="#4589C8" fill-opacity="0.7"/>
<circle cx="631.22" cy="41.48" r="0.95" fill="#4589C8" fill-opacity="0.7"/>
<circle cx="631.57" cy="59.55" r="0.95" fill="#4589C8" fill-opacity="0.7"/>
<circle cx="631.67" cy="53.77" r="0.95" fill="#4589C8" fill-opacity="0.7"/>
<circle cx="630.95" cy="66.40" r="0.95" fill="#4589C8" fill-opacity="0.7"/>
<circle cx="631.28" cy="58.24" r="0.95" fill="#4589C8" fill-opacity="0.7"/>
<circle cx="631.20" cy="60.07" r="0.95" fill="#4589C8" fill-opacity="0.7"/>
<circle cx="631.32" cy="53.21" r="0.95" fill="#4589C8" fill-opacity="0.7"/>
<circle cx="631.13" cy="56.35" r="0.95" fill="#4589C8" fill-opacity="0.7"/>
<circle cx="631.15" cy="43.18" r="0.95" fill="#4589C8" fill-opacity="0.7"/>
<circle cx="631.28" cy="58.77" r="0.95" fill="#4589C8" fill-opacity="0.7"/>
<circle cx="631.34" cy="53.72" r="0.95" fill="#4589C8" fill-opacity="0.7"/>
<circle cx="631.65" cy="75.22" r="0.95" fill="#4589C8" fill-opacity="0.7"/>
<circle cx="634.20" cy="60.97" r="0.95" fill="#D9532F" fill-opacity="0.7"/>
<circle cx="634.16" cy="60.48" r="0.95" fill="#D9532F" fill-opacity="0.7"/>
<circle cx="634.77" cy="44.29" r="0.95" fill="#D9532F" fill-opacity="0.7"/>
<circle cx="634.67" cy="45.09" r="0.95" fill="#D9532F" fill-opacity="0.7"/>
<circle cx="634.43" cy="40.51" r="0.95" fill="#D9532F" fill-opacity="0.7"/>
<circle cx="634.09" cy="42.12" r="0.95" fill="#D9532F" fill-opacity="0.7"/>
<circle cx="634.87" cy="48.19" r="0.95" fill="#D9532F" fill-opacity="0.7"/>
<circle cx="634.12" cy="45.25" r="0.95" fill="#D9532F" fill-opacity="0.7"/>
<circle cx="634.89" cy="47.49" r="0.95" fill="#D9532F" fill-opacity="0.7"/>
<circle cx="634.58" cy="44.93" r="0.95" fill="#D9532F" fill-opacity="0.7"/>
<circle cx="634.44" cy="45.15" r="0.95" fill="#D9532F" fill-opacity="0.7"/>
<circle cx="634.44" cy="61.50" r="0.95" fill="#D9532F" fill-opacity="0.7"/>
<circle cx="634.78" cy="44.80" r="0.95" fill="#D9532F" fill-opacity="0.7"/>
<circle cx="634.50" cy="58.17" r="0.95" fill="#D9532F" fill-opacity="0.7"/>
<circle cx="633.89" cy="59.72" r="0.95" fill="#D9532F" fill-opacity="0.7"/>
<circle cx="634.25" cy="42.06" r="0.95" fill="#D9532F" fill-opacity="0.7"/>
<circle cx="633.74" cy="65.51" r="0.95" fill="#D9532F" fill-opacity="0.7"/>
<circle cx="634.64" cy="52.72" r="0.95" fill="#D9532F" fill-opacity="0.7"/>
<circle cx="634.82" cy="57.13" r="0.95" fill="#D9532F" fill-opacity="0.7"/>
<circle cx="634.86" cy="45.40" r="0.95" fill="#D9532F" fill-opacity="0.7"/>
<circle cx="634.02" cy="50.14" r="0.95" fill="#D9532F" fill-opacity="0.7"/>
<circle cx="635.24" cy="42.28" r="0.95" fill="#D9532F" fill-opacity="0.7"/>
<circle cx="635.14" cy="41.72" r="0.95" fill="#D9532F" fill-opacity="0.7"/>
<circle cx="634.46" cy="49.26" r="0.95" fill="#D9532F" fill-opacity="0.7"/>
<circle cx="633.80" cy="64.42" r="0.95" fill="#D9532F" fill-opacity="0.7"/>
<circle cx="634.19" cy="48.66" r="0.95" fill="#D9532F" fill-opacity="0.7"/>
<circle cx="634.86" cy="63.24" r="0.95" fill="#D9532F" fill-opacity="0.7"/>
<circle cx="635.22" cy="40.42" r="0.95" fill="#D9532F" fill-opacity="0.7"/>
<circle cx="634.31" cy="43.32" r="0.95" fill="#D9532F" fill-opacity="0.7"/>
<circle cx="633.85" cy="57.98" r="0.95" fill="#D9532F" fill-opacity="0.7"/>
<circle cx="634.16" cy="61.24" r="0.95" fill="#D9532F" fill-opacity="0.7"/>
<circle cx="635.17" cy="47.95" r="0.95" fill="#D9532F" fill-opacity="0.7"/>
<circle cx="634.50" cy="46.28" r="0.95" fill="#D9532F" fill-opacity="0.7"/>
<circle cx="634.00" cy="40.34" r="0.95" fill="#D9532F" fill-opacity="0.7"/>
<circle cx="633.76" cy="49.81" r="0.95" fill="#D9532F" fill-opacity="0.7"/>
<circle cx="634.72" cy="62.83" r="0.95" fill="#D9532F" fill-opacity="0.7"/>
<circle cx="634.78" cy="47.10" r="0.95" fill="#D9532F" fill-opacity="0.7"/>
<circle cx="634.33" cy="64.57" r="0.95" fill="#D9532F" fill-opacity="0.7"/>
<circle cx="634.43" cy="43.41" r="0.95" fill="#D9532F" fill-opacity="0.7"/>
<circle cx="634.52" cy="46.00" r="0.95" fill="#D9532F" fill-opacity="0.7"/>
<circle cx="634.38" cy="45.57" r="0.95" fill="#D9532F" fill-opacity="0.7"/>
<circle cx="634.30" cy="43.26" r="0.95" fill="#D9532F" fill-opacity="0.7"/>
<circle cx="634.29" cy="51.22" r="0.95" fill="#D9532F" fill-opacity="0.7"/>
<circle cx="634.29" cy="41.43" r="0.95" fill="#D9532F" fill-opacity="0.7"/>
<circle cx="634.93" cy="49.39" r="0.95" fill="#D9532F" fill-opacity="0.7"/>
<circle cx="634.64" cy="53.24" r="0.95" fill="#D9532F" fill-opacity="0.7"/>
<circle cx="634.86" cy="56.05" r="0.95" fill="#D9532F" fill-opacity="0.7"/>
<circle cx="635.14" cy="56.86" r="0.95" fill="#D9532F" fill-opacity="0.7"/>
<circle cx="633.69" cy="65.51" r="0.95" fill="#D9532F" fill-opacity="0.7"/>
<circle cx="634.47" cy="61.89" r="0.95" fill="#D9532F" fill-opacity="0.7"/>
<circle cx="634.83" cy="51.96" r="0.95" fill="#D9532F" fill-opacity="0.7"/>
<circle cx="634.42" cy="56.64" r="0.95" fill="#D9532F" fill-opacity="0.7"/>
<circle cx="634.29" cy="58.17" r="0.95" fill="#D9532F" fill-opacity="0.7"/>
<circle cx="634.64" cy="60.46" r="0.95" fill="#D9532F" fill-opacity="0.7"/>
<circle cx="634.31" cy="55.18" r="0.95" fill="#D9532F" fill-opacity="0.7"/>
<circle cx="634.20" cy="58.95" r="0.95" fill="#D9532F" fill-opacity="0.7"/>
<circle cx="634.39" cy="54.71" r="0.95" fill="#D9532F" fill-opacity="0.7"/>
<circle cx="634.52" cy="49.21" r="0.95" fill="#D9532F" fill-opacity="0.7"/>
<circle cx="634.50" cy="50.13" r="0.95" fill="#D9532F" fill-opacity="0.7"/>
<circle cx="634.81" cy="46.05" r="0.95" fill="#D9532F" fill-opacity="0.7"/>
<circle cx="634.50" cy="57.90" r="0.95" fill="#D9532F" fill-opacity="0.7"/>
<circle cx="634.33" cy="64.53" r="0.95" fill="#D9532F" fill-opacity="0.7"/>
<circle cx="635.57" cy="58.83" r="0.95" fill="#D9532F" fill-opacity="0.7"/>
<circle cx="634.42" cy="42.56" r="0.95" fill="#D9532F" fill-opacity="0.7"/>
<circle cx="634.40" cy="49.35" r="0.95" fill="#D9532F" fill-opacity="0.7"/>
<circle cx="634.45" cy="55.32" r="0.95" fill="#D9532F" fill-opacity="0.7"/>
<circle cx="634.25" cy="74.82" r="0.95" fill="#D9532F" fill-opacity="0.7"/>
<line x1="579.50" y1="38.20" x2="579.50" y2="77.90" stroke="#505050" stroke-width="0.95"/>
<line x1="579.10" y1="77.50" x2="638.60" y2="77.50" stroke="#505050" stroke-width="0.95"/>
<line x1="577.70" y1="77.20" x2="579.50" y2="77.20" stroke="#505050" stroke-width="0.8"/>
<text x="575.90" y="80.17" font-size="8.60" text-anchor="end" fill="#606060">6</text>
<line x1="577.70" y1="69.28" x2="579.50" y2="69.28" stroke="#505050" stroke-width="0.8"/>
<text x="575.90" y="72.24" font-size="8.60" text-anchor="end" fill="#606060">8</text>
<line x1="577.70" y1="61.35" x2="579.50" y2="61.35" stroke="#505050" stroke-width="0.8"/>
<text x="575.90" y="64.32" font-size="8.60" text-anchor="end" fill="#606060">10</text>
<line x1="577.70" y1="53.42" x2="579.50" y2="53.42" stroke="#505050" stroke-width="0.8"/>
<text x="575.90" y="56.39" font-size="8.60" text-anchor="end" fill="#606060">12</text>
<line x1="577.70" y1="45.50" x2="579.50" y2="45.50" stroke="#505050" stroke-width="0.8"/>
<text x="575.90" y="48.47" font-size="8.60" text-anchor="end" fill="#606060">14</text>
<line x1="585.70" y1="77.50" x2="585.70" y2="79.30" stroke="#505050" stroke-width="0.8"/>
<text x="585.70" y="86.93" font-size="8.60" text-anchor="middle" fill="#606060">2</text>
<line x1="601.20" y1="77.50" x2="601.20" y2="79.30" stroke="#505050" stroke-width="0.8"/>
<text x="601.20" y="86.93" font-size="8.60" text-anchor="middle" fill="#606060">3</text>
<line x1="616.90" y1="77.50" x2="616.90" y2="79.30" stroke="#505050" stroke-width="0.8"/>
<text x="616.90" y="86.93" font-size="8.60" text-anchor="middle" fill="#606060">4</text>
<line x1="632.70" y1="77.50" x2="632.70" y2="79.30" stroke="#505050" stroke-width="0.8"/>
<text x="632.70" y="86.93" font-size="8.60" text-anchor="middle" fill="#606060">5</text>
<line x1="64.00" y1="235.00" x2="64.00" y2="357.00" stroke="#363636" stroke-width="1.0"/>
<line x1="63.50" y1="356.50" x2="215.50" y2="356.50" stroke="#363636" stroke-width="1.0"/>
<line x1="61.80" y1="350.70" x2="64.00" y2="350.70" stroke="#363636" stroke-width="1.0"/>
<text x="59.80" y="354.60" font-size="11.30" text-anchor="end" fill="#4D4D4D">14.5</text>
<line x1="61.80" y1="326.67" x2="64.00" y2="326.67" stroke="#363636" stroke-width="1.0"/>
<text x="59.80" y="330.57" font-size="11.30" text-anchor="end" fill="#4D4D4D">15.0</text>
<line x1="61.80" y1="302.65" x2="64.00" y2="302.65" stroke="#363636" stroke-width="1.0"/>
<text x="59.80" y="306.55" font-size="11.30" text-anchor="end" fill="#4D4D4D">15.5</text>
<line x1="61.80" y1="278.62" x2="64.00" y2="278.62" stroke="#363636" stroke-width="1.0"/>
<text x="59.80" y="282.52" font-size="11.30" text-anchor="end" fill="#4D4D4D">16.0</text>
<line x1="61.80" y1="254.60" x2="64.00" y2="254.60" stroke="#363636" stroke-width="1.0"/>
<text x="59.80" y="258.50" font-size="11.30" text-anchor="end" fill="#4D4D4D">16.5</text>
<line x1="85.40" y1="356.50" x2="85.40" y2="358.70" stroke="#363636" stroke-width="1.0"/>
<text x="85.40" y="367.80" font-size="11.30" text-anchor="middle" fill="#4D4D4D">2</text>
<line x1="121.65" y1="356.50" x2="121.65" y2="358.70" stroke="#363636" stroke-width="1.0"/>
<text x="121.65" y="367.80" font-size="11.30" text-anchor="middle" fill="#4D4D4D">3</text>
<line x1="157.90" y1="356.50" x2="157.90" y2="358.70" stroke="#363636" stroke-width="1.0"/>
<text x="157.90" y="367.80" font-size="11.30" text-anchor="middle" fill="#4D4D4D">4</text>
<line x1="194.15" y1="356.50" x2="194.15" y2="358.70" stroke="#363636" stroke-width="1.0"/>
<text x="194.15" y="367.80" font-size="11.30" text-anchor="middle" fill="#4D4D4D">5</text>
<path d="M82.30,313.50 L117.90,314.50 L154.10,316.60 L190.50,317.40" fill="none" stroke="#3B7DBE" stroke-width="1.15"/>
<line x1="82.30" y1="302.90" x2="82.30" y2="324.60" stroke="#3B7DBE" stroke-width="1.35"/>
<line x1="80.20" y1="302.90" x2="84.40" y2="302.90" stroke="#3B7DBE" stroke-width="1.35"/>
<line x1="80.20" y1="324.60" x2="84.40" y2="324.60" stroke="#3B7DBE" stroke-width="1.35"/>
<circle cx="82.30" cy="313.50" r="2.7" fill="#3B7DBE"/>
<line x1="117.90" y1="303.50" x2="117.90" y2="325.10" stroke="#3B7DBE" stroke-width="1.35"/>
<line x1="115.80" y1="303.50" x2="120.00" y2="303.50" stroke="#3B7DBE" stroke-width="1.35"/>
<line x1="115.80" y1="325.10" x2="120.00" y2="325.10" stroke="#3B7DBE" stroke-width="1.35"/>
<circle cx="117.90" cy="314.50" r="2.7" fill="#3B7DBE"/>
<line x1="154.10" y1="304.80" x2="154.10" y2="327.20" stroke="#3B7DBE" stroke-width="1.35"/>
<line x1="152.00" y1="304.80" x2="156.20" y2="304.80" stroke="#3B7DBE" stroke-width="1.35"/>
<line x1="152.00" y1="327.20" x2="156.20" y2="327.20" stroke="#3B7DBE" stroke-width="1.35"/>
<circle cx="154.10" cy="316.60" r="2.7" fill="#3B7DBE"/>
<line x1="190.50" y1="305.60" x2="190.50" y2="327.20" stroke="#3B7DBE" stroke-width="1.35"/>
<line x1="188.40" y1="305.60" x2="192.60" y2="305.60" stroke="#3B7DBE" stroke-width="1.35"/>
<line x1="188.40" y1="327.20" x2="192.60" y2="327.20" stroke="#3B7DBE" stroke-width="1.35"/>
<circle cx="190.50" cy="317.40" r="2.7" fill="#3B7DBE"/>
<path d="M89.20,316.10 L125.30,323.20 L161.40,326.40 L197.60,325.90" fill="none" stroke="#D1472A" stroke-width="1.15"/>
<line x1="89.20" y1="303.50" x2="89.20" y2="328.00" stroke="#D1472A" stroke-width="1.35"/>
<line x1="87.10" y1="303.50" x2="91.30" y2="303.50" stroke="#D1472A" stroke-width="1.35"/>
<line x1="87.10" y1="328.00" x2="91.30" y2="328.00" stroke="#D1472A" stroke-width="1.35"/>
<circle cx="89.20" cy="316.10" r="2.7" fill="#D1472A"/>
<line x1="125.30" y1="311.40" x2="125.30" y2="335.10" stroke="#D1472A" stroke-width="1.35"/>
<line x1="123.20" y1="311.40" x2="127.40" y2="311.40" stroke="#D1472A" stroke-width="1.35"/>
<line x1="123.20" y1="335.10" x2="127.40" y2="335.10" stroke="#D1472A" stroke-width="1.35"/>
<circle cx="125.30" cy="323.20" r="2.7" fill="#D1472A"/>
<line x1="161.40" y1="314.50" x2="161.40" y2="338.50" stroke="#D1472A" stroke-width="1.35"/>
<line x1="159.30" y1="314.50" x2="163.50" y2="314.50" stroke="#D1472A" stroke-width="1.35"/>
<line x1="159.30" y1="338.50" x2="163.50" y2="338.50" stroke="#D1472A" stroke-width="1.35"/>
<circle cx="161.40" cy="326.40" r="2.7" fill="#D1472A"/>
<line x1="197.60" y1="314.00" x2="197.60" y2="338.30" stroke="#D1472A" stroke-width="1.35"/>
<line x1="195.50" y1="314.00" x2="199.70" y2="314.00" stroke="#D1472A" stroke-width="1.35"/>
<line x1="195.50" y1="338.30" x2="199.70" y2="338.30" stroke="#D1472A" stroke-width="1.35"/>
<circle cx="197.60" cy="325.90" r="2.7" fill="#D1472A"/>
<rect x="101.30" y="235.20" width="77.70" height="56.40" fill="#F2F2F2"/>
<circle cx="125.01" cy="263.59" r="0.95" fill="#4589C8" fill-opacity="0.7"/>
<circle cx="125.63" cy="259.25" r="0.95" fill="#4589C8" fill-opacity="0.7"/>
<circle cx="125.25" cy="256.83" r="0.95" fill="#4589C8" fill-opacity="0.7"/>
<circle cx="125.30" cy="255.42" r="0.95" fill="#4589C8" fill-opacity="0.7"/>
<circle cx="125.80" cy="264.68" r="0.95" fill="#4589C8" fill-opacity="0.7"/>
<circle cx="125.48" cy="266.54" r="0.95" fill="#4589C8" fill-opacity="0.7"/>
<circle cx="125.65" cy="265.10" r="0.95" fill="#4589C8" fill-opacity="0.7"/>
<circle cx="125.52" cy="266.63" r="0.95" fill="#4589C8" fill-opacity="0.7"/>
<circle cx="125.64" cy="258.91" r="0.95" fill="#4589C8" fill-opacity="0.7"/>
<circle cx="126.05" cy="263.92" r="0.95" fill="#4589C8" fill-opacity="0.7"/>
<circle cx="125.56" cy="259.92" r="0.95" fill="#4589C8" fill-opacity="0.7"/>
<circle cx="125.41" cy="269.52" r="0.95" fill="#4589C8" fill-opacity="0.7"/>
<circle cx="125.52" cy="258.16" r="0.95" fill="#4589C8" fill-opacity="0.7"/>
<circle cx="125.76" cy="254.85" r="0.95" fill="#4589C8" fill-opacity="0.7"/>
<circle cx="125.67" cy="268.60" r="0.95" fill="#4589C8" fill-opacity="0.7"/>
<circle cx="124.77" cy="261.16" r="0.95" fill="#4589C8" fill-opacity="0.7"/>
<circle cx="125.49" cy="269.34" r="0.95" fill="#4589C8" fill-opacity="0.7"/>
<circle cx="125.66" cy="271.62" r="0.95" fill="#4589C8" fill-opacity="0.7"/>
<circle cx="126.41" cy="264.81" r="0.95" fill="#4589C8" fill-opacity="0.7"/>
<circle cx="125.31" cy="268.96" r="0.95" fill="#4589C8" fill-opacity="0.7"/>
<circle cx="125.42" cy="259.10" r="0.95" fill="#4589C8" fill-opacity="0.7"/>
<circle cx="125.11" cy="261.95" r="0.95" fill="#4589C8" fill-opacity="0.7"/>
<circle cx="125.49" cy="260.11" r="0.95" fill="#4589C8" fill-opacity="0.7"/>
<circle cx="124.90" cy="254.83" r="0.95" fill="#4589C8" fill-opacity="0.7"/>
<circle cx="125.22" cy="271.21" r="0.95" fill="#4589C8" fill-opacity="0.7"/>
<circle cx="125.48" cy="270.49" r="0.95" fill="#4589C8" fill-opacity="0.7"/>
<circle cx="124.99" cy="271.62" r="0.95" fill="#4589C8" fill-opacity="0.7"/>
<circle cx="125.42" cy="263.99" r="0.95" fill="#4589C8" fill-opacity="0.7"/>
<circle cx="125.28" cy="257.41" r="0.95" fill="#4589C8" fill-opacity="0.7"/>
<circle cx="125.95" cy="259.95" r="0.95" fill="#4589C8" fill-opacity="0.7"/>
<circle cx="126.06" cy="262.40" r="0.95" fill="#4589C8" fill-opacity="0.7"/>
<circle cx="126.24" cy="256.84" r="0.95" fill="#4589C8" fill-opacity="0.7"/>
<circle cx="125.56" cy="265.56" r="0.95" fill="#4589C8" fill-opacity="0.7"/>
<circle cx="125.74" cy="270.23" r="0.95" fill="#4589C8" fill-opacity="0.7"/>
<circle cx="126.33" cy="260.71" r="0.95" fill="#4589C8" fill-opacity="0.7"/>
<circle cx="125.29" cy="271.80" r="0.95" fill="#4589C8" fill-opacity="0.7"/>
<circle cx="126.10" cy="268.13" r="0.95" fill="#4589C8" fill-opacity="0.7"/>
<circle cx="125.20" cy="271.72" r="0.95" fill="#4589C8" fill-opacity="0.7"/>
<circle cx="125.88" cy="269.35" r="0.95" fill="#4589C8" fill-opacity="0.7"/>
<circle cx="124.97" cy="271.11" r="0.95" fill="#4589C8" fill-opacity="0.7"/>
<circle cx="125.37" cy="262.69" r="0.95" fill="#4589C8" fill-opacity="0.7"/>
<circle cx="125.44" cy="269.95" r="0.95" fill="#4589C8" fill-opacity="0.7"/>
<circle cx="125.42" cy="261.39" r="0.95" fill="#4589C8" fill-opacity="0.7"/>
<circle cx="124.84" cy="257.42" r="0.95" fill="#4589C8" fill-opacity="0.7"/>
<circle cx="125.55" cy="266.06" r="0.95" fill="#4589C8" fill-opacity="0.7"/>
<circle cx="125.41" cy="259.35" r="0.95" fill="#4589C8" fill-opacity="0.7"/>
<circle cx="126.03" cy="259.57" r="0.95" fill="#4589C8" fill-opacity="0.7"/>
<circle cx="125.71" cy="264.26" r="0.95" fill="#4589C8" fill-opacity="0.7"/>
<circle cx="124.76" cy="270.66" r="0.95" fill="#4589C8" fill-opacity="0.7"/>
<circle cx="125.56" cy="267.74" r="0.95" fill="#4589C8" fill-opacity="0.7"/>
<circle cx="125.88" cy="264.84" r="0.95" fill="#4589C8" fill-opacity="0.7"/>
<circle cx="125.48" cy="259.72" r="0.95" fill="#4589C8" fill-opacity="0.7"/>
<circle cx="125.27" cy="267.36" r="0.95" fill="#4589C8" fill-opacity="0.7"/>
<circle cx="125.04" cy="260.33" r="0.95" fill="#4589C8" fill-opacity="0.7"/>
<circle cx="125.38" cy="263.72" r="0.95" fill="#4589C8" fill-opacity="0.7"/>
<circle cx="125.19" cy="262.48" r="0.95" fill="#4589C8" fill-opacity="0.7"/>
<circle cx="125.42" cy="268.29" r="0.95" fill="#4589C8" fill-opacity="0.7"/>
<circle cx="125.40" cy="263.78" r="0.95" fill="#4589C8" fill-opacity="0.7"/>
<circle cx="125.95" cy="263.15" r="0.95" fill="#4589C8" fill-opacity="0.7"/>
<circle cx="125.17" cy="266.04" r="0.95" fill="#4589C8" fill-opacity="0.7"/>
<circle cx="125.63" cy="246.95" r="0.95" fill="#4589C8" fill-opacity="0.7"/>
<circle cx="127.53" cy="261.92" r="0.95" fill="#D9532F" fill-opacity="0.7"/>
<circle cx="128.01" cy="263.57" r="0.95" fill="#D9532F" fill-opacity="0.7"/>
<circle cx="128.27" cy="263.56" r="0.95" fill="#D9532F" fill-opacity="0.7"/>
<circle cx="127.71" cy="271.69" r="0.95" fill="#D9532F" fill-opacity="0.7"/>
<circle cx="127.50" cy="270.38" r="0.95" fill="#D9532F" fill-opacity="0.7"/>
<circle cx="127.92" cy="261.82" r="0.95" fill="#D9532F" fill-opacity="0.7"/>
<circle cx="127.92" cy="260.47" r="0.95" fill="#D9532F" fill-opacity="0.7"/>
<circle cx="127.69" cy="254.91" r="0.95" fill="#D9532F" fill-opacity="0.7"/>
<circle cx="128.06" cy="258.47" r="0.95" fill="#D9532F" fill-opacity="0.7"/>
<circle cx="127.94" cy="267.52" r="0.95" fill="#D9532F" fill-opacity="0.7"/>
<circle cx="128.15" cy="264.54" r="0.95" fill="#D9532F" fill-opacity="0.7"/>
<circle cx="127.43" cy="263.64" r="0.95" fill="#D9532F" fill-opacity="0.7"/>
<circle cx="128.17" cy="258.27" r="0.95" fill="#D9532F" fill-opacity="0.7"/>
<circle cx="128.35" cy="265.64" r="0.95" fill="#D9532F" fill-opacity="0.7"/>
<circle cx="127.63" cy="256.17" r="0.95" fill="#D9532F" fill-opacity="0.7"/>
<circle cx="128.60" cy="264.03" r="0.95" fill="#D9532F" fill-opacity="0.7"/>
<circle cx="127.99" cy="265.58" r="0.95" fill="#D9532F" fill-opacity="0.7"/>
<circle cx="127.46" cy="264.11" r="0.95" fill="#D9532F" fill-opacity="0.7"/>
<circle cx="127.54" cy="266.31" r="0.95" fill="#D9532F" fill-opacity="0.7"/>
<circle cx="127.65" cy="254.75" r="0.95" fill="#D9532F" fill-opacity="0.7"/>
<circle cx="127.69" cy="271.91" r="0.95" fill="#D9532F" fill-opacity="0.7"/>
<circle cx="127.83" cy="265.55" r="0.95" fill="#D9532F" fill-opacity="0.7"/>
<circle cx="128.01" cy="271.32" r="0.95" fill="#D9532F" fill-opacity="0.7"/>
<circle cx="127.84" cy="260.54" r="0.95" fill="#D9532F" fill-opacity="0.7"/>
<circle cx="127.80" cy="270.03" r="0.95" fill="#D9532F" fill-opacity="0.7"/>
<circle cx="127.58" cy="270.06" r="0.95" fill="#D9532F" fill-opacity="0.7"/>
<circle cx="127.20" cy="265.12" r="0.95" fill="#D9532F" fill-opacity="0.7"/>
<circle cx="127.66" cy="261.91" r="0.95" fill="#D9532F" fill-opacity="0.7"/>
<circle cx="127.48" cy="259.00" r="0.95" fill="#D9532F" fill-opacity="0.7"/>
<circle cx="128.22" cy="264.74" r="0.95" fill="#D9532F" fill-opacity="0.7"/>
<circle cx="127.07" cy="267.43" r="0.95" fill="#D9532F" fill-opacity="0.7"/>
<circle cx="128.31" cy="266.12" r="0.95" fill="#D9532F" fill-opacity="0.7"/>
<circle cx="126.92" cy="256.75" r="0.95" fill="#D9532F" fill-opacity="0.7"/>
<circle cx="127.84" cy="268.91" r="0.95" fill="#D9532F" fill-opacity="0.7"/>
<circle cx="127.92" cy="272.54" r="0.95" fill="#D9532F" fill-opacity="0.7"/>
<circle cx="127.52" cy="256.80" r="0.95" fill="#D9532F" fill-opacity="0.7"/>
<circle cx="127.57" cy="264.05" r="0.95" fill="#D9532F" fill-opacity="0.7"/>
<circle cx="128.21" cy="270.36" r="0.95" fill="#D9532F" fill-opacity="0.7"/>
<circle cx="127.53" cy="270.30" r="0.95" fill="#D9532F" fill-opacity="0.7"/>
<circle cx="127.88" cy="256.71" r="0.95" fill="#D9532F" fill-opacity="0.7"/>
<circle cx="127.93" cy="259.26" r="0.95" fill="#D9532F" fill-opacity="0.7"/>
<circle cx="128.14" cy="271.59" r="0.95" fill="#D9532F" fill-opacity="0.7"/>
<circle cx="127.47" cy="260.59" r="0.95" fill="#D9532F" fill-opacity="0.7"/>
<circle cx="128.37" cy="268.90" r="0.95" fill="#D9532F" fill-opacity="0.7"/>
<circle cx="127.86" cy="264.72" r="0.95" fill="#D9532F" fill-opacity="0.7"/>
<circle cx="128.26" cy="263.33" r="0.95" fill="#D9532F" fill-opacity="0.7"/>
<circle cx="127.42" cy="264.66" r="0.95" fill="#D9532F" fill-opacity="0.7"/>
<circle cx="128.29" cy="264.46" r="0.95" fill="#D9532F" fill-opacity="0.7"/>
<circle cx="127.88" cy="260.75" r="0.95" fill="#D9532F" fill-opacity="0.7"/>
<circle cx="128.18" cy="265.03" r="0.95" fill="#D9532F" fill-opacity="0.7"/>
<circle cx="127.69" cy="259.87" r="0.95" fill="#D9532F" fill-opacity="0.7"/>
<circle cx="128.21" cy="258.82" r="0.95" fill="#D9532F" fill-opacity="0.7"/>
<circle cx="127.92" cy="262.98" r="0.95" fill="#D9532F" fill-opacity="0.7"/>
<circle cx="127.25" cy="263.12" r="0.95" fill="#D9532F" fill-opacity="0.7"/>
<circle cx="128.78" cy="266.09" r="0.95" fill="#D9532F" fill-opacity="0.7"/>
<circle cx="127.68" cy="267.06" r="0.95" fill="#D9532F" fill-opacity="0.7"/>
<circle cx="128.07" cy="258.58" r="0.95" fill="#D9532F" fill-opacity="0.7"/>
<circle cx="127.84" cy="267.47" r="0.95" fill="#D9532F" fill-opacity="0.7"/>
<circle cx="127.75" cy="263.45" r="0.95" fill="#D9532F" fill-opacity="0.7"/>
<circle cx="127.78" cy="262.69" r="0.95" fill="#D9532F" fill-opacity="0.7"/>
<circle cx="128.23" cy="243.55" r="0.95" fill="#D9532F" fill-opacity="0.7"/>
<circle cx="128.24" cy="247.44" r="0.95" fill="#D9532F" fill-opacity="0.7"/>
<circle cx="128.23" cy="277.13" r="0.95" fill="#D9532F" fill-opacity="0.7"/>
<circle cx="127.34" cy="278.83" r="0.95" fill="#D9532F" fill-opacity="0.7"/>
<circle cx="138.89" cy="261.39" r="0.95" fill="#4589C8" fill-opacity="0.7"/>
<circle cx="138.09" cy="263.79" r="0.95" fill="#4589C8" fill-opacity="0.7"/>
<circle cx="139.41" cy="266.84" r="0.95" fill="#4589C8" fill-opacity="0.7"/>
<circle cx="138.74" cy="255.75" r="0.95" fill="#4589C8" fill-opacity="0.7"/>
<circle cx="139.01" cy="268.51" r="0.95" fill="#4589C8" fill-opacity="0.7"/>
<circle cx="138.61" cy="260.68" r="0.95" fill="#4589C8" fill-opacity="0.7"/>
<circle cx="138.66" cy="270.94" r="0.95" fill="#4589C8" fill-opacity="0.7"/>
<circle cx="138.36" cy="255.63" r="0.95" fill="#4589C8" fill-opacity="0.7"/>
<circle cx="139.31" cy="255.18" r="0.95" fill="#4589C8" fill-opacity="0.7"/>
<circle cx="138.50" cy="261.13" r="0.95" fill="#4589C8" fill-opacity="0.7"/>
<circle cx="138.99" cy="266.49" r="0.95" fill="#4589C8" fill-opacity="0.7"/>
<circle cx="138.33" cy="259.22" r="0.95" fill="#4589C8" fill-opacity="0.7"/>
<circle cx="138.56" cy="255.99" r="0.95" fill="#4589C8" fill-opacity="0.7"/>
<circle cx="138.47" cy="257.95" r="0.95" fill="#4589C8" fill-opacity="0.7"/>
<circle cx="138.57" cy="271.53" r="0.95" fill="#4589C8" fill-opacity="0.7"/>
<circle cx="138.43" cy="263.18" r="0.95" fill="#4589C8" fill-opacity="0.7"/>
<circle cx="138.83" cy="269.74" r="0.95" fill="#4589C8" fill-opacity="0.7"/>
<circle cx="138.84" cy="262.42" r="0.95" fill="#4589C8" fill-opacity="0.7"/>
<circle cx="138.05" cy="255.15" r="0.95" fill="#4589C8" fill-opacity="0.7"/>
<circle cx="138.46" cy="256.69" r="0.95" fill="#4589C8" fill-opacity="0.7"/>
<circle cx="138.15" cy="267.78" r="0.95" fill="#4589C8" fill-opacity="0.7"/>
<circle cx="138.98" cy="262.32" r="0.95" fill="#4589C8" fill-opacity="0.7"/>
<circle cx="138.17" cy="266.54" r="0.95" fill="#4589C8" fill-opacity="0.7"/>
<circle cx="138.77" cy="269.23" r="0.95" fill="#4589C8" fill-opacity="0.7"/>
<circle cx="138.66" cy="258.87" r="0.95" fill="#4589C8" fill-opacity="0.7"/>
<circle cx="138.59" cy="258.59" r="0.95" fill="#4589C8" fill-opacity="0.7"/>
<circle cx="137.93" cy="266.20" r="0.95" fill="#4589C8" fill-opacity="0.7"/>
<circle cx="139.20" cy="264.69" r="0.95" fill="#4589C8" fill-opacity="0.7"/>
<circle cx="138.56" cy="259.72" r="0.95" fill="#4589C8" fill-opacity="0.7"/>
<circle cx="138.85" cy="259.16" r="0.95" fill="#4589C8" fill-opacity="0.7"/>
<circle cx="138.98" cy="263.91" r="0.95" fill="#4589C8" fill-opacity="0.7"/>
<circle cx="138.26" cy="270.13" r="0.95" fill="#4589C8" fill-opacity="0.7"/>
<circle cx="138.26" cy="270.54" r="0.95" fill="#4589C8" fill-opacity="0.7"/>
<circle cx="139.21" cy="269.21" r="0.95" fill="#4589C8" fill-opacity="0.7"/>
<circle cx="139.29" cy="257.38" r="0.95" fill="#4589C8" fill-opacity="0.7"/>
<circle cx="138.32" cy="263.32" r="0.95" fill="#4589C8" fill-opacity="0.7"/>
<circle cx="138.58" cy="260.66" r="0.95" fill="#4589C8" fill-opacity="0.7"/>
<circle cx="138.94" cy="265.70" r="0.95" fill="#4589C8" fill-opacity="0.7"/>
<circle cx="138.56" cy="265.62" r="0.95" fill="#4589C8" fill-opacity="0.7"/>
<circle cx="139.07" cy="269.09" r="0.95" fill="#4589C8" fill-opacity="0.7"/>
<circle cx="138.82" cy="254.71" r="0.95" fill="#4589C8" fill-opacity="0.7"/>
<circle cx="138.59" cy="261.36" r="0.95" fill="#4589C8" fill-opacity="0.7"/>
<circle cx="138.85" cy="269.94" r="0.95" fill="#4589C8" fill-opacity="0.7"/>
<circle cx="138.44" cy="259.61" r="0.95" fill="#4589C8" fill-opacity="0.7"/>
<circle cx="139.05" cy="261.49" r="0.95" fill="#4589C8" fill-opacity="0.7"/>
<circle cx="138.38" cy="267.93" r="0.95" fill="#4589C8" fill-opacity="0.7"/>
<circle cx="139.07" cy="267.29" r="0.95" fill="#4589C8" fill-opacity="0.7"/>
<circle cx="139.49" cy="268.98" r="0.95" fill="#4589C8" fill-opacity="0.7"/>
<circle cx="138.00" cy="267.89" r="0.95" fill="#4589C8" fill-opacity="0.7"/>
<circle cx="139.21" cy="259.64" r="0.95" fill="#4589C8" fill-opacity="0.7"/>
<circle cx="138.09" cy="263.95" r="0.95" fill="#4589C8" fill-opacity="0.7"/>
<circle cx="138.59" cy="265.34" r="0.95" fill="#4589C8" fill-opacity="0.7"/>
<circle cx="139.25" cy="266.06" r="0.95" fill="#4589C8" fill-opacity="0.7"/>
<circle cx="138.99" cy="266.17" r="0.95" fill="#4589C8" fill-opacity="0.7"/>
<circle cx="138.85" cy="261.42" r="0.95" fill="#4589C8" fill-opacity="0.7"/>
<circle cx="138.74" cy="265.28" r="0.95" fill="#4589C8" fill-opacity="0.7"/>
<circle cx="138.67" cy="265.94" r="0.95" fill="#4589C8" fill-opacity="0.7"/>
<circle cx="138.77" cy="267.43" r="0.95" fill="#4589C8" fill-opacity="0.7"/>
<circle cx="138.54" cy="257.66" r="0.95" fill="#4589C8" fill-opacity="0.7"/>
<circle cx="138.51" cy="261.59" r="0.95" fill="#4589C8" fill-opacity="0.7"/>
<circle cx="138.18" cy="246.95" r="0.95" fill="#4589C8" fill-opacity="0.7"/>
<circle cx="141.62" cy="257.56" r="0.95" fill="#D9532F" fill-opacity="0.7"/>
<circle cx="141.00" cy="265.79" r="0.95" fill="#D9532F" fill-opacity="0.7"/>
<circle cx="141.68" cy="261.17" r="0.95" fill="#D9532F" fill-opacity="0.7"/>
<circle cx="141.27" cy="268.22" r="0.95" fill="#D9532F" fill-opacity="0.7"/>
<circle cx="141.17" cy="267.07" r="0.95" fill="#D9532F" fill-opacity="0.7"/>
<circle cx="140.63" cy="270.93" r="0.95" fill="#D9532F" fill-opacity="0.7"/>
<circle cx="140.92" cy="258.37" r="0.95" fill="#D9532F" fill-opacity="0.7"/>
<circle cx="141.03" cy="256.16" r="0.95" fill="#D9532F" fill-opacity="0.7"/>
<circle cx="140.97" cy="267.30" r="0.95" fill="#D9532F" fill-opacity="0.7"/>
<circle cx="140.91" cy="265.93" r="0.95" fill="#D9532F" fill-opacity="0.7"/>
<circle cx="140.21" cy="270.64" r="0.95" fill="#D9532F" fill-opacity="0.7"/>
<circle cx="140.87" cy="270.19" r="0.95" fill="#D9532F" fill-opacity="0.7"/>
<circle cx="140.92" cy="261.25" r="0.95" fill="#D9532F" fill-opacity="0.7"/>
<circle cx="140.84" cy="256.68" r="0.95" fill="#D9532F" fill-opacity="0.7"/>
<circle cx="140.90" cy="271.23" r="0.95" fill="#D9532F" fill-opacity="0.7"/>
<circle cx="140.46" cy="268.16" r="0.95" fill="#D9532F" fill-opacity="0.7"/>
<circle cx="140.71" cy="259.08" r="0.95" fill="#D9532F" fill-opacity="0.7"/>
<circle cx="141.53" cy="268.68" r="0.95" fill="#D9532F" fill-opacity="0.7"/>
<circle cx="140.68" cy="256.94" r="0.95" fill="#D9532F" fill-opacity="0.7"/>
<circle cx="140.83" cy="266.39" r="0.95" fill="#D9532F" fill-opacity="0.7"/>
<circle cx="140.72" cy="264.22" r="0.95" fill="#D9532F" fill-opacity="0.7"/>
<circle cx="140.95" cy="269.12" r="0.95" fill="#D9532F" fill-opacity="0.7"/>
<circle cx="140.83" cy="267.51" r="0.95" fill="#D9532F" fill-opacity="0.7"/>
<circle cx="141.71" cy="265.10" r="0.95" fill="#D9532F" fill-opacity="0.7"/>
<circle cx="140.65" cy="267.74" r="0.95" fill="#D9532F" fill-opacity="0.7"/>
<circle cx="141.49" cy="259.62" r="0.95" fill="#D9532F" fill-opacity="0.7"/>
<circle cx="140.85" cy="272.20" r="0.95" fill="#D9532F" fill-opacity="0.7"/>
<circle cx="141.17" cy="261.24" r="0.95" fill="#D9532F" fill-opacity="0.7"/>
<circle cx="141.90" cy="258.30" r="0.95" fill="#D9532F" fill-opacity="0.7"/>
<circle cx="141.01" cy="266.87" r="0.95" fill="#D9532F" fill-opacity="0.7"/>
<circle cx="141.01" cy="269.30" r="0.95" fill="#D9532F" fill-opacity="0.7"/>
<circle cx="140.01" cy="270.59" r="0.95" fill="#D9532F" fill-opacity="0.7"/>
<circle cx="140.89" cy="271.35" r="0.95" fill="#D9532F" fill-opacity="0.7"/>
<circle cx="140.93" cy="258.48" r="0.95" fill="#D9532F" fill-opacity="0.7"/>
<circle cx="141.06" cy="261.89" r="0.95" fill="#D9532F" fill-opacity="0.7"/>
<circle cx="141.10" cy="272.47" r="0.95" fill="#D9532F" fill-opacity="0.7"/>
<circle cx="140.63" cy="264.58" r="0.95" fill="#D9532F" fill-opacity="0.7"/>
<circle cx="140.68" cy="261.97" r="0.95" fill="#D9532F" fill-opacity="0.7"/>
<circle cx="141.28" cy="267.00" r="0.95" fill="#D9532F" fill-opacity="0.7"/>
<circle cx="140.92" cy="272.12" r="0.95" fill="#D9532F" fill-opacity="0.7"/>
<circle cx="141.03" cy="265.17" r="0.95" fill="#D9532F" fill-opacity="0.7"/>
<circle cx="141.25" cy="266.38" r="0.95" fill="#D9532F" fill-opacity="0.7"/>
<circle cx="141.05" cy="255.24" r="0.95" fill="#D9532F" fill-opacity="0.7"/>
<circle cx="141.07" cy="266.27" r="0.95" fill="#D9532F" fill-opacity="0.7"/>
<circle cx="140.63" cy="256.13" r="0.95" fill="#D9532F" fill-opacity="0.7"/>
<circle cx="141.01" cy="268.89" r="0.95" fill="#D9532F" fill-opacity="0.7"/>
<circle cx="140.42" cy="260.56" r="0.95" fill="#D9532F" fill-opacity="0.7"/>
<circle cx="141.63" cy="267.21" r="0.95" fill="#D9532F" fill-opacity="0.7"/>
<circle cx="140.74" cy="259.15" r="0.95" fill="#D9532F" fill-opacity="0.7"/>
<circle cx="141.60" cy="259.09" r="0.95" fill="#D9532F" fill-opacity="0.7"/>
<circle cx="140.84" cy="259.86" r="0.95" fill="#D9532F" fill-opacity="0.7"/>
<circle cx="140.97" cy="261.28" r="0.95" fill="#D9532F" fill-opacity="0.7"/>
<circle cx="141.47" cy="262.44" r="0.95" fill="#D9532F" fill-opacity="0.7"/>
<circle cx="141.09" cy="262.83" r="0.95" fill="#D9532F" fill-opacity="0.7"/>
<circle cx="141.08" cy="265.52" r="0.95" fill="#D9532F" fill-opacity="0.7"/>
<circle cx="140.92" cy="262.62" r="0.95" fill="#D9532F" fill-opacity="0.7"/>
<circle cx="140.92" cy="259.02" r="0.95" fill="#D9532F" fill-opacity="0.7"/>
<circle cx="140.76" cy="263.98" r="0.95" fill="#D9532F" fill-opacity="0.7"/>
<circle cx="140.75" cy="256.54" r="0.95" fill="#D9532F" fill-opacity="0.7"/>
<circle cx="140.39" cy="269.17" r="0.95" fill="#D9532F" fill-opacity="0.7"/>
<circle cx="140.96" cy="243.55" r="0.95" fill="#D9532F" fill-opacity="0.7"/>
<circle cx="140.74" cy="247.44" r="0.95" fill="#D9532F" fill-opacity="0.7"/>
<circle cx="141.51" cy="277.13" r="0.95" fill="#D9532F" fill-opacity="0.7"/>
<circle cx="141.76" cy="278.83" r="0.95" fill="#D9532F" fill-opacity="0.7"/>
<circle cx="152.28" cy="258.61" r="0.95" fill="#4589C8" fill-opacity="0.7"/>
<circle cx="151.20" cy="260.63" r="0.95" fill="#4589C8" fill-opacity="0.7"/>
<circle cx="151.49" cy="263.74" r="0.95" fill="#4589C8" fill-opacity="0.7"/>
<circle cx="151.57" cy="258.26" r="0.95" fill="#4589C8" fill-opacity="0.7"/>
<circle cx="151.08" cy="260.21" r="0.95" fill="#4589C8" fill-opacity="0.7"/>
<circle cx="152.16" cy="269.41" r="0.95" fill="#4589C8" fill-opacity="0.7"/>
<circle cx="151.87" cy="262.72" r="0.95" fill="#4589C8" fill-opacity="0.7"/>
<circle cx="151.72" cy="264.81" r="0.95" fill="#4589C8" fill-opacity="0.7"/>
<circle cx="152.30" cy="262.98" r="0.95" fill="#4589C8" fill-opacity="0.7"/>
<circle cx="151.79" cy="259.42" r="0.95" fill="#4589C8" fill-opacity="0.7"/>
<circle cx="151.51" cy="259.85" r="0.95" fill="#4589C8" fill-opacity="0.7"/>
<circle cx="151.72" cy="262.00" r="0.95" fill="#4589C8" fill-opacity="0.7"/>
<circle cx="151.45" cy="258.06" r="0.95" fill="#4589C8" fill-opacity="0.7"/>
<circle cx="151.79" cy="257.40" r="0.95" fill="#4589C8" fill-opacity="0.7"/>
<circle cx="151.16" cy="270.60" r="0.95" fill="#4589C8" fill-opacity="0.7"/>
<circle cx="151.80" cy="269.65" r="0.95" fill="#4589C8" fill-opacity="0.7"/>
<circle cx="151.51" cy="271.41" r="0.95" fill="#4589C8" fill-opacity="0.7"/>
<circle cx="151.47" cy="269.37" r="0.95" fill="#4589C8" fill-opacity="0.7"/>
<circle cx="151.48" cy="254.99" r="0.95" fill="#4589C8" fill-opacity="0.7"/>
<circle cx="151.57" cy="266.69" r="0.95" fill="#4589C8" fill-opacity="0.7"/>
<circle cx="151.01" cy="264.36" r="0.95" fill="#4589C8" fill-opacity="0.7"/>
<circle cx="151.83" cy="263.88" r="0.95" fill="#4589C8" fill-opacity="0.7"/>
<circle cx="151.55" cy="262.10" r="0.95" fill="#4589C8" fill-opacity="0.7"/>
<circle cx="152.25" cy="267.23" r="0.95" fill="#4589C8" fill-opacity="0.7"/>
<circle cx="151.61" cy="258.24" r="0.95" fill="#4589C8" fill-opacity="0.7"/>
<circle cx="151.95" cy="266.29" r="0.95" fill="#4589C8" fill-opacity="0.7"/>
<circle cx="151.61" cy="257.03" r="0.95" fill="#4589C8" fill-opacity="0.7"/>
<circle cx="151.57" cy="257.79" r="0.95" fill="#4589C8" fill-opacity="0.7"/>
<circle cx="151.19" cy="272.24" r="0.95" fill="#4589C8" fill-opacity="0.7"/>
<circle cx="151.46" cy="262.40" r="0.95" fill="#4589C8" fill-opacity="0.7"/>
<circle cx="151.41" cy="270.58" r="0.95" fill="#4589C8" fill-opacity="0.7"/>
<circle cx="150.77" cy="256.34" r="0.95" fill="#4589C8" fill-opacity="0.7"/>
<circle cx="151.51" cy="271.01" r="0.95" fill="#4589C8" fill-opacity="0.7"/>
<circle cx="151.37" cy="267.45" r="0.95" fill="#4589C8" fill-opacity="0.7"/>
<circle cx="151.73" cy="258.42" r="0.95" fill="#4589C8" fill-opacity="0.7"/>
<circle cx="151.98" cy="261.62" r="0.95" fill="#4589C8" fill-opacity="0.7"/>
<circle cx="151.51" cy="260.25" r="0.95" fill="#4589C8" fill-opacity="0.7"/>
<circle cx="152.04" cy="264.82" r="0.95" fill="#4589C8" fill-opacity="0.7"/>
<circle cx="152.06" cy="262.89" r="0.95" fill="#4589C8" fill-opacity="0.7"/>
<circle cx="151.89" cy="268.60" r="0.95" fill="#4589C8" fill-opacity="0.7"/>
<circle cx="151.50" cy="263.93" r="0.95" fill="#4589C8" fill-opacity="0.7"/>
<circle cx="151.66" cy="267.63" r="0.95" fill="#4589C8" fill-opacity="0.7"/>
<circle cx="152.19" cy="260.10" r="0.95" fill="#4589C8" fill-opacity="0.7"/>
<circle cx="152.16" cy="270.34" r="0.95" fill="#4589C8" fill-opacity="0.7"/>
<circle cx="152.02" cy="269.78" r="0.95" fill="#4589C8" fill-opacity="0.7"/>
<circle cx="151.01" cy="261.82" r="0.95" fill="#4589C8" fill-opacity="0.7"/>
<circle cx="150.82" cy="259.05" r="0.95" fill="#4589C8" fill-opacity="0.7"/>
<circle cx="152.24" cy="263.50" r="0.95" fill="#4589C8" fill-opacity="0.7"/>
<circle cx="151.87" cy="263.39" r="0.95" fill="#4589C8" fill-opacity="0.7"/>
<circle cx="152.09" cy="256.44" r="0.95" fill="#4589C8" fill-opacity="0.7"/>
<circle cx="151.82" cy="263.81" r="0.95" fill="#4589C8" fill-opacity="0.7"/>
<circle cx="151.51" cy="264.80" r="0.95" fill="#4589C8" fill-opacity="0.7"/>
<circle cx="151.78" cy="261.81" r="0.95" fill="#4589C8" fill-opacity="0.7"/>
<circle cx="151.60" cy="258.72" r="0.95" fill="#4589C8" fill-opacity="0.7"/>
<circle cx="152.15" cy="272.04" r="0.95" fill="#4589C8" fill-opacity="0.7"/>
<circle cx="151.92" cy="260.62" r="0.95" fill="#4589C8" fill-opacity="0.7"/>
<circle cx="151.29" cy="257.81" r="0.95" fill="#4589C8" fill-opacity="0.7"/>
<circle cx="151.35" cy="259.75" r="0.95" fill="#4589C8" fill-opacity="0.7"/>
<circle cx="151.98" cy="270.97" r="0.95" fill="#4589C8" fill-opacity="0.7"/>
<circle cx="151.93" cy="262.79" r="0.95" fill="#4589C8" fill-opacity="0.7"/>
<circle cx="151.72" cy="246.95" r="0.95" fill="#4589C8" fill-opacity="0.7"/>
<circle cx="154.44" cy="269.78" r="0.95" fill="#D9532F" fill-opacity="0.7"/>
<circle cx="153.88" cy="268.58" r="0.95" fill="#D9532F" fill-opacity="0.7"/>
<circle cx="154.02" cy="256.54" r="0.95" fill="#D9532F" fill-opacity="0.7"/>
<circle cx="154.51" cy="256.36" r="0.95" fill="#D9532F" fill-opacity="0.7"/>
<circle cx="153.68" cy="264.22" r="0.95" fill="#D9532F" fill-opacity="0.7"/>
<circle cx="154.49" cy="270.45" r="0.95" fill="#D9532F" fill-opacity="0.7"/>
<circle cx="154.53" cy="266.40" r="0.95" fill="#D9532F" fill-opacity="0.7"/>
<circle cx="154.55" cy="268.40" r="0.95" fill="#D9532F" fill-opacity="0.7"/>
<circle cx="154.62" cy="261.07" r="0.95" fill="#D9532F" fill-opacity="0.7"/>
<circle cx="154.99" cy="259.78" r="0.95" fill="#D9532F" fill-opacity="0.7"/>
<circle cx="154.42" cy="258.77" r="0.95" fill="#D9532F" fill-opacity="0.7"/>
<circle cx="154.04" cy="264.88" r="0.95" fill="#D9532F" fill-opacity="0.7"/>
<circle cx="153.72" cy="264.52" r="0.95" fill="#D9532F" fill-opacity="0.7"/>
<circle cx="153.53" cy="264.32" r="0.95" fill="#D9532F" fill-opacity="0.7"/>
<circle cx="154.36" cy="266.08" r="0.95" fill="#D9532F" fill-opacity="0.7"/>
<circle cx="154.63" cy="264.55" r="0.95" fill="#D9532F" fill-opacity="0.7"/>
<circle cx="153.73" cy="260.41" r="0.95" fill="#D9532F" fill-opacity="0.7"/>
<circle cx="154.38" cy="259.94" r="0.95" fill="#D9532F" fill-opacity="0.7"/>
<circle cx="154.07" cy="266.87" r="0.95" fill="#D9532F" fill-opacity="0.7"/>
<circle cx="154.23" cy="262.54" r="0.95" fill="#D9532F" fill-opacity="0.7"/>
<circle cx="154.40" cy="270.14" r="0.95" fill="#D9532F" fill-opacity="0.7"/>
<circle cx="154.34" cy="271.93" r="0.95" fill="#D9532F" fill-opacity="0.7"/>
<circle cx="153.91" cy="265.78" r="0.95" fill="#D9532F" fill-opacity="0.7"/>
<circle cx="154.59" cy="266.28" r="0.95" fill="#D9532F" fill-opacity="0.7"/>
<circle cx="154.28" cy="272.16" r="0.95" fill="#D9532F" fill-opacity="0.7"/>
<circle cx="153.66" cy="271.32" r="0.95" fill="#D9532F" fill-opacity="0.7"/>
<circle cx="154.59" cy="265.08" r="0.95" fill="#D9532F" fill-opacity="0.7"/>
<circle cx="154.88" cy="255.78" r="0.95" fill="#D9532F" fill-opacity="0.7"/>
<circle cx="154.19" cy="257.67" r="0.95" fill="#D9532F" fill-opacity="0.7"/>
<circle cx="154.89" cy="272.20" r="0.95" fill="#D9532F" fill-opacity="0.7"/>
<circle cx="153.77" cy="267.04" r="0.95" fill="#D9532F" fill-opacity="0.7"/>
<circle cx="154.23" cy="266.11" r="0.95" fill="#D9532F" fill-opacity="0.7"/>
<circle cx="154.78" cy="267.14" r="0.95" fill="#D9532F" fill-opacity="0.7"/>
<circle cx="154.78" cy="270.28" r="0.95" fill="#D9532F" fill-opacity="0.7"/>
<circle cx="154.50" cy="262.12" r="0.95" fill="#D9532F" fill-opacity="0.7"/>
<circle cx="154.70" cy="257.64" r="0.95" fill="#D9532F" fill-opacity="0.7"/>
<circle cx="154.18" cy="265.87" r="0.95" fill="#D9532F" fill-opacity="0.7"/>
<circle cx="154.58" cy="269.57" r="0.95" fill="#D9532F" fill-opacity="0.7"/>
<circle cx="154.66" cy="270.85" r="0.95" fill="#D9532F" fill-opacity="0.7"/>
<circle cx="154.66" cy="272.47" r="0.95" fill="#D9532F" fill-opacity="0.7"/>
<circle cx="154.46" cy="258.97" r="0.95" fill="#D9532F" fill-opacity="0.7"/>
<circle cx="154.62" cy="268.59" r="0.95" fill="#D9532F" fill-opacity="0.7"/>
<circle cx="154.48" cy="259.71" r="0.95" fill="#D9532F" fill-opacity="0.7"/>
<circle cx="154.54" cy="258.51" r="0.95" fill="#D9532F" fill-opacity="0.7"/>
<circle cx="153.78" cy="271.24" r="0.95" fill="#D9532F" fill-opacity="0.7"/>
<circle cx="154.53" cy="261.98" r="0.95" fill="#D9532F" fill-opacity="0.7"/>
<circle cx="153.99" cy="262.57" r="0.95" fill="#D9532F" fill-opacity="0.7"/>
<circle cx="154.19" cy="260.84" r="0.95" fill="#D9532F" fill-opacity="0.7"/>
<circle cx="154.34" cy="263.05" r="0.95" fill="#D9532F" fill-opacity="0.7"/>
<circle cx="154.41" cy="269.59" r="0.95" fill="#D9532F" fill-opacity="0.7"/>
<circle cx="153.86" cy="265.03" r="0.95" fill="#D9532F" fill-opacity="0.7"/>
<circle cx="154.14" cy="260.01" r="0.95" fill="#D9532F" fill-opacity="0.7"/>
<circle cx="154.41" cy="266.24" r="0.95" fill="#D9532F" fill-opacity="0.7"/>
<circle cx="154.18" cy="260.53" r="0.95" fill="#D9532F" fill-opacity="0.7"/>
<circle cx="154.33" cy="262.98" r="0.95" fill="#D9532F" fill-opacity="0.7"/>
<circle cx="154.40" cy="266.44" r="0.95" fill="#D9532F" fill-opacity="0.7"/>
<circle cx="154.40" cy="260.74" r="0.95" fill="#D9532F" fill-opacity="0.7"/>
<circle cx="154.13" cy="271.26" r="0.95" fill="#D9532F" fill-opacity="0.7"/>
<circle cx="154.39" cy="271.08" r="0.95" fill="#D9532F" fill-opacity="0.7"/>
<circle cx="154.52" cy="269.14" r="0.95" fill="#D9532F" fill-opacity="0.7"/>
<circle cx="153.88" cy="243.55" r="0.95" fill="#D9532F" fill-opacity="0.7"/>
<circle cx="154.60" cy="247.44" r="0.95" fill="#D9532F" fill-opacity="0.7"/>
<circle cx="153.97" cy="277.13" r="0.95" fill="#D9532F" fill-opacity="0.7"/>
<circle cx="154.45" cy="278.83" r="0.95" fill="#D9532F" fill-opacity="0.7"/>
<circle cx="164.94" cy="255.37" r="0.95" fill="#4589C8" fill-opacity="0.7"/>
<circle cx="164.95" cy="269.18" r="0.95" fill="#4589C8" fill-opacity="0.7"/>
<circle cx="164.31" cy="254.41" r="0.95" fill="#4589C8" fill-opacity="0.7"/>
<circle cx="164.40" cy="268.65" r="0.95" fill="#4589C8" fill-opacity="0.7"/>
<circle cx="164.31" cy="257.77" r="0.95" fill="#4589C8" fill-opacity="0.7"/>
<circle cx="164.92" cy="270.08" r="0.95" fill="#4589C8" fill-opacity="0.7"/>
<circle cx="164.77" cy="266.81" r="0.95" fill="#4589C8" fill-opacity="0.7"/>
<circle cx="164.09" cy="264.30" r="0.95" fill="#4589C8" fill-opacity="0.7"/>
<circle cx="164.98" cy="257.15" r="0.95" fill="#4589C8" fill-opacity="0.7"/>
<circle cx="165.14" cy="260.00" r="0.95" fill="#4589C8" fill-opacity="0.7"/>
<circle cx="164.54" cy="268.59" r="0.95" fill="#4589C8" fill-opacity="0.7"/>
<circle cx="164.69" cy="256.09" r="0.95" fill="#4589C8" fill-opacity="0.7"/>
<circle cx="164.81" cy="256.68" r="0.95" fill="#4589C8" fill-opacity="0.7"/>
<circle cx="164.37" cy="263.08" r="0.95" fill="#4589C8" fill-opacity="0.7"/>
<circle cx="164.57" cy="271.35" r="0.95" fill="#4589C8" fill-opacity="0.7"/>
<circle cx="164.92" cy="267.12" r="0.95" fill="#4589C8" fill-opacity="0.7"/>
<circle cx="164.60" cy="266.99" r="0.95" fill="#4589C8" fill-opacity="0.7"/>
<circle cx="164.72" cy="264.72" r="0.95" fill="#4589C8" fill-opacity="0.7"/>
<circle cx="164.76" cy="255.29" r="0.95" fill="#4589C8" fill-opacity="0.7"/>
<circle cx="165.33" cy="261.54" r="0.95" fill="#4589C8" fill-opacity="0.7"/>
<circle cx="164.81" cy="257.50" r="0.95" fill="#4589C8" fill-opacity="0.7"/>
<circle cx="164.84" cy="270.98" r="0.95" fill="#4589C8" fill-opacity="0.7"/>
<circle cx="164.55" cy="267.84" r="0.95" fill="#4589C8" fill-opacity="0.7"/>
<circle cx="165.16" cy="259.09" r="0.95" fill="#4589C8" fill-opacity="0.7"/>
<circle cx="164.74" cy="266.13" r="0.95" fill="#4589C8" fill-opacity="0.7"/>
<circle cx="164.71" cy="268.16" r="0.95" fill="#4589C8" fill-opacity="0.7"/>
<circle cx="165.18" cy="271.12" r="0.95" fill="#4589C8" fill-opacity="0.7"/>
<circle cx="165.19" cy="271.34" r="0.95" fill="#4589C8" fill-opacity="0.7"/>
<circle cx="164.39" cy="264.83" r="0.95" fill="#4589C8" fill-opacity="0.7"/>
<circle cx="164.61" cy="262.42" r="0.95" fill="#4589C8" fill-opacity="0.7"/>
<circle cx="165.17" cy="265.06" r="0.95" fill="#4589C8" fill-opacity="0.7"/>
<circle cx="164.55" cy="262.09" r="0.95" fill="#4589C8" fill-opacity="0.7"/>
<circle cx="165.27" cy="267.02" r="0.95" fill="#4589C8" fill-opacity="0.7"/>
<circle cx="164.66" cy="271.96" r="0.95" fill="#4589C8" fill-opacity="0.7"/>
<circle cx="165.41" cy="260.12" r="0.95" fill="#4589C8" fill-opacity="0.7"/>
<circle cx="164.38" cy="266.22" r="0.95" fill="#4589C8" fill-opacity="0.7"/>
<circle cx="164.04" cy="263.41" r="0.95" fill="#4589C8" fill-opacity="0.7"/>
<circle cx="164.21" cy="265.46" r="0.95" fill="#4589C8" fill-opacity="0.7"/>
<circle cx="165.42" cy="267.40" r="0.95" fill="#4589C8" fill-opacity="0.7"/>
<circle cx="164.47" cy="271.33" r="0.95" fill="#4589C8" fill-opacity="0.7"/>
<circle cx="164.57" cy="266.92" r="0.95" fill="#4589C8" fill-opacity="0.7"/>
<circle cx="164.52" cy="266.89" r="0.95" fill="#4589C8" fill-opacity="0.7"/>
<circle cx="164.46" cy="270.19" r="0.95" fill="#4589C8" fill-opacity="0.7"/>
<circle cx="164.78" cy="271.73" r="0.95" fill="#4589C8" fill-opacity="0.7"/>
<circle cx="164.77" cy="263.60" r="0.95" fill="#4589C8" fill-opacity="0.7"/>
<circle cx="164.50" cy="255.91" r="0.95" fill="#4589C8" fill-opacity="0.7"/>
<circle cx="164.53" cy="262.35" r="0.95" fill="#4589C8" fill-opacity="0.7"/>
<circle cx="165.19" cy="265.75" r="0.95" fill="#4589C8" fill-opacity="0.7"/>
<circle cx="165.06" cy="260.26" r="0.95" fill="#4589C8" fill-opacity="0.7"/>
<circle cx="165.07" cy="264.04" r="0.95" fill="#4589C8" fill-opacity="0.7"/>
<circle cx="165.16" cy="263.38" r="0.95" fill="#4589C8" fill-opacity="0.7"/>
<circle cx="164.65" cy="258.18" r="0.95" fill="#4589C8" fill-opacity="0.7"/>
<circle cx="165.03" cy="259.50" r="0.95" fill="#4589C8" fill-opacity="0.7"/>
<circle cx="165.30" cy="267.19" r="0.95" fill="#4589C8" fill-opacity="0.7"/>
<circle cx="164.43" cy="264.72" r="0.95" fill="#4589C8" fill-opacity="0.7"/>
<circle cx="165.20" cy="266.59" r="0.95" fill="#4589C8" fill-opacity="0.7"/>
<circle cx="163.85" cy="258.26" r="0.95" fill="#4589C8" fill-opacity="0.7"/>
<circle cx="164.05" cy="269.64" r="0.95" fill="#4589C8" fill-opacity="0.7"/>
<circle cx="164.20" cy="263.38" r="0.95" fill="#4589C8" fill-opacity="0.7"/>
<circle cx="164.37" cy="259.35" r="0.95" fill="#4589C8" fill-opacity="0.7"/>
<circle cx="164.38" cy="246.95" r="0.95" fill="#4589C8" fill-opacity="0.7"/>
<circle cx="167.15" cy="259.68" r="0.95" fill="#D9532F" fill-opacity="0.7"/>
<circle cx="167.61" cy="260.61" r="0.95" fill="#D9532F" fill-opacity="0.7"/>
<circle cx="167.06" cy="264.44" r="0.95" fill="#D9532F" fill-opacity="0.7"/>
<circle cx="167.19" cy="263.14" r="0.95" fill="#D9532F" fill-opacity="0.7"/>
<circle cx="166.86" cy="262.32" r="0.95" fill="#D9532F" fill-opacity="0.7"/>
<circle cx="166.76" cy="263.29" r="0.95" fill="#D9532F" fill-opacity="0.7"/>
<circle cx="167.25" cy="258.00" r="0.95" fill="#D9532F" fill-opacity="0.7"/>
<circle cx="167.05" cy="257.30" r="0.95" fill="#D9532F" fill-opacity="0.7"/>
<circle cx="167.63" cy="271.81" r="0.95" fill="#D9532F" fill-opacity="0.7"/>
<circle cx="167.36" cy="259.21" r="0.95" fill="#D9532F" fill-opacity="0.7"/>
<circle cx="166.68" cy="261.65" r="0.95" fill="#D9532F" fill-opacity="0.7"/>
<circle cx="167.57" cy="261.97" r="0.95" fill="#D9532F" fill-opacity="0.7"/>
<circle cx="166.90" cy="256.39" r="0.95" fill="#D9532F" fill-opacity="0.7"/>
<circle cx="167.18" cy="271.85" r="0.95" fill="#D9532F" fill-opacity="0.7"/>
<circle cx="166.95" cy="264.19" r="0.95" fill="#D9532F" fill-opacity="0.7"/>
<circle cx="167.03" cy="265.99" r="0.95" fill="#D9532F" fill-opacity="0.7"/>
<circle cx="167.10" cy="255.67" r="0.95" fill="#D9532F" fill-opacity="0.7"/>
<circle cx="166.90" cy="269.78" r="0.95" fill="#D9532F" fill-opacity="0.7"/>
<circle cx="167.06" cy="262.61" r="0.95" fill="#D9532F" fill-opacity="0.7"/>
<circle cx="167.22" cy="270.15" r="0.95" fill="#D9532F" fill-opacity="0.7"/>
<circle cx="167.57" cy="259.17" r="0.95" fill="#D9532F" fill-opacity="0.7"/>
<circle cx="167.56" cy="263.94" r="0.95" fill="#D9532F" fill-opacity="0.7"/>
<circle cx="167.94" cy="259.50" r="0.95" fill="#D9532F" fill-opacity="0.7"/>
<circle cx="166.75" cy="267.22" r="0.95" fill="#D9532F" fill-opacity="0.7"/>
<circle cx="167.18" cy="256.84" r="0.95" fill="#D9532F" fill-opacity="0.7"/>
<circle cx="167.74" cy="272.62" r="0.95" fill="#D9532F" fill-opacity="0.7"/>
<circle cx="166.92" cy="268.70" r="0.95" fill="#D9532F" fill-opacity="0.7"/>
<circle cx="167.26" cy="259.54" r="0.95" fill="#D9532F" fill-opacity="0.7"/>
<circle cx="167.57" cy="256.92" r="0.95" fill="#D9532F" fill-opacity="0.7"/>
<circle cx="167.86" cy="258.75" r="0.95" fill="#D9532F" fill-opacity="0.7"/>
<circle cx="167.52" cy="267.79" r="0.95" fill="#D9532F" fill-opacity="0.7"/>
<circle cx="167.43" cy="271.29" r="0.95" fill="#D9532F" fill-opacity="0.7"/>
<circle cx="167.26" cy="259.97" r="0.95" fill="#D9532F" fill-opacity="0.7"/>
<circle cx="167.53" cy="259.58" r="0.95" fill="#D9532F" fill-opacity="0.7"/>
<circle cx="167.35" cy="271.66" r="0.95" fill="#D9532F" fill-opacity="0.7"/>
<circle cx="167.43" cy="255.91" r="0.95" fill="#D9532F" fill-opacity="0.7"/>
<circle cx="167.09" cy="263.24" r="0.95" fill="#D9532F" fill-opacity="0.7"/>
<circle cx="167.27" cy="272.14" r="0.95" fill="#D9532F" fill-opacity="0.7"/>
<circle cx="167.00" cy="264.11" r="0.95" fill="#D9532F" fill-opacity="0.7"/>
<circle cx="166.93" cy="266.66" r="0.95" fill="#D9532F" fill-opacity="0.7"/>
<circle cx="167.02" cy="270.87" r="0.95" fill="#D9532F" fill-opacity="0.7"/>
<circle cx="167.02" cy="256.80" r="0.95" fill="#D9532F" fill-opacity="0.7"/>
<circle cx="167.08" cy="255.92" r="0.95" fill="#D9532F" fill-opacity="0.7"/>
<circle cx="167.11" cy="270.51" r="0.95" fill="#D9532F" fill-opacity="0.7"/>
<circle cx="166.78" cy="264.72" r="0.95" fill="#D9532F" fill-opacity="0.7"/>
<circle cx="167.42" cy="270.29" r="0.95" fill="#D9532F" fill-opacity="0.7"/>
<circle cx="167.42" cy="264.53" r="0.95" fill="#D9532F" fill-opacity="0.7"/>
<circle cx="167.86" cy="258.42" r="0.95" fill="#D9532F" fill-opacity="0.7"/>
<circle cx="166.48" cy="261.24" r="0.95" fill="#D9532F" fill-opacity="0.7"/>
<circle cx="166.81" cy="261.68" r="0.95" fill="#D9532F" fill-opacity="0.7"/>
<circle cx="166.97" cy="267.19" r="0.95" fill="#D9532F" fill-opacity="0.7"/>
<circle cx="167.01" cy="261.57" r="0.95" fill="#D9532F" fill-opacity="0.7"/>
<circle cx="167.33" cy="268.20" r="0.95" fill="#D9532F" fill-opacity="0.7"/>
<circle cx="167.01" cy="261.82" r="0.95" fill="#D9532F" fill-opacity="0.7"/>
<circle cx="167.04" cy="255.99" r="0.95" fill="#D9532F" fill-opacity="0.7"/>
<circle cx="167.57" cy="266.80" r="0.95" fill="#D9532F" fill-opacity="0.7"/>
<circle cx="167.25" cy="258.09" r="0.95" fill="#D9532F" fill-opacity="0.7"/>
<circle cx="166.74" cy="267.46" r="0.95" fill="#D9532F" fill-opacity="0.7"/>
<circle cx="167.64" cy="263.38" r="0.95" fill="#D9532F" fill-opacity="0.7"/>
<circle cx="168.10" cy="261.07" r="0.95" fill="#D9532F" fill-opacity="0.7"/>
<circle cx="167.71" cy="243.55" r="0.95" fill="#D9532F" fill-opacity="0.7"/>
<circle cx="167.25" cy="247.44" r="0.95" fill="#D9532F" fill-opacity="0.7"/>
<circle cx="167.79" cy="277.13" r="0.95" fill="#D9532F" fill-opacity="0.7"/>
<circle cx="167.29" cy="278.83" r="0.95" fill="#D9532F" fill-opacity="0.7"/>
<line x1="119.00" y1="241.20" x2="119.00" y2="280.70" stroke="#505050" stroke-width="0.95"/>
<line x1="118.60" y1="280.30" x2="173.60" y2="280.30" stroke="#505050" stroke-width="0.95"/>
<line x1="117.20" y1="270.80" x2="119.00" y2="270.80" stroke="#505050" stroke-width="0.8"/>
<text x="116.40" y="273.91" font-size="9.00" text-anchor="end" fill="#606060">12</text>
<line x1="117.20" y1="261.07" x2="119.00" y2="261.07" stroke="#505050" stroke-width="0.8"/>
<text x="116.40" y="264.17" font-size="9.00" text-anchor="end" fill="#606060">16</text>
<line x1="117.20" y1="251.33" x2="119.00" y2="251.33" stroke="#505050" stroke-width="0.8"/>
<text x="116.40" y="254.44" font-size="9.00" text-anchor="end" fill="#606060">20</text>
<line x1="117.20" y1="241.60" x2="119.00" y2="241.60" stroke="#505050" stroke-width="0.8"/>
<text x="116.40" y="244.70" font-size="9.00" text-anchor="end" fill="#606060">24</text>
<line x1="126.60" y1="280.30" x2="126.60" y2="282.10" stroke="#505050" stroke-width="0.8"/>
<text x="126.60" y="290.01" font-size="9.00" text-anchor="middle" fill="#606060">2</text>
<line x1="139.80" y1="280.30" x2="139.80" y2="282.10" stroke="#505050" stroke-width="0.8"/>
<text x="139.80" y="290.01" font-size="9.00" text-anchor="middle" fill="#606060">3</text>
<line x1="153.20" y1="280.30" x2="153.20" y2="282.10" stroke="#505050" stroke-width="0.8"/>
<text x="153.20" y="290.01" font-size="9.00" text-anchor="middle" fill="#606060">4</text>
<line x1="166.00" y1="280.30" x2="166.00" y2="282.10" stroke="#505050" stroke-width="0.8"/>
<text x="166.00" y="290.01" font-size="9.00" text-anchor="middle" fill="#606060">5</text>
<line x1="285.30" y1="246.00" x2="285.30" y2="357.00" stroke="#363636" stroke-width="1.0"/>
<line x1="284.80" y1="356.50" x2="442.10" y2="356.50" stroke="#363636" stroke-width="1.0"/>
<line x1="283.10" y1="351.50" x2="285.30" y2="351.50" stroke="#363636" stroke-width="1.0"/>
<text x="281.00" y="355.40" font-size="11.30" text-anchor="end" fill="#4D4D4D">3</text>
<line x1="283.10" y1="318.00" x2="285.30" y2="318.00" stroke="#363636" stroke-width="1.0"/>
<text x="281.00" y="321.90" font-size="11.30" text-anchor="end" fill="#4D4D4D">4</text>
<line x1="283.10" y1="284.50" x2="285.30" y2="284.50" stroke="#363636" stroke-width="1.0"/>
<text x="281.00" y="288.40" font-size="11.30" text-anchor="end" fill="#4D4D4D">5</text>
<line x1="283.10" y1="251.00" x2="285.30" y2="251.00" stroke="#363636" stroke-width="1.0"/>
<text x="281.00" y="254.90" font-size="11.30" text-anchor="end" fill="#4D4D4D">6</text>
<line x1="301.20" y1="356.50" x2="301.20" y2="358.70" stroke="#363636" stroke-width="1.0"/>
<text x="301.20" y="367.80" font-size="11.30" text-anchor="middle" fill="#4D4D4D">2</text>
<line x1="343.05" y1="356.50" x2="343.05" y2="358.70" stroke="#363636" stroke-width="1.0"/>
<text x="343.05" y="367.80" font-size="11.30" text-anchor="middle" fill="#4D4D4D">3</text>
<line x1="384.90" y1="356.50" x2="384.90" y2="358.70" stroke="#363636" stroke-width="1.0"/>
<text x="384.90" y="367.80" font-size="11.30" text-anchor="middle" fill="#4D4D4D">4</text>
<line x1="426.75" y1="356.50" x2="426.75" y2="358.70" stroke="#363636" stroke-width="1.0"/>
<text x="426.75" y="367.80" font-size="11.30" text-anchor="middle" fill="#4D4D4D">5</text>
<path d="M296.70,340.40 L338.70,333.30 L380.60,327.70 L422.30,325.90" fill="none" stroke="#3B7DBE" stroke-width="1.15"/>
<line x1="296.70" y1="333.30" x2="296.70" y2="347.90" stroke="#3B7DBE" stroke-width="1.35"/>
<line x1="294.60" y1="333.30" x2="298.80" y2="333.30" stroke="#3B7DBE" stroke-width="1.35"/>
<line x1="294.60" y1="347.90" x2="298.80" y2="347.90" stroke="#3B7DBE" stroke-width="1.35"/>
<circle cx="296.70" cy="340.40" r="2.7" fill="#3B7DBE"/>
<line x1="338.70" y1="324.60" x2="338.70" y2="342.50" stroke="#3B7DBE" stroke-width="1.35"/>
<line x1="336.60" y1="324.60" x2="340.80" y2="324.60" stroke="#3B7DBE" stroke-width="1.35"/>
<line x1="336.60" y1="342.50" x2="340.80" y2="342.50" stroke="#3B7DBE" stroke-width="1.35"/>
<circle cx="338.70" cy="333.30" r="2.7" fill="#3B7DBE"/>
<line x1="380.60" y1="314.00" x2="380.60" y2="341.70" stroke="#3B7DBE" stroke-width="1.35"/>
<line x1="378.50" y1="314.00" x2="382.70" y2="314.00" stroke="#3B7DBE" stroke-width="1.35"/>
<line x1="378.50" y1="341.70" x2="382.70" y2="341.70" stroke="#3B7DBE" stroke-width="1.35"/>
<circle cx="380.60" cy="327.70" r="2.7" fill="#3B7DBE"/>
<line x1="422.30" y1="310.80" x2="422.30" y2="340.40" stroke="#3B7DBE" stroke-width="1.35"/>
<line x1="420.20" y1="310.80" x2="424.40" y2="310.80" stroke="#3B7DBE" stroke-width="1.35"/>
<line x1="420.20" y1="340.40" x2="424.40" y2="340.40" stroke="#3B7DBE" stroke-width="1.35"/>
<circle cx="422.30" cy="325.90" r="2.7" fill="#3B7DBE"/>
<path d="M305.30,339.10 L347.10,333.30 L389.10,334.30 L430.70,328.50" fill="none" stroke="#D1472A" stroke-width="1.15"/>
<line x1="305.30" y1="332.50" x2="305.30" y2="346.50" stroke="#D1472A" stroke-width="1.35"/>
<line x1="303.20" y1="332.50" x2="307.40" y2="332.50" stroke="#D1472A" stroke-width="1.35"/>
<line x1="303.20" y1="346.50" x2="307.40" y2="346.50" stroke="#D1472A" stroke-width="1.35"/>
<circle cx="305.30" cy="339.10" r="2.7" fill="#D1472A"/>
<line x1="347.10" y1="324.60" x2="347.10" y2="342.50" stroke="#D1472A" stroke-width="1.35"/>
<line x1="345.00" y1="324.60" x2="349.20" y2="324.60" stroke="#D1472A" stroke-width="1.35"/>
<line x1="345.00" y1="342.50" x2="349.20" y2="342.50" stroke="#D1472A" stroke-width="1.35"/>
<circle cx="347.10" cy="333.30" r="2.7" fill="#D1472A"/>
<line x1="389.10" y1="321.90" x2="389.10" y2="347.50" stroke="#D1472A" stroke-width="1.35"/>
<line x1="387.00" y1="321.90" x2="391.20" y2="321.90" stroke="#D1472A" stroke-width="1.35"/>
<line x1="387.00" y1="347.50" x2="391.20" y2="347.50" stroke="#D1472A" stroke-width="1.35"/>
<circle cx="389.10" cy="334.30" r="2.7" fill="#D1472A"/>
<line x1="430.70" y1="313.50" x2="430.70" y2="344.30" stroke="#D1472A" stroke-width="1.35"/>
<line x1="428.60" y1="313.50" x2="432.80" y2="313.50" stroke="#D1472A" stroke-width="1.35"/>
<line x1="428.60" y1="344.30" x2="432.80" y2="344.30" stroke="#D1472A" stroke-width="1.35"/>
<circle cx="430.70" cy="328.50" r="2.7" fill="#D1472A"/>
<rect x="325.40" y="242.30" width="78.10" height="56.10" fill="#F2F2F2"/>
<circle cx="340.77" cy="274.85" r="0.95" fill="#4589C8" fill-opacity="0.7"/>
<circle cx="340.84" cy="282.70" r="0.95" fill="#4589C8" fill-opacity="0.7"/>
<circle cx="340.73" cy="284.54" r="0.95" fill="#4589C8" fill-opacity="0.7"/>
<circle cx="341.19" cy="269.39" r="0.95" fill="#4589C8" fill-opacity="0.7"/>
<circle cx="340.98" cy="266.03" r="0.95" fill="#4589C8" fill-opacity="0.7"/>
<circle cx="340.74" cy="268.74" r="0.95" fill="#4589C8" fill-opacity="0.7"/>
<circle cx="341.57" cy="264.33" r="0.95" fill="#4589C8" fill-opacity="0.7"/>
<circle cx="340.26" cy="273.48" r="0.95" fill="#4589C8" fill-opacity="0.7"/>
<circle cx="340.87" cy="265.41" r="0.95" fill="#4589C8" fill-opacity="0.7"/>
<circle cx="340.53" cy="269.06" r="0.95" fill="#4589C8" fill-opacity="0.7"/>
<circle cx="341.52" cy="268.26" r="0.95" fill="#4589C8" fill-opacity="0.7"/>
<circle cx="340.89" cy="270.52" r="0.95" fill="#4589C8" fill-opacity="0.7"/>
<circle cx="341.07" cy="267.39" r="0.95" fill="#4589C8" fill-opacity="0.7"/>
<circle cx="340.92" cy="270.22" r="0.95" fill="#4589C8" fill-opacity="0.7"/>
<circle cx="341.29" cy="282.61" r="0.95" fill="#4589C8" fill-opacity="0.7"/>
<circle cx="340.60" cy="267.18" r="0.95" fill="#4589C8" fill-opacity="0.7"/>
<circle cx="341.10" cy="266.42" r="0.95" fill="#4589C8" fill-opacity="0.7"/>
<circle cx="340.21" cy="273.70" r="0.95" fill="#4589C8" fill-opacity="0.7"/>
<circle cx="340.98" cy="259.39" r="0.95" fill="#4589C8" fill-opacity="0.7"/>
<circle cx="341.17" cy="272.30" r="0.95" fill="#4589C8" fill-opacity="0.7"/>
<circle cx="341.08" cy="280.61" r="0.95" fill="#4589C8" fill-opacity="0.7"/>
<circle cx="340.99" cy="271.50" r="0.95" fill="#4589C8" fill-opacity="0.7"/>
<circle cx="340.15" cy="275.55" r="0.95" fill="#4589C8" fill-opacity="0.7"/>
<circle cx="340.82" cy="280.63" r="0.95" fill="#4589C8" fill-opacity="0.7"/>
<circle cx="340.67" cy="261.54" r="0.95" fill="#4589C8" fill-opacity="0.7"/>
<circle cx="341.30" cy="280.32" r="0.95" fill="#4589C8" fill-opacity="0.7"/>
<circle cx="340.97" cy="272.56" r="0.95" fill="#4589C8" fill-opacity="0.7"/>
<circle cx="341.01" cy="274.93" r="0.95" fill="#4589C8" fill-opacity="0.7"/>
<circle cx="341.23" cy="285.00" r="0.95" fill="#4589C8" fill-opacity="0.7"/>
<circle cx="340.97" cy="273.71" r="0.95" fill="#4589C8" fill-opacity="0.7"/>
<circle cx="340.33" cy="262.93" r="0.95" fill="#4589C8" fill-opacity="0.7"/>
<circle cx="340.51" cy="266.27" r="0.95" fill="#4589C8" fill-opacity="0.7"/>
<circle cx="340.08" cy="258.60" r="0.95" fill="#4589C8" fill-opacity="0.7"/>
<circle cx="341.20" cy="271.26" r="0.95" fill="#4589C8" fill-opacity="0.7"/>
<circle cx="344.32" cy="259.61" r="0.95" fill="#D9532F" fill-opacity="0.7"/>
<circle cx="343.95" cy="270.24" r="0.95" fill="#D9532F" fill-opacity="0.7"/>
<circle cx="344.55" cy="265.87" r="0.95" fill="#D9532F" fill-opacity="0.7"/>
<circle cx="344.24" cy="269.98" r="0.95" fill="#D9532F" fill-opacity="0.7"/>
<circle cx="344.28" cy="276.82" r="0.95" fill="#D9532F" fill-opacity="0.7"/>
<circle cx="344.83" cy="272.38" r="0.95" fill="#D9532F" fill-opacity="0.7"/>
<circle cx="343.69" cy="270.41" r="0.95" fill="#D9532F" fill-opacity="0.7"/>
<circle cx="343.89" cy="260.51" r="0.95" fill="#D9532F" fill-opacity="0.7"/>
<circle cx="344.35" cy="277.96" r="0.95" fill="#D9532F" fill-opacity="0.7"/>
<circle cx="344.30" cy="268.15" r="0.95" fill="#D9532F" fill-opacity="0.7"/>
<circle cx="344.77" cy="269.71" r="0.95" fill="#D9532F" fill-opacity="0.7"/>
<circle cx="344.27" cy="267.83" r="0.95" fill="#D9532F" fill-opacity="0.7"/>
<circle cx="344.56" cy="262.30" r="0.95" fill="#D9532F" fill-opacity="0.7"/>
<circle cx="344.97" cy="266.75" r="0.95" fill="#D9532F" fill-opacity="0.7"/>
<circle cx="343.92" cy="273.13" r="0.95" fill="#D9532F" fill-opacity="0.7"/>
<circle cx="343.90" cy="258.55" r="0.95" fill="#D9532F" fill-opacity="0.7"/>
<circle cx="344.14" cy="266.77" r="0.95" fill="#D9532F" fill-opacity="0.7"/>
<circle cx="344.31" cy="274.33" r="0.95" fill="#D9532F" fill-opacity="0.7"/>
<circle cx="344.01" cy="267.95" r="0.95" fill="#D9532F" fill-opacity="0.7"/>
<circle cx="344.47" cy="260.56" r="0.95" fill="#D9532F" fill-opacity="0.7"/>
<circle cx="344.12" cy="279.53" r="0.95" fill="#D9532F" fill-opacity="0.7"/>
<circle cx="344.77" cy="265.63" r="0.95" fill="#D9532F" fill-opacity="0.7"/>
<circle cx="344.56" cy="269.34" r="0.95" fill="#D9532F" fill-opacity="0.7"/>
<circle cx="344.62" cy="273.95" r="0.95" fill="#D9532F" fill-opacity="0.7"/>
<circle cx="344.46" cy="276.92" r="0.95" fill="#D9532F" fill-opacity="0.7"/>
<circle cx="344.46" cy="275.25" r="0.95" fill="#D9532F" fill-opacity="0.7"/>
<circle cx="343.83" cy="273.52" r="0.95" fill="#D9532F" fill-opacity="0.7"/>
<circle cx="344.31" cy="267.20" r="0.95" fill="#D9532F" fill-opacity="0.7"/>
<circle cx="343.78" cy="272.00" r="0.95" fill="#D9532F" fill-opacity="0.7"/>
<circle cx="344.83" cy="271.23" r="0.95" fill="#D9532F" fill-opacity="0.7"/>
<circle cx="344.00" cy="272.86" r="0.95" fill="#D9532F" fill-opacity="0.7"/>
<circle cx="344.08" cy="272.63" r="0.95" fill="#D9532F" fill-opacity="0.7"/>
<circle cx="344.23" cy="266.69" r="0.95" fill="#D9532F" fill-opacity="0.7"/>
<circle cx="345.13" cy="277.06" r="0.95" fill="#D9532F" fill-opacity="0.7"/>
<circle cx="344.01" cy="254.20" r="0.95" fill="#D9532F" fill-opacity="0.7"/>
<circle cx="358.55" cy="278.74" r="0.95" fill="#4589C8" fill-opacity="0.7"/>
<circle cx="358.03" cy="259.21" r="0.95" fill="#4589C8" fill-opacity="0.7"/>
<circle cx="358.86" cy="270.57" r="0.95" fill="#4589C8" fill-opacity="0.7"/>
<circle cx="357.91" cy="276.16" r="0.95" fill="#4589C8" fill-opacity="0.7"/>
<circle cx="357.80" cy="278.28" r="0.95" fill="#4589C8" fill-opacity="0.7"/>
<circle cx="357.98" cy="266.18" r="0.95" fill="#4589C8" fill-opacity="0.7"/>
<circle cx="357.80" cy="273.47" r="0.95" fill="#4589C8" fill-opacity="0.7"/>
<circle cx="357.74" cy="266.95" r="0.95" fill="#4589C8" fill-opacity="0.7"/>
<circle cx="358.23" cy="278.24" r="0.95" fill="#4589C8" fill-opacity="0.7"/>
<circle cx="357.83" cy="262.29" r="0.95" fill="#4589C8" fill-opacity="0.7"/>
<circle cx="358.29" cy="278.02" r="0.95" fill="#4589C8" fill-opacity="0.7"/>
<circle cx="358.19" cy="262.03" r="0.95" fill="#4589C8" fill-opacity="0.7"/>
<circle cx="358.30" cy="273.42" r="0.95" fill="#4589C8" fill-opacity="0.7"/>
<circle cx="358.52" cy="274.41" r="0.95" fill="#4589C8" fill-opacity="0.7"/>
<circle cx="358.35" cy="269.75" r="0.95" fill="#4589C8" fill-opacity="0.7"/>
<circle cx="357.66" cy="271.20" r="0.95" fill="#4589C8" fill-opacity="0.7"/>
<circle cx="358.44" cy="270.53" r="0.95" fill="#4589C8" fill-opacity="0.7"/>
<circle cx="357.15" cy="270.20" r="0.95" fill="#4589C8" fill-opacity="0.7"/>
<circle cx="358.41" cy="259.92" r="0.95" fill="#4589C8" fill-opacity="0.7"/>
<circle cx="358.40" cy="265.39" r="0.95" fill="#4589C8" fill-opacity="0.7"/>
<circle cx="357.62" cy="282.56" r="0.95" fill="#4589C8" fill-opacity="0.7"/>
<circle cx="358.42" cy="258.92" r="0.95" fill="#4589C8" fill-opacity="0.7"/>
<circle cx="357.35" cy="284.59" r="0.95" fill="#4589C8" fill-opacity="0.7"/>
<circle cx="358.33" cy="283.61" r="0.95" fill="#4589C8" fill-opacity="0.7"/>
<circle cx="357.85" cy="263.39" r="0.95" fill="#4589C8" fill-opacity="0.7"/>
<circle cx="357.89" cy="277.72" r="0.95" fill="#4589C8" fill-opacity="0.7"/>
<circle cx="357.93" cy="268.57" r="0.95" fill="#4589C8" fill-opacity="0.7"/>
<circle cx="357.79" cy="271.20" r="0.95" fill="#4589C8" fill-opacity="0.7"/>
<circle cx="358.23" cy="281.97" r="0.95" fill="#4589C8" fill-opacity="0.7"/>
<circle cx="357.97" cy="271.50" r="0.95" fill="#4589C8" fill-opacity="0.7"/>
<circle cx="357.97" cy="268.65" r="0.95" fill="#4589C8" fill-opacity="0.7"/>
<circle cx="358.00" cy="271.41" r="0.95" fill="#4589C8" fill-opacity="0.7"/>
<circle cx="357.86" cy="270.05" r="0.95" fill="#4589C8" fill-opacity="0.7"/>
<circle cx="357.64" cy="271.66" r="0.95" fill="#4589C8" fill-opacity="0.7"/>
<circle cx="361.39" cy="273.32" r="0.95" fill="#D9532F" fill-opacity="0.7"/>
<circle cx="361.47" cy="269.26" r="0.95" fill="#D9532F" fill-opacity="0.7"/>
<circle cx="360.79" cy="258.22" r="0.95" fill="#D9532F" fill-opacity="0.7"/>
<circle cx="361.51" cy="265.63" r="0.95" fill="#D9532F" fill-opacity="0.7"/>
<circle cx="361.62" cy="260.86" r="0.95" fill="#D9532F" fill-opacity="0.7"/>
<circle cx="361.25" cy="266.95" r="0.95" fill="#D9532F" fill-opacity="0.7"/>
<circle cx="361.68" cy="259.57" r="0.95" fill="#D9532F" fill-opacity="0.7"/>
<circle cx="360.45" cy="265.05" r="0.95" fill="#D9532F" fill-opacity="0.7"/>
<circle cx="361.65" cy="275.06" r="0.95" fill="#D9532F" fill-opacity="0.7"/>
<circle cx="360.94" cy="272.00" r="0.95" fill="#D9532F" fill-opacity="0.7"/>
<circle cx="361.29" cy="269.52" r="0.95" fill="#D9532F" fill-opacity="0.7"/>
<circle cx="360.88" cy="278.06" r="0.95" fill="#D9532F" fill-opacity="0.7"/>
<circle cx="362.02" cy="259.25" r="0.95" fill="#D9532F" fill-opacity="0.7"/>
<circle cx="361.05" cy="269.45" r="0.95" fill="#D9532F" fill-opacity="0.7"/>
<circle cx="361.41" cy="275.97" r="0.95" fill="#D9532F" fill-opacity="0.7"/>
<circle cx="360.69" cy="269.24" r="0.95" fill="#D9532F" fill-opacity="0.7"/>
<circle cx="361.09" cy="262.00" r="0.95" fill="#D9532F" fill-opacity="0.7"/>
<circle cx="361.33" cy="274.28" r="0.95" fill="#D9532F" fill-opacity="0.7"/>
<circle cx="361.15" cy="267.03" r="0.95" fill="#D9532F" fill-opacity="0.7"/>
<circle cx="360.93" cy="278.49" r="0.95" fill="#D9532F" fill-opacity="0.7"/>
<circle cx="361.69" cy="275.02" r="0.95" fill="#D9532F" fill-opacity="0.7"/>
<circle cx="360.66" cy="276.27" r="0.95" fill="#D9532F" fill-opacity="0.7"/>
<circle cx="361.22" cy="268.92" r="0.95" fill="#D9532F" fill-opacity="0.7"/>
<circle cx="361.13" cy="264.71" r="0.95" fill="#D9532F" fill-opacity="0.7"/>
<circle cx="361.06" cy="275.35" r="0.95" fill="#D9532F" fill-opacity="0.7"/>
<circle cx="361.41" cy="264.69" r="0.95" fill="#D9532F" fill-opacity="0.7"/>
<circle cx="361.27" cy="275.65" r="0.95" fill="#D9532F" fill-opacity="0.7"/>
<circle cx="361.13" cy="273.01" r="0.95" fill="#D9532F" fill-opacity="0.7"/>
<circle cx="361.41" cy="264.89" r="0.95" fill="#D9532F" fill-opacity="0.7"/>
<circle cx="361.16" cy="269.16" r="0.95" fill="#D9532F" fill-opacity="0.7"/>
<circle cx="361.37" cy="263.96" r="0.95" fill="#D9532F" fill-opacity="0.7"/>
<circle cx="361.62" cy="269.17" r="0.95" fill="#D9532F" fill-opacity="0.7"/>
<circle cx="361.27" cy="271.93" r="0.95" fill="#D9532F" fill-opacity="0.7"/>
<circle cx="361.21" cy="269.23" r="0.95" fill="#D9532F" fill-opacity="0.7"/>
<circle cx="374.09" cy="282.38" r="0.95" fill="#4589C8" fill-opacity="0.7"/>
<circle cx="374.77" cy="265.12" r="0.95" fill="#4589C8" fill-opacity="0.7"/>
<circle cx="374.62" cy="281.83" r="0.95" fill="#4589C8" fill-opacity="0.7"/>
<circle cx="374.47" cy="283.93" r="0.95" fill="#4589C8" fill-opacity="0.7"/>
<circle cx="374.39" cy="282.41" r="0.95" fill="#4589C8" fill-opacity="0.7"/>
<circle cx="374.01" cy="268.29" r="0.95" fill="#4589C8" fill-opacity="0.7"/>
<circle cx="374.32" cy="278.96" r="0.95" fill="#4589C8" fill-opacity="0.7"/>
<circle cx="374.39" cy="276.89" r="0.95" fill="#4589C8" fill-opacity="0.7"/>
<circle cx="373.89" cy="261.37" r="0.95" fill="#4589C8" fill-opacity="0.7"/>
<circle cx="373.96" cy="271.25" r="0.95" fill="#4589C8" fill-opacity="0.7"/>
<circle cx="374.25" cy="280.47" r="0.95" fill="#4589C8" fill-opacity="0.7"/>
<circle cx="374.94" cy="264.07" r="0.95" fill="#4589C8" fill-opacity="0.7"/>
<circle cx="374.41" cy="254.36" r="0.95" fill="#4589C8" fill-opacity="0.7"/>
<circle cx="373.80" cy="265.84" r="0.95" fill="#4589C8" fill-opacity="0.7"/>
<circle cx="374.72" cy="271.29" r="0.95" fill="#4589C8" fill-opacity="0.7"/>
<circle cx="374.59" cy="268.42" r="0.95" fill="#4589C8" fill-opacity="0.7"/>
<circle cx="374.53" cy="263.36" r="0.95" fill="#4589C8" fill-opacity="0.7"/>
<circle cx="374.10" cy="259.18" r="0.95" fill="#4589C8" fill-opacity="0.7"/>
<circle cx="374.25" cy="260.80" r="0.95" fill="#4589C8" fill-opacity="0.7"/>
<circle cx="375.03" cy="277.35" r="0.95" fill="#4589C8" fill-opacity="0.7"/>
<circle cx="374.67" cy="260.97" r="0.95" fill="#4589C8" fill-opacity="0.7"/>
<circle cx="375.85" cy="281.81" r="0.95" fill="#4589C8" fill-opacity="0.7"/>
<circle cx="373.67" cy="281.05" r="0.95" fill="#4589C8" fill-opacity="0.7"/>
<circle cx="373.75" cy="269.37" r="0.95" fill="#4589C8" fill-opacity="0.7"/>
<circle cx="374.14" cy="279.32" r="0.95" fill="#4589C8" fill-opacity="0.7"/>
<circle cx="373.98" cy="267.71" r="0.95" fill="#4589C8" fill-opacity="0.7"/>
<circle cx="374.06" cy="272.73" r="0.95" fill="#4589C8" fill-opacity="0.7"/>
<circle cx="374.54" cy="255.17" r="0.95" fill="#4589C8" fill-opacity="0.7"/>
<circle cx="374.74" cy="279.95" r="0.95" fill="#4589C8" fill-opacity="0.7"/>
<circle cx="373.81" cy="264.99" r="0.95" fill="#4589C8" fill-opacity="0.7"/>
<circle cx="374.48" cy="263.24" r="0.95" fill="#4589C8" fill-opacity="0.7"/>
<circle cx="374.58" cy="271.90" r="0.95" fill="#4589C8" fill-opacity="0.7"/>
<circle cx="374.38" cy="268.76" r="0.95" fill="#4589C8" fill-opacity="0.7"/>
<circle cx="374.75" cy="276.72" r="0.95" fill="#4589C8" fill-opacity="0.7"/>
<circle cx="377.89" cy="270.28" r="0.95" fill="#D9532F" fill-opacity="0.7"/>
<circle cx="377.22" cy="277.39" r="0.95" fill="#D9532F" fill-opacity="0.7"/>
<circle cx="377.54" cy="263.58" r="0.95" fill="#D9532F" fill-opacity="0.7"/>
<circle cx="377.58" cy="256.77" r="0.95" fill="#D9532F" fill-opacity="0.7"/>
<circle cx="377.08" cy="262.82" r="0.95" fill="#D9532F" fill-opacity="0.7"/>
<circle cx="377.41" cy="272.41" r="0.95" fill="#D9532F" fill-opacity="0.7"/>
<circle cx="377.84" cy="267.03" r="0.95" fill="#D9532F" fill-opacity="0.7"/>
<circle cx="377.62" cy="271.39" r="0.95" fill="#D9532F" fill-opacity="0.7"/>
<circle cx="377.50" cy="270.49" r="0.95" fill="#D9532F" fill-opacity="0.7"/>
<circle cx="378.37" cy="260.62" r="0.95" fill="#D9532F" fill-opacity="0.7"/>
<circle cx="377.70" cy="280.43" r="0.95" fill="#D9532F" fill-opacity="0.7"/>
<circle cx="377.82" cy="268.15" r="0.95" fill="#D9532F" fill-opacity="0.7"/>
<circle cx="377.20" cy="267.37" r="0.95" fill="#D9532F" fill-opacity="0.7"/>
<circle cx="377.91" cy="276.80" r="0.95" fill="#D9532F" fill-opacity="0.7"/>
<circle cx="377.34" cy="261.67" r="0.95" fill="#D9532F" fill-opacity="0.7"/>
<circle cx="377.43" cy="274.04" r="0.95" fill="#D9532F" fill-opacity="0.7"/>
<circle cx="377.35" cy="270.17" r="0.95" fill="#D9532F" fill-opacity="0.7"/>
<circle cx="377.06" cy="274.19" r="0.95" fill="#D9532F" fill-opacity="0.7"/>
<circle cx="377.69" cy="265.16" r="0.95" fill="#D9532F" fill-opacity="0.7"/>
<circle cx="377.07" cy="269.46" r="0.95" fill="#D9532F" fill-opacity="0.7"/>
<circle cx="377.78" cy="262.92" r="0.95" fill="#D9532F" fill-opacity="0.7"/>
<circle cx="377.22" cy="269.61" r="0.95" fill="#D9532F" fill-opacity="0.7"/>
<circle cx="377.93" cy="260.34" r="0.95" fill="#D9532F" fill-opacity="0.7"/>
<circle cx="377.61" cy="266.35" r="0.95" fill="#D9532F" fill-opacity="0.7"/>
<circle cx="377.89" cy="277.89" r="0.95" fill="#D9532F" fill-opacity="0.7"/>
<circle cx="377.12" cy="267.88" r="0.95" fill="#D9532F" fill-opacity="0.7"/>
<circle cx="377.69" cy="267.76" r="0.95" fill="#D9532F" fill-opacity="0.7"/>
<circle cx="377.75" cy="263.33" r="0.95" fill="#D9532F" fill-opacity="0.7"/>
<circle cx="377.59" cy="262.08" r="0.95" fill="#D9532F" fill-opacity="0.7"/>
<circle cx="377.45" cy="269.57" r="0.95" fill="#D9532F" fill-opacity="0.7"/>
<circle cx="377.29" cy="267.89" r="0.95" fill="#D9532F" fill-opacity="0.7"/>
<circle cx="376.38" cy="270.68" r="0.95" fill="#D9532F" fill-opacity="0.7"/>
<circle cx="377.67" cy="269.46" r="0.95" fill="#D9532F" fill-opacity="0.7"/>
<circle cx="377.06" cy="269.56" r="0.95" fill="#D9532F" fill-opacity="0.7"/>
<circle cx="390.74" cy="278.18" r="0.95" fill="#4589C8" fill-opacity="0.7"/>
<circle cx="391.22" cy="281.08" r="0.95" fill="#4589C8" fill-opacity="0.7"/>
<circle cx="390.19" cy="284.24" r="0.95" fill="#4589C8" fill-opacity="0.7"/>
<circle cx="390.83" cy="257.05" r="0.95" fill="#4589C8" fill-opacity="0.7"/>
<circle cx="391.33" cy="255.29" r="0.95" fill="#4589C8" fill-opacity="0.7"/>
<circle cx="391.10" cy="273.67" r="0.95" fill="#4589C8" fill-opacity="0.7"/>
<circle cx="391.02" cy="284.61" r="0.95" fill="#4589C8" fill-opacity="0.7"/>
<circle cx="390.83" cy="262.39" r="0.95" fill="#4589C8" fill-opacity="0.7"/>
<circle cx="391.15" cy="264.58" r="0.95" fill="#4589C8" fill-opacity="0.7"/>
<circle cx="390.57" cy="283.60" r="0.95" fill="#4589C8" fill-opacity="0.7"/>
<circle cx="390.90" cy="261.39" r="0.95" fill="#4589C8" fill-opacity="0.7"/>
<circle cx="391.37" cy="282.92" r="0.95" fill="#4589C8" fill-opacity="0.7"/>
<circle cx="390.78" cy="277.82" r="0.95" fill="#4589C8" fill-opacity="0.7"/>
<circle cx="391.05" cy="261.02" r="0.95" fill="#4589C8" fill-opacity="0.7"/>
<circle cx="390.97" cy="261.37" r="0.95" fill="#4589C8" fill-opacity="0.7"/>
<circle cx="390.67" cy="277.79" r="0.95" fill="#4589C8" fill-opacity="0.7"/>
<circle cx="390.42" cy="269.35" r="0.95" fill="#4589C8" fill-opacity="0.7"/>
<circle cx="390.80" cy="260.35" r="0.95" fill="#4589C8" fill-opacity="0.7"/>
<circle cx="390.83" cy="266.41" r="0.95" fill="#4589C8" fill-opacity="0.7"/>
<circle cx="390.74" cy="268.82" r="0.95" fill="#4589C8" fill-opacity="0.7"/>
<circle cx="391.08" cy="279.30" r="0.95" fill="#4589C8" fill-opacity="0.7"/>
<circle cx="391.20" cy="282.91" r="0.95" fill="#4589C8" fill-opacity="0.7"/>
<circle cx="391.31" cy="279.21" r="0.95" fill="#4589C8" fill-opacity="0.7"/>
<circle cx="391.22" cy="268.85" r="0.95" fill="#4589C8" fill-opacity="0.7"/>
<circle cx="390.69" cy="266.64" r="0.95" fill="#4589C8" fill-opacity="0.7"/>
<circle cx="391.57" cy="270.82" r="0.95" fill="#4589C8" fill-opacity="0.7"/>
<circle cx="391.22" cy="274.81" r="0.95" fill="#4589C8" fill-opacity="0.7"/>
<circle cx="391.35" cy="275.59" r="0.95" fill="#4589C8" fill-opacity="0.7"/>
<circle cx="390.66" cy="273.47" r="0.95" fill="#4589C8" fill-opacity="0.7"/>
<circle cx="391.47" cy="274.62" r="0.95" fill="#4589C8" fill-opacity="0.7"/>
<circle cx="391.88" cy="265.45" r="0.95" fill="#4589C8" fill-opacity="0.7"/>
<circle cx="391.27" cy="275.95" r="0.95" fill="#4589C8" fill-opacity="0.7"/>
<circle cx="391.48" cy="256.46" r="0.95" fill="#4589C8" fill-opacity="0.7"/>
<circle cx="390.90" cy="281.88" r="0.95" fill="#4589C8" fill-opacity="0.7"/>
<circle cx="394.45" cy="259.20" r="0.95" fill="#D9532F" fill-opacity="0.7"/>
<circle cx="394.38" cy="260.64" r="0.95" fill="#D9532F" fill-opacity="0.7"/>
<circle cx="394.62" cy="262.76" r="0.95" fill="#D9532F" fill-opacity="0.7"/>
<circle cx="394.45" cy="266.32" r="0.95" fill="#D9532F" fill-opacity="0.7"/>
<circle cx="394.49" cy="274.20" r="0.95" fill="#D9532F" fill-opacity="0.7"/>
<circle cx="394.08" cy="277.95" r="0.95" fill="#D9532F" fill-opacity="0.7"/>
<circle cx="393.99" cy="263.51" r="0.95" fill="#D9532F" fill-opacity="0.7"/>
<circle cx="394.39" cy="274.18" r="0.95" fill="#D9532F" fill-opacity="0.7"/>
<circle cx="395.26" cy="264.77" r="0.95" fill="#D9532F" fill-opacity="0.7"/>
<circle cx="394.06" cy="266.40" r="0.95" fill="#D9532F" fill-opacity="0.7"/>
<circle cx="394.58" cy="264.90" r="0.95" fill="#D9532F" fill-opacity="0.7"/>
<circle cx="394.85" cy="269.50" r="0.95" fill="#D9532F" fill-opacity="0.7"/>
<circle cx="394.18" cy="274.41" r="0.95" fill="#D9532F" fill-opacity="0.7"/>
<circle cx="393.83" cy="272.75" r="0.95" fill="#D9532F" fill-opacity="0.7"/>
<circle cx="394.52" cy="262.59" r="0.95" fill="#D9532F" fill-opacity="0.7"/>
<circle cx="394.38" cy="257.70" r="0.95" fill="#D9532F" fill-opacity="0.7"/>
<circle cx="394.10" cy="272.36" r="0.95" fill="#D9532F" fill-opacity="0.7"/>
<circle cx="394.91" cy="272.49" r="0.95" fill="#D9532F" fill-opacity="0.7"/>
<circle cx="394.64" cy="269.02" r="0.95" fill="#D9532F" fill-opacity="0.7"/>
<circle cx="394.39" cy="269.51" r="0.95" fill="#D9532F" fill-opacity="0.7"/>
<circle cx="393.93" cy="264.25" r="0.95" fill="#D9532F" fill-opacity="0.7"/>
<circle cx="394.83" cy="261.06" r="0.95" fill="#D9532F" fill-opacity="0.7"/>
<circle cx="394.79" cy="260.75" r="0.95" fill="#D9532F" fill-opacity="0.7"/>
<circle cx="394.68" cy="259.69" r="0.95" fill="#D9532F" fill-opacity="0.7"/>
<circle cx="394.96" cy="261.85" r="0.95" fill="#D9532F" fill-opacity="0.7"/>
<circle cx="394.04" cy="255.48" r="0.95" fill="#D9532F" fill-opacity="0.7"/>
<circle cx="394.05" cy="273.01" r="0.95" fill="#D9532F" fill-opacity="0.7"/>
<circle cx="394.70" cy="265.89" r="0.95" fill="#D9532F" fill-opacity="0.7"/>
<circle cx="394.55" cy="270.28" r="0.95" fill="#D9532F" fill-opacity="0.7"/>
<circle cx="394.38" cy="271.33" r="0.95" fill="#D9532F" fill-opacity="0.7"/>
<circle cx="394.23" cy="265.10" r="0.95" fill="#D9532F" fill-opacity="0.7"/>
<circle cx="394.75" cy="272.40" r="0.95" fill="#D9532F" fill-opacity="0.7"/>
<circle cx="394.49" cy="273.54" r="0.95" fill="#D9532F" fill-opacity="0.7"/>
<circle cx="394.70" cy="269.87" r="0.95" fill="#D9532F" fill-opacity="0.7"/>
<line x1="335.80" y1="251.00" x2="335.80" y2="287.20" stroke="#505050" stroke-width="0.95"/>
<line x1="335.40" y1="286.80" x2="399.00" y2="286.80" stroke="#505050" stroke-width="0.95"/>
<line x1="334.00" y1="279.50" x2="335.80" y2="279.50" stroke="#505050" stroke-width="0.8"/>
<text x="333.20" y="282.61" font-size="9.00" text-anchor="end" fill="#606060">2</text>
<line x1="334.00" y1="268.50" x2="335.80" y2="268.50" stroke="#505050" stroke-width="0.8"/>
<text x="333.20" y="271.61" font-size="9.00" text-anchor="end" fill="#606060">4</text>
<line x1="334.00" y1="257.50" x2="335.80" y2="257.50" stroke="#505050" stroke-width="0.8"/>
<text x="333.20" y="260.61" font-size="9.00" text-anchor="end" fill="#606060">6</text>
<line x1="343.10" y1="286.80" x2="343.10" y2="288.60" stroke="#505050" stroke-width="0.8"/>
<text x="343.10" y="295.81" font-size="9.00" text-anchor="middle" fill="#606060">2</text>
<line x1="359.20" y1="286.80" x2="359.20" y2="288.60" stroke="#505050" stroke-width="0.8"/>
<text x="359.20" y="295.81" font-size="9.00" text-anchor="middle" fill="#606060">3</text>
<line x1="375.70" y1="286.80" x2="375.70" y2="288.60" stroke="#505050" stroke-width="0.8"/>
<text x="375.70" y="295.81" font-size="9.00" text-anchor="middle" fill="#606060">4</text>
<line x1="392.30" y1="286.80" x2="392.30" y2="288.60" stroke="#505050" stroke-width="0.8"/>
<text x="392.30" y="295.81" font-size="9.00" text-anchor="middle" fill="#606060">5</text>
<rect x="532.30" y="337.59" width="21.40" height="17.71" fill="#747574" stroke="#595959" stroke-width="0.8"/>
<rect x="554.50" y="254.68" width="22.50" height="100.62" fill="#747574" stroke="#595959" stroke-width="0.8"/>
<rect x="577.80" y="252.99" width="21.60" height="102.31" fill="#747574" stroke="#595959" stroke-width="0.8"/>
<rect x="600.20" y="259.76" width="21.80" height="95.54" fill="#747574" stroke="#595959" stroke-width="0.8"/>
<rect x="622.80" y="307.13" width="22.30" height="48.17" fill="#747574" stroke="#595959" stroke-width="0.8"/>
<rect x="645.90" y="332.51" width="21.70" height="22.79" fill="#747574" stroke="#595959" stroke-width="0.8"/>
<line x1="525.20" y1="237.20" x2="525.20" y2="355.80" stroke="#8E8E8E" stroke-width="1.4"/>
<line x1="524.50" y1="355.30" x2="675.00" y2="355.30" stroke="#2A2A2A" stroke-width="1.0"/>
<line x1="525.90" y1="355.80" x2="527.80" y2="355.80" stroke="#222" stroke-width="0.9"/>
<text x="518.20" y="359.80" font-size="11.60" text-anchor="end" fill="#333">0</text>
<line x1="525.90" y1="305.04" x2="527.80" y2="305.04" stroke="#222" stroke-width="0.9"/>
<text x="518.20" y="309.04" font-size="11.60" text-anchor="end" fill="#333">30</text>
<line x1="525.90" y1="254.28" x2="527.80" y2="254.28" stroke="#222" stroke-width="0.9"/>
<text x="518.20" y="258.28" font-size="11.60" text-anchor="end" fill="#333">60</text>
<text x="531.40" y="368.30" font-size="11.30" text-anchor="middle" fill="#333">1</text>
<text x="553.60" y="368.30" font-size="11.30" text-anchor="middle" fill="#333">2</text>
<text x="577.00" y="368.30" font-size="11.30" text-anchor="middle" fill="#333">3</text>
<text x="599.70" y="368.30" font-size="11.30" text-anchor="middle" fill="#333">4</text>
<text x="621.80" y="368.30" font-size="11.30" text-anchor="middle" fill="#333">5</text>
<text x="645.40" y="368.30" font-size="11.30" text-anchor="middle" fill="#333">6</text>
<text x="667.40" y="368.30" font-size="11.30" text-anchor="middle" fill="#333">7</text>
<line x1="599.80" y1="224.00" x2="599.80" y2="356.70" stroke="#000" stroke-width="3.0" stroke-dasharray="10 8.3"/>
<text transform="translate(1.59 17.60) scale(0.9847 1)" font-size="22.77" fill="#000" stroke="#000" stroke-width="0.3">A</text>
<text transform="translate(230.59 17.90) scale(1.0383 1)" font-size="23.04" fill="#000" stroke="#000" stroke-width="0.3">B</text>
<text transform="translate(457.55 18.20) scale(0.9590 1)" font-size="24.00" fill="#000" stroke="#000" stroke-width="0.3">C</text>
<text transform="translate(1.18 221.50) scale(0.9488 1)" font-size="23.91" fill="#000" stroke="#000" stroke-width="0.3">D</text>
<text transform="translate(231.27 218.00) scale(0.9279 1)" font-size="23.33" fill="#000" stroke="#000" stroke-width="0.3">E</text>
<text transform="translate(459.12 216.00) scale(0.9534 1)" font-size="23.33" fill="#000" stroke="#000" stroke-width="0.3">F</text>
<text transform="translate(94.89 14.60) scale(1.0249 1)" font-size="13.52" fill="#000" stroke="#000" stroke-width="0.3">HbO amplitude</text>
<text transform="translate(325.23 14.50) scale(1.0213 1)" font-size="13.52" fill="#000" stroke="#000" stroke-width="0.3">Alpha power</text>
<text transform="translate(567.08 14.60) scale(1.0697 1)" font-size="13.10" fill="#000" stroke="#000" stroke-width="0.3">Beta power</text>
<text transform="translate(127.93 219.60) scale(0.9906 1)" font-size="14.14" fill="#000" stroke="#000" stroke-width="0.12">VCT</text>
<text transform="translate(323.98 220.60) scale(1.0262 1)" font-size="13.66" fill="#000" stroke="#000" stroke-width="0.12">Fatigue rating</text>
<text transform="translate(104.35 28.50) scale(1.0402 1)" font-size="11.69" fill="#000" stroke="#000" stroke-width="0.15">Sham</text>
<text transform="translate(161.42 28.50) scale(1.0163 1)" font-size="11.57" fill="#000" stroke="#000" stroke-width="0.15">tRNS</text>
<text transform="translate(121.99 177.80) scale(1.0234 1)" font-size="12.39" fill="#000" stroke="#000" stroke-width="0.08">Block</text>
<text transform="translate(349.55 179.80) scale(0.9696 1)" font-size="12.25" fill="#000" stroke="#000" stroke-width="0.08">Block</text>
<text transform="translate(587.85 178.60) scale(0.9925 1)" font-size="11.97" fill="#000" stroke="#000" stroke-width="0.08">Block</text>
<text transform="translate(124.85 381.80) scale(0.9925 1)" font-size="11.97" fill="#000" stroke="#000" stroke-width="0.08">Block</text>
<text transform="translate(348.41 381.60) scale(0.9883 1)" font-size="12.54" fill="#000" stroke="#000" stroke-width="0.08">Block</text>
<text transform="translate(37.00 158.51) rotate(-90) scale(0.9210 1)" font-size="11.01" fill="#000" stroke="#000" stroke-width="0.05">Fitted HbO amplitude (μMol)</text>
<text transform="translate(261.50 155.25) rotate(-90) scale(0.9654 1)" font-size="12.32" fill="#000" stroke="#000" stroke-width="0.1">Fitted alpha power (dB)</text>
<text transform="translate(500.10 151.86) rotate(-90) scale(0.9369 1)" font-size="12.75" fill="#000" stroke="#000" stroke-width="0.1">Fitted beta power (dB)</text>
<text transform="translate(32.00 334.65) rotate(-90) scale(1.0090 1)" font-size="11.74" fill="#000" stroke="#000" stroke-width="0.1">Fitted VCT (%)</text>
<text transform="translate(271.80 348.38) rotate(-90) scale(0.9632 1)" font-size="11.45" fill="#000" stroke="#000" stroke-width="0.1">Fitted fatigue rating</text>
<text transform="translate(563.89 234.30) scale(1.0098 1)" font-size="13.77" fill="#000" stroke="#000" stroke-width="0.3">Low</text>
<text transform="translate(611.61 234.30) scale(1.0213 1)" font-size="13.38" fill="#000" stroke="#000" stroke-width="0.3">High</text>
<text transform="translate(556.63 382.60) scale(1.0510 1)" font-size="11.55" fill="#000" stroke="#000" stroke-width="0.3">Fatigue ratings</text>
<text transform="translate(501.00 323.77) rotate(-90) scale(0.9065 1)" font-size="13.33" fill="#000" stroke="#000" stroke-width="0.15">Block count</text>
</svg>
</body></html>
